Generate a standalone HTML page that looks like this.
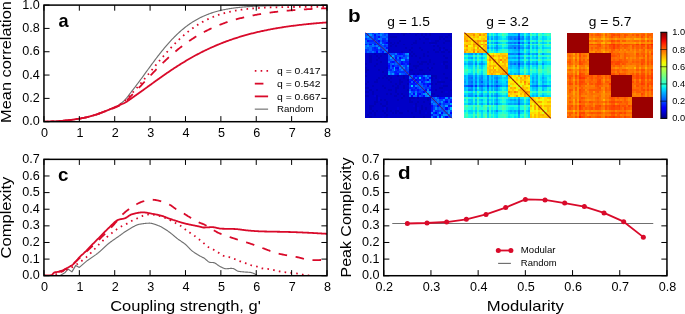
<!DOCTYPE html>
<html><head><meta charset="utf-8"><style>html,body{margin:0;padding:0;background:#fff;}svg{display:block;} svg{will-change:transform}</style></head>
<body><svg width="685" height="314" viewBox="0 0 685 314" font-family="'Liberation Sans', sans-serif">
<rect width="685" height="314" fill="#fff"/>
<defs><clipPath id="ca"><rect x="43.95" y="5.1" width="283.05" height="116.6"/></clipPath><clipPath id="cc"><rect x="43.95" y="159.35" width="283.05" height="116.37"/></clipPath></defs>
<path d="M43.95 121.70L44.83 121.69L45.72 121.68L46.60 121.66L47.49 121.64L48.37 121.61L49.26 121.58L50.14 121.55L51.03 121.51L51.91 121.47L52.80 121.43L53.68 121.38L54.56 121.33L55.45 121.28L56.33 121.23L57.22 121.17L58.10 121.12L58.99 121.06L59.87 121.00L60.76 120.94L61.64 120.88L62.53 120.82L63.41 120.75L64.29 120.67L65.18 120.59L66.06 120.50L66.95 120.41L67.83 120.31L68.72 120.20L69.60 120.09L70.49 119.98L71.37 119.86L72.26 119.74L73.14 119.62L74.02 119.49L74.91 119.36L75.79 119.22L76.68 119.09L77.56 118.95L78.45 118.81L79.33 118.67L80.22 118.52L81.10 118.37L81.98 118.21L82.87 118.04L83.75 117.87L84.64 117.69L85.52 117.50L86.41 117.30L87.29 117.10L88.18 116.89L89.06 116.68L89.95 116.45L90.83 116.22L91.71 115.98L92.60 115.72L93.48 115.46L94.37 115.18L95.25 114.90L96.14 114.61L97.02 114.31L97.91 114.00L98.79 113.68L99.68 113.35L100.56 113.02L101.44 112.69L102.33 112.34L103.21 111.99L104.10 111.64L104.98 111.29L105.87 110.96L106.75 110.62L107.64 110.28L108.52 109.94L109.41 109.59L110.29 109.25L111.17 108.89L112.06 108.52L112.94 108.15L113.83 107.75L114.71 107.34L115.60 106.90L116.48 106.43L117.37 105.92L118.25 105.37L119.14 104.77L120.02 104.12L120.90 103.42L121.79 102.67L122.67 102.00L123.56 101.24L124.44 100.40L125.33 99.47L126.21 98.47L127.10 97.40L127.98 96.28L128.87 95.12L129.75 93.94L130.63 92.75L131.52 91.58L132.40 90.43L133.29 89.31L134.17 88.18L135.06 87.03L135.94 85.88L136.83 84.71L137.71 83.53L138.59 82.35L139.48 81.16L140.36 79.96L141.25 78.76L142.13 77.55L143.02 76.33L143.90 75.12L144.79 73.90L145.67 72.68L146.56 71.46L147.44 70.24L148.32 69.03L149.21 67.81L150.09 66.60L150.98 65.39L151.86 64.19L152.75 62.99L153.63 61.80L154.52 60.61L155.40 59.43L156.29 58.26L157.17 57.10L158.05 55.95L158.94 54.81L159.82 53.68L160.71 52.56L161.59 51.45L162.48 50.35L163.36 49.27L164.25 48.20L165.13 47.14L166.02 46.10L166.90 45.07L167.78 44.05L168.67 43.05L169.55 42.06L170.44 41.09L171.32 40.14L172.21 39.20L173.09 38.28L173.98 37.37L174.86 36.48L175.75 35.60L176.63 34.74L177.51 33.90L178.40 33.07L179.28 32.26L180.17 31.47L181.05 30.69L181.94 29.93L182.82 29.19L183.71 28.46L184.59 27.75L185.48 27.06L186.36 26.38L187.24 25.71L188.13 25.07L189.01 24.43L189.90 23.82L190.78 23.22L191.67 22.63L192.55 22.06L193.44 21.50L194.32 20.96L195.20 20.44L196.09 19.92L196.97 19.42L197.86 18.94L198.74 18.47L199.63 18.01L200.51 17.56L201.40 17.13L202.28 16.71L203.17 16.31L204.05 15.91L204.93 15.53L205.82 15.16L206.70 14.80L207.59 14.45L208.47 14.11L209.36 13.78L210.24 13.46L211.13 13.16L212.01 12.86L212.90 12.57L213.78 12.30L214.66 12.03L215.55 11.77L216.43 11.52L217.32 11.27L218.20 11.04L219.09 10.81L219.97 10.60L220.86 10.39L221.74 10.18L222.63 9.99L223.51 9.80L224.39 9.61L225.28 9.44L226.16 9.27L227.05 9.11L227.93 8.95L228.82 8.80L229.70 8.65L230.59 8.51L231.47 8.38L232.36 8.25L233.24 8.12L234.12 8.01L235.01 7.89L235.89 7.78L236.78 7.67L237.66 7.57L238.55 7.47L239.43 7.38L240.32 7.29L241.20 7.20L242.09 7.12L242.97 7.04L243.85 6.96L244.74 6.89L245.62 6.82L246.51 6.75L247.39 6.69L248.28 6.62L249.16 6.56L250.05 6.51L250.93 6.45L251.81 6.40L252.70 6.35L253.58 6.30L254.47 6.26L255.35 6.21L256.24 6.17L257.12 6.13L258.01 6.09L258.89 6.06L259.78 6.02L260.66 5.99L261.54 5.96L262.43 5.93L263.31 5.90L264.20 5.87L265.08 5.85L265.97 5.82L266.85 5.80L267.74 5.77L268.62 5.75L269.51 5.73L270.39 5.71L271.27 5.69L272.16 5.67L273.04 5.66L273.93 5.64L274.81 5.62L275.70 5.61L276.58 5.60L277.47 5.58L278.35 5.57L279.24 5.56L280.12 5.55L281.00 5.53L281.89 5.52L282.77 5.52L283.66 5.51L284.54 5.50L285.43 5.49L286.31 5.48L287.20 5.47L288.08 5.46L288.97 5.46L289.85 5.45L290.73 5.45L291.62 5.44L292.50 5.43L293.39 5.43L294.27 5.42L295.16 5.42L296.04 5.41L296.93 5.41L297.81 5.41L298.69 5.40L299.58 5.40L300.46 5.39L301.35 5.39L302.23 5.39L303.12 5.39L304.00 5.38L304.89 5.38L305.77 5.38L306.66 5.38L307.54 5.37L308.42 5.37L309.31 5.37L310.19 5.37L311.08 5.37L311.96 5.36L312.85 5.36L313.73 5.36L314.62 5.36L315.50 5.36L316.39 5.36L317.27 5.36L318.15 5.35L319.04 5.35L319.92 5.35L320.81 5.35L321.69 5.35L322.58 5.35L323.46 5.35L324.35 5.35L325.23 5.35L326.12 5.35L327.00 5.35" fill="none" stroke="#707070" stroke-width="1.15" clip-path="url(#ca)" stroke-linejoin="round"/>
<path d="M43.95 121.70L44.83 121.69L45.72 121.68L46.60 121.66L47.49 121.64L48.37 121.61L49.26 121.58L50.14 121.55L51.03 121.51L51.91 121.47L52.80 121.43L53.68 121.38L54.56 121.33L55.45 121.28L56.33 121.23L57.22 121.17L58.10 121.12L58.99 121.06L59.87 121.00L60.76 120.94L61.64 120.88L62.53 120.82L63.41 120.75L64.29 120.67L65.18 120.59L66.06 120.50L66.95 120.41L67.83 120.31L68.72 120.20L69.60 120.09L70.49 119.98L71.37 119.86L72.26 119.74L73.14 119.62L74.02 119.49L74.91 119.36L75.79 119.22L76.68 119.09L77.56 118.95L78.45 118.81L79.33 118.67L80.22 118.52L81.10 118.37L81.98 118.21L82.87 118.04L83.75 117.87L84.64 117.69L85.52 117.50L86.41 117.30L87.29 117.10L88.18 116.89L89.06 116.68L89.95 116.45L90.83 116.22L91.71 115.98L92.60 115.72L93.48 115.46L94.37 115.18L95.25 114.90L96.14 114.61L97.02 114.31L97.91 114.00L98.79 113.68L99.68 113.35L100.56 113.02L101.44 112.69L102.33 112.34L103.21 111.99L104.10 111.64L104.98 111.29L105.87 110.95L106.75 110.60L107.64 110.25L108.52 109.89L109.41 109.53L110.29 109.17L111.17 108.80L112.06 108.43L112.94 108.04L113.83 107.65L114.71 107.25L115.60 106.83L116.48 106.39L117.37 105.92L118.25 105.42L119.14 104.88L120.02 104.31L120.90 103.71L121.79 103.06L122.67 102.51L123.56 101.88L124.44 101.18L125.33 100.41L126.21 99.57L127.10 98.68L127.98 97.74L128.87 96.77L129.75 95.77L130.63 94.77L131.52 93.77L132.40 92.81L133.29 91.85L134.17 90.89L135.06 89.91L135.94 88.92L136.83 87.92L137.71 86.92L138.59 85.90L139.48 84.88L140.36 83.84L141.25 82.80L142.13 81.76L143.02 80.71L143.90 79.65L144.79 78.59L145.67 77.52L146.56 76.45L147.44 75.38L148.32 74.30L149.21 73.23L150.09 72.15L150.98 71.07L151.86 69.99L152.75 68.92L153.63 67.84L154.52 66.76L155.40 65.69L156.29 64.62L157.17 63.56L158.05 62.50L158.94 61.44L159.82 60.38L160.71 59.34L161.59 58.30L162.48 57.26L163.36 56.24L164.25 55.22L165.13 54.20L166.02 53.20L166.90 52.20L167.78 51.22L168.67 50.24L169.55 49.27L170.44 48.32L171.32 47.37L172.21 46.43L173.09 45.51L173.98 44.59L174.86 43.69L175.75 42.80L176.63 41.92L177.51 41.05L178.40 40.20L179.28 39.36L180.17 38.53L181.05 37.71L181.94 36.91L182.82 36.12L183.71 35.34L184.59 34.58L185.48 33.82L186.36 33.09L187.24 32.36L188.13 31.65L189.01 30.95L189.90 30.27L190.78 29.60L191.67 28.94L192.55 28.30L193.44 27.67L194.32 27.05L195.20 26.44L196.09 25.85L196.97 25.28L197.86 24.71L198.74 24.16L199.63 23.62L200.51 23.09L201.40 22.58L202.28 22.08L203.17 21.59L204.05 21.11L204.93 20.65L205.82 20.19L206.70 19.75L207.59 19.32L208.47 18.90L209.36 18.49L210.24 18.10L211.13 17.71L212.01 17.33L212.90 16.97L213.78 16.61L214.66 16.27L215.55 15.94L216.43 15.61L217.32 15.30L218.20 14.99L219.09 14.69L219.97 14.41L220.86 14.13L221.74 13.86L222.63 13.59L223.51 13.34L224.39 13.10L225.28 12.86L226.16 12.63L227.05 12.40L227.93 12.19L228.82 11.98L229.70 11.78L230.59 11.59L231.47 11.40L232.36 11.22L233.24 11.04L234.12 10.87L235.01 10.71L235.89 10.55L236.78 10.40L237.66 10.25L238.55 10.11L239.43 9.98L240.32 9.85L241.20 9.72L242.09 9.60L242.97 9.48L243.85 9.37L244.74 9.26L245.62 9.16L246.51 9.06L247.39 8.96L248.28 8.87L249.16 8.78L250.05 8.69L250.93 8.61L251.81 8.53L252.70 8.46L253.58 8.39L254.47 8.32L255.35 8.25L256.24 8.19L257.12 8.12L258.01 8.07L258.89 8.01L259.78 7.96L260.66 7.90L261.54 7.85L262.43 7.81L263.31 7.76L264.20 7.72L265.08 7.68L265.97 7.64L266.85 7.60L267.74 7.56L268.62 7.53L269.51 7.49L270.39 7.46L271.27 7.43L272.16 7.41L273.04 7.38L273.93 7.35L274.81 7.33L275.70 7.30L276.58 7.28L277.47 7.26L278.35 7.24L279.24 7.22L280.12 7.20L281.00 7.18L281.89 7.16L282.77 7.15L283.66 7.13L284.54 7.12L285.43 7.11L286.31 7.09L287.20 7.08L288.08 7.07L288.97 7.06L289.85 7.04L290.73 7.04L291.62 7.03L292.50 7.02L293.39 7.01L294.27 7.00L295.16 6.99L296.04 6.98L296.93 6.98L297.81 6.97L298.69 6.96L299.58 6.96L300.46 6.95L301.35 6.95L302.23 6.94L303.12 6.94L304.00 6.93L304.89 6.93L305.77 6.92L306.66 6.92L307.54 6.92L308.42 6.91L309.31 6.91L310.19 6.91L311.08 6.90L311.96 6.90L312.85 6.90L313.73 6.90L314.62 6.89L315.50 6.89L316.39 6.89L317.27 6.89L318.15 6.89L319.04 6.88L319.92 6.88L320.81 6.88L321.69 6.88L322.58 6.88L323.46 6.88L324.35 6.88L325.23 6.87L326.12 6.87L327.00 6.87" fill="none" stroke="#d90a2a" stroke-width="1.8" stroke-dasharray="1.6 4.24" stroke-dashoffset="-2.88" clip-path="url(#ca)" stroke-linejoin="round"/>
<path d="M43.95 121.70L44.83 121.69L45.72 121.68L46.60 121.66L47.49 121.64L48.37 121.61L49.26 121.58L50.14 121.55L51.03 121.51L51.91 121.47L52.80 121.43L53.68 121.38L54.56 121.33L55.45 121.28L56.33 121.23L57.22 121.17L58.10 121.12L58.99 121.06L59.87 121.00L60.76 120.94L61.64 120.88L62.53 120.82L63.41 120.75L64.29 120.67L65.18 120.59L66.06 120.50L66.95 120.41L67.83 120.31L68.72 120.20L69.60 120.09L70.49 119.98L71.37 119.86L72.26 119.74L73.14 119.62L74.02 119.49L74.91 119.36L75.79 119.22L76.68 119.09L77.56 118.95L78.45 118.81L79.33 118.67L80.22 118.52L81.10 118.37L81.98 118.21L82.87 118.04L83.75 117.87L84.64 117.69L85.52 117.50L86.41 117.30L87.29 117.10L88.18 116.89L89.06 116.68L89.95 116.45L90.83 116.22L91.71 115.98L92.60 115.72L93.48 115.46L94.37 115.18L95.25 114.90L96.14 114.61L97.02 114.31L97.91 114.00L98.79 113.68L99.68 113.35L100.56 113.02L101.44 112.69L102.33 112.34L103.21 111.99L104.10 111.64L104.98 111.29L105.87 110.96L106.75 110.63L107.64 110.31L108.52 109.99L109.41 109.67L110.29 109.35L111.17 109.03L112.06 108.71L112.94 108.38L113.83 108.05L114.71 107.71L115.60 107.35L116.48 106.97L117.37 106.57L118.25 106.13L119.14 105.66L120.02 105.16L120.90 104.62L121.79 104.05L122.67 103.56L123.56 103.00L124.44 102.37L125.33 101.66L126.21 100.89L127.10 100.07L127.98 99.20L128.87 98.29L129.75 97.36L130.63 96.42L131.52 95.48L132.40 94.57L133.29 93.67L134.17 92.76L135.06 91.85L135.94 90.93L136.83 90.01L137.71 89.08L138.59 88.15L139.48 87.22L140.36 86.28L141.25 85.34L142.13 84.40L143.02 83.46L143.90 82.51L144.79 81.57L145.67 80.63L146.56 79.68L147.44 78.74L148.32 77.80L149.21 76.86L150.09 75.93L150.98 75.00L151.86 74.07L152.75 73.14L153.63 72.22L154.52 71.31L155.40 70.39L156.29 69.49L157.17 68.58L158.05 67.69L158.94 66.80L159.82 65.91L160.71 65.03L161.59 64.16L162.48 63.30L163.36 62.44L164.25 61.59L165.13 60.75L166.02 59.91L166.90 59.08L167.78 58.26L168.67 57.45L169.55 56.64L170.44 55.85L171.32 55.06L172.21 54.28L173.09 53.51L173.98 52.75L174.86 51.99L175.75 51.25L176.63 50.51L177.51 49.78L178.40 49.06L179.28 48.35L180.17 47.65L181.05 46.96L181.94 46.28L182.82 45.60L183.71 44.94L184.59 44.28L185.48 43.63L186.36 42.99L187.24 42.36L188.13 41.74L189.01 41.13L189.90 40.52L190.78 39.93L191.67 39.34L192.55 38.76L193.44 38.19L194.32 37.63L195.20 37.08L196.09 36.54L196.97 36.00L197.86 35.47L198.74 34.95L199.63 34.44L200.51 33.94L201.40 33.44L202.28 32.95L203.17 32.48L204.05 32.00L204.93 31.54L205.82 31.08L206.70 30.63L207.59 30.19L208.47 29.76L209.36 29.33L210.24 28.91L211.13 28.49L212.01 28.09L212.90 27.69L213.78 27.30L214.66 26.91L215.55 26.53L216.43 26.16L217.32 25.79L218.20 25.43L219.09 25.08L219.97 24.73L220.86 24.39L221.74 24.05L222.63 23.72L223.51 23.40L224.39 23.08L225.28 22.77L226.16 22.46L227.05 22.16L227.93 21.86L228.82 21.57L229.70 21.29L230.59 21.01L231.47 20.73L232.36 20.46L233.24 20.20L234.12 19.94L235.01 19.68L235.89 19.43L236.78 19.18L237.66 18.94L238.55 18.70L239.43 18.47L240.32 18.24L241.20 18.02L242.09 17.80L242.97 17.58L243.85 17.37L244.74 17.16L245.62 16.96L246.51 16.76L247.39 16.56L248.28 16.37L249.16 16.18L250.05 15.99L250.93 15.81L251.81 15.63L252.70 15.45L253.58 15.28L254.47 15.11L255.35 14.95L256.24 14.78L257.12 14.63L258.01 14.47L258.89 14.31L259.78 14.16L260.66 14.02L261.54 13.87L262.43 13.73L263.31 13.59L264.20 13.45L265.08 13.32L265.97 13.19L266.85 13.06L267.74 12.93L268.62 12.81L269.51 12.69L270.39 12.57L271.27 12.45L272.16 12.34L273.04 12.22L273.93 12.11L274.81 12.01L275.70 11.90L276.58 11.79L277.47 11.69L278.35 11.59L279.24 11.49L280.12 11.40L281.00 11.30L281.89 11.21L282.77 11.12L283.66 11.03L284.54 10.94L285.43 10.86L286.31 10.77L287.20 10.69L288.08 10.61L288.97 10.53L289.85 10.45L290.73 10.38L291.62 10.30L292.50 10.23L293.39 10.16L294.27 10.09L295.16 10.02L296.04 9.95L296.93 9.89L297.81 9.82L298.69 9.76L299.58 9.69L300.46 9.63L301.35 9.57L302.23 9.51L303.12 9.46L304.00 9.40L304.89 9.34L305.77 9.29L306.66 9.24L307.54 9.18L308.42 9.13L309.31 9.08L310.19 9.03L311.08 8.99L311.96 8.94L312.85 8.89L313.73 8.85L314.62 8.80L315.50 8.76L316.39 8.71L317.27 8.67L318.15 8.63L319.04 8.59L319.92 8.55L320.81 8.51L321.69 8.47L322.58 8.44L323.46 8.40L324.35 8.36L325.23 8.33L326.12 8.29L327.00 8.26" fill="none" stroke="#d90a2a" stroke-width="1.8" stroke-dasharray="8.62 8.62" stroke-dashoffset="-0.67" clip-path="url(#ca)" stroke-linejoin="round"/>
<path d="M43.95 121.70L44.83 121.69L45.72 121.68L46.60 121.66L47.49 121.64L48.37 121.61L49.26 121.58L50.14 121.55L51.03 121.51L51.91 121.47L52.80 121.43L53.68 121.38L54.56 121.33L55.45 121.28L56.33 121.23L57.22 121.17L58.10 121.12L58.99 121.06L59.87 121.00L60.76 120.94L61.64 120.88L62.53 120.82L63.41 120.75L64.29 120.67L65.18 120.59L66.06 120.50L66.95 120.41L67.83 120.31L68.72 120.20L69.60 120.09L70.49 119.98L71.37 119.86L72.26 119.74L73.14 119.62L74.02 119.49L74.91 119.36L75.79 119.22L76.68 119.09L77.56 118.95L78.45 118.81L79.33 118.67L80.22 118.52L81.10 118.37L81.98 118.21L82.87 118.04L83.75 117.87L84.64 117.69L85.52 117.50L86.41 117.30L87.29 117.10L88.18 116.89L89.06 116.68L89.95 116.45L90.83 116.22L91.71 115.98L92.60 115.72L93.48 115.46L94.37 115.18L95.25 114.90L96.14 114.61L97.02 114.31L97.91 114.00L98.79 113.68L99.68 113.35L100.56 113.02L101.44 112.69L102.33 112.34L103.21 111.99L104.10 111.64L104.98 111.29L105.87 110.94L106.75 110.58L107.64 110.21L108.52 109.85L109.41 109.47L110.29 109.10L111.17 108.73L112.06 108.36L112.94 107.99L113.83 107.63L114.71 107.26L115.60 106.90L116.48 106.53L117.37 106.15L118.25 105.76L119.14 105.36L120.02 104.94L120.90 104.52L121.79 104.08L122.67 103.76L123.56 103.39L124.44 102.96L125.33 102.49L126.21 101.97L127.10 101.41L127.98 100.82L128.87 100.21L129.75 99.58L130.63 98.94L131.52 98.31L132.40 97.69L133.29 97.08L134.17 96.46L135.06 95.84L135.94 95.22L136.83 94.60L137.71 93.97L138.59 93.34L139.48 92.71L140.36 92.08L141.25 91.44L142.13 90.81L143.02 90.17L143.90 89.53L144.79 88.89L145.67 88.25L146.56 87.61L147.44 86.97L148.32 86.33L149.21 85.69L150.09 85.05L150.98 84.40L151.86 83.76L152.75 83.12L153.63 82.49L154.52 81.85L155.40 81.21L156.29 80.58L157.17 79.94L158.05 79.31L158.94 78.68L159.82 78.05L160.71 77.42L161.59 76.80L162.48 76.18L163.36 75.56L164.25 74.94L165.13 74.33L166.02 73.72L166.90 73.11L167.78 72.50L168.67 71.90L169.55 71.30L170.44 70.70L171.32 70.11L172.21 69.52L173.09 68.93L173.98 68.35L174.86 67.77L175.75 67.19L176.63 66.62L177.51 66.05L178.40 65.49L179.28 64.93L180.17 64.37L181.05 63.82L181.94 63.27L182.82 62.73L183.71 62.19L184.59 61.65L185.48 61.12L186.36 60.59L187.24 60.07L188.13 59.55L189.01 59.04L189.90 58.53L190.78 58.02L191.67 57.52L192.55 57.02L193.44 56.53L194.32 56.04L195.20 55.56L196.09 55.08L196.97 54.61L197.86 54.14L198.74 53.67L199.63 53.21L200.51 52.76L201.40 52.31L202.28 51.86L203.17 51.42L204.05 50.98L204.93 50.55L205.82 50.12L206.70 49.69L207.59 49.27L208.47 48.86L209.36 48.45L210.24 48.04L211.13 47.64L212.01 47.24L212.90 46.85L213.78 46.46L214.66 46.07L215.55 45.69L216.43 45.32L217.32 44.94L218.20 44.58L219.09 44.21L219.97 43.85L220.86 43.50L221.74 43.15L222.63 42.80L223.51 42.46L224.39 42.12L225.28 41.79L226.16 41.46L227.05 41.13L227.93 40.81L228.82 40.49L229.70 40.18L230.59 39.87L231.47 39.56L232.36 39.26L233.24 38.96L234.12 38.66L235.01 38.37L235.89 38.08L236.78 37.80L237.66 37.52L238.55 37.24L239.43 36.97L240.32 36.70L241.20 36.43L242.09 36.17L242.97 35.91L243.85 35.65L244.74 35.40L245.62 35.15L246.51 34.90L247.39 34.66L248.28 34.42L249.16 34.18L250.05 33.95L250.93 33.72L251.81 33.49L252.70 33.27L253.58 33.05L254.47 32.83L255.35 32.62L256.24 32.40L257.12 32.20L258.01 31.99L258.89 31.79L259.78 31.58L260.66 31.39L261.54 31.19L262.43 31.00L263.31 30.81L264.20 30.62L265.08 30.44L265.97 30.26L266.85 30.08L267.74 29.90L268.62 29.73L269.51 29.55L270.39 29.39L271.27 29.22L272.16 29.05L273.04 28.89L273.93 28.73L274.81 28.57L275.70 28.42L276.58 28.26L277.47 28.11L278.35 27.97L279.24 27.82L280.12 27.67L281.00 27.53L281.89 27.39L282.77 27.25L283.66 27.12L284.54 26.98L285.43 26.85L286.31 26.72L287.20 26.59L288.08 26.46L288.97 26.34L289.85 26.22L290.73 26.10L291.62 25.98L292.50 25.86L293.39 25.74L294.27 25.63L295.16 25.52L296.04 25.41L296.93 25.30L297.81 25.19L298.69 25.08L299.58 24.98L300.46 24.88L301.35 24.78L302.23 24.68L303.12 24.58L304.00 24.48L304.89 24.39L305.77 24.29L306.66 24.20L307.54 24.11L308.42 24.02L309.31 23.93L310.19 23.84L311.08 23.76L311.96 23.67L312.85 23.59L313.73 23.51L314.62 23.43L315.50 23.35L316.39 23.27L317.27 23.20L318.15 23.12L319.04 23.04L319.92 22.97L320.81 22.90L321.69 22.83L322.58 22.76L323.46 22.69L324.35 22.62L325.23 22.55L326.12 22.49L327.00 22.42" fill="none" stroke="#d90a2a" stroke-width="1.8" clip-path="url(#ca)" stroke-linejoin="round"/>
<path d="M43.95 121.70v-5.6M43.95 5.10v5.6M79.33 121.70v-5.6M79.33 5.10v5.6M114.71 121.70v-5.6M114.71 5.10v5.6M150.09 121.70v-5.6M150.09 5.10v5.6M185.48 121.70v-5.6M185.48 5.10v5.6M220.86 121.70v-5.6M220.86 5.10v5.6M256.24 121.70v-5.6M256.24 5.10v5.6M291.62 121.70v-5.6M291.62 5.10v5.6M327.00 121.70v-5.6M327.00 5.10v5.6M43.95 121.70h5.6M327.00 121.70h-5.6M43.95 98.38h5.6M327.00 98.38h-5.6M43.95 75.06h5.6M327.00 75.06h-5.6M43.95 51.74h5.6M327.00 51.74h-5.6M43.95 28.42h5.6M327.00 28.42h-5.6M43.95 5.10h5.6M327.00 5.10h-5.6" stroke="#000" stroke-width="1.0" fill="none"/>
<rect x="43.95" y="5.10" width="283.05" height="116.60" fill="none" stroke="#000" stroke-width="1.5"/>
<text x="44.55" y="136.80" font-size="12.35" text-anchor="middle" textLength="7.01" lengthAdjust="spacingAndGlyphs" fill="#000">0</text>
<text x="79.93" y="136.80" font-size="12.35" text-anchor="middle" textLength="7.01" lengthAdjust="spacingAndGlyphs" fill="#000">1</text>
<text x="115.31" y="136.80" font-size="12.35" text-anchor="middle" textLength="7.01" lengthAdjust="spacingAndGlyphs" fill="#000">2</text>
<text x="150.69" y="136.80" font-size="12.35" text-anchor="middle" textLength="7.01" lengthAdjust="spacingAndGlyphs" fill="#000">3</text>
<text x="186.08" y="136.80" font-size="12.35" text-anchor="middle" textLength="7.01" lengthAdjust="spacingAndGlyphs" fill="#000">4</text>
<text x="221.46" y="136.80" font-size="12.35" text-anchor="middle" textLength="7.01" lengthAdjust="spacingAndGlyphs" fill="#000">5</text>
<text x="256.84" y="136.80" font-size="12.35" text-anchor="middle" textLength="7.01" lengthAdjust="spacingAndGlyphs" fill="#000">6</text>
<text x="292.22" y="136.80" font-size="12.35" text-anchor="middle" textLength="7.01" lengthAdjust="spacingAndGlyphs" fill="#000">7</text>
<text x="327.60" y="136.80" font-size="12.35" text-anchor="middle" textLength="7.01" lengthAdjust="spacingAndGlyphs" fill="#000">8</text>
<text x="39.75" y="125.25" font-size="12.35" text-anchor="end" textLength="17.53" lengthAdjust="spacingAndGlyphs" fill="#000">0.0</text>
<text x="39.75" y="101.93" font-size="12.35" text-anchor="end" textLength="17.53" lengthAdjust="spacingAndGlyphs" fill="#000">0.2</text>
<text x="39.75" y="78.61" font-size="12.35" text-anchor="end" textLength="17.53" lengthAdjust="spacingAndGlyphs" fill="#000">0.4</text>
<text x="39.75" y="55.29" font-size="12.35" text-anchor="end" textLength="17.53" lengthAdjust="spacingAndGlyphs" fill="#000">0.6</text>
<text x="39.75" y="31.97" font-size="12.35" text-anchor="end" textLength="17.53" lengthAdjust="spacingAndGlyphs" fill="#000">0.8</text>
<text x="39.75" y="8.65" font-size="12.35" text-anchor="end" textLength="17.53" lengthAdjust="spacingAndGlyphs" fill="#000">1.0</text>
<text x="10.70" y="62.00" font-size="14.91" text-anchor="middle" textLength="121.82" lengthAdjust="spacingAndGlyphs" transform="rotate(-90 10.70 62.00)" fill="#000">Mean correlation</text>
<text x="58.60" y="26.60" font-size="18.74" text-anchor="start" textLength="10.10" lengthAdjust="spacingAndGlyphs" font-weight="bold" fill="#000">a</text>
<path d="M254.8 70.90H268.1" stroke="#d90a2a" stroke-width="1.8" stroke-dasharray="1.6 4.24"/>
<text x="277.00" y="74.10" font-size="9.16" text-anchor="start" textLength="43.61" lengthAdjust="spacingAndGlyphs" fill="#000">q = 0.417</text>
<path d="M254.8 83.65H268.1" stroke="#d90a2a" stroke-width="1.8" stroke-dasharray="8.62 8.62"/>
<text x="277.00" y="86.85" font-size="9.16" text-anchor="start" textLength="43.61" lengthAdjust="spacingAndGlyphs" fill="#000">q = 0.542</text>
<path d="M254.8 96.40H268.1" stroke="#d90a2a" stroke-width="1.8"/>
<text x="277.00" y="99.60" font-size="9.16" text-anchor="start" textLength="43.61" lengthAdjust="spacingAndGlyphs" fill="#000">q = 0.667</text>
<path d="M254.8 109.15H268.1" stroke="#707070" stroke-width="1.15"/>
<text x="277.00" y="112.35" font-size="9.16" text-anchor="start" textLength="36.51" lengthAdjust="spacingAndGlyphs" fill="#000">Random</text>
<path d="M59.87 275.72L65.18 272.40L68.01 269.07L71.90 271.90L75.79 265.41L79.33 267.41L87.47 260.43L95.96 254.61L95.96 254.61L96.36 254.30L96.77 253.99L97.17 253.68L97.58 253.37L97.98 253.05L98.39 252.73L98.79 252.40L99.20 252.07L99.60 251.73L100.00 251.38L100.41 251.03L100.81 250.66L101.22 250.30L101.62 249.92L102.03 249.55L102.43 249.17L102.83 248.79L103.24 248.40L103.64 248.02L104.05 247.63L104.45 247.25L104.86 246.87L105.26 246.49L105.67 246.11L106.07 245.74L106.47 245.37L106.88 245.01L107.28 244.65L107.69 244.30L108.09 243.96L108.50 243.63L108.90 243.31L109.30 242.99L109.71 242.68L110.11 242.37L110.52 242.07L110.92 241.77L111.33 241.47L111.73 241.18L112.13 240.89L112.54 240.60L112.94 240.32L113.35 240.04L113.75 239.76L114.16 239.48L114.56 239.20L114.97 238.92L115.37 238.64L115.77 238.37L116.18 238.09L116.58 237.81L116.99 237.53L117.39 237.25L117.80 236.97L118.20 236.69L118.60 236.40L119.01 236.11L119.41 235.82L119.82 235.53L120.22 235.23L120.63 234.93L121.03 234.64L121.43 234.34L121.84 234.04L122.24 233.74L122.65 233.45L123.05 233.15L123.46 232.86L123.86 232.57L124.27 232.29L124.67 232.01L125.07 231.73L125.48 231.46L125.88 231.19L126.29 230.93L126.69 230.67L127.10 230.42L127.50 230.18L127.90 229.95L128.31 229.71L128.71 229.47L129.12 229.23L129.52 228.99L129.93 228.75L130.33 228.50L130.74 228.26L131.14 228.02L131.54 227.78L131.95 227.54L132.35 227.30L132.76 227.07L133.16 226.84L133.57 226.62L133.97 226.40L134.37 226.19L134.78 225.98L135.18 225.78L135.59 225.59L135.99 225.40L136.40 225.23L136.80 225.06L137.20 224.91L137.61 224.76L138.01 224.63L138.42 224.51L138.82 224.40L139.23 224.30L139.63 224.22L140.04 224.15L140.44 224.08L140.84 224.02L141.25 223.95L141.65 223.89L142.06 223.83L142.46 223.77L142.87 223.71L143.27 223.65L143.67 223.60L144.08 223.55L144.48 223.50L144.89 223.45L145.29 223.41L145.70 223.37L146.10 223.34L146.51 223.30L146.91 223.27L147.31 223.25L147.72 223.23L148.12 223.21L148.53 223.20L148.93 223.19L149.34 223.19L149.74 223.19L150.14 223.21L150.55 223.25L150.95 223.30L151.36 223.36L151.76 223.43L152.17 223.51L152.57 223.61L152.97 223.71L153.38 223.83L153.78 223.95L154.19 224.07L154.59 224.21L155.00 224.35L155.40 224.49L155.81 224.64L156.21 224.79L156.61 224.95L157.02 225.10L157.42 225.26L157.83 225.42L158.23 225.58L158.64 225.73L159.04 225.89L159.44 226.05L159.85 226.22L160.25 226.40L160.66 226.60L161.06 226.80L161.47 227.01L161.87 227.23L162.28 227.45L162.68 227.69L163.08 227.93L163.49 228.17L163.89 228.42L164.30 228.68L164.70 228.94L165.11 229.21L165.51 229.47L165.91 229.74L166.32 230.02L166.72 230.29L167.13 230.57L167.53 230.84L167.94 231.12L168.34 231.40L168.74 231.67L169.15 231.96L169.55 232.25L169.96 232.56L170.36 232.87L170.77 233.18L171.17 233.51L171.58 233.83L171.98 234.17L172.38 234.50L172.79 234.84L173.19 235.18L173.60 235.52L174.00 235.86L174.41 236.20L174.81 236.55L175.21 236.88L175.62 237.22L176.02 237.55L176.43 237.88L176.83 238.21L177.24 238.53L177.64 238.84L178.04 239.15L178.45 239.44L178.85 239.73L179.26 240.02L179.66 240.30L180.07 240.57L180.47 240.84L180.88 241.11L181.28 241.38L181.68 241.65L182.09 241.92L182.49 242.19L182.90 242.47L183.30 242.76L183.71 243.05L184.11 243.35L184.51 243.65L184.92 243.97L185.32 244.30L185.73 244.65L186.13 245.02L186.54 245.40L186.94 245.80L187.35 246.21L187.75 246.63L188.15 247.05L188.56 247.47L188.96 247.89L189.37 248.31L189.77 248.73L190.18 249.13L190.58 249.53L190.98 249.91L191.39 250.28L191.79 250.62L192.20 250.95L192.60 251.26L193.01 251.56L193.41 251.86L193.81 252.14L194.22 252.42L194.62 252.70L195.03 252.97L195.43 253.23L195.84 253.49L196.24 253.74L196.65 253.99L197.05 254.24L197.45 254.49L197.86 254.73L198.26 254.97L198.67 255.21L199.07 255.44L199.48 255.68L199.88 255.92L200.28 256.14L200.69 256.36L201.09 256.58L201.50 256.79L201.90 256.99L202.31 257.20L202.71 257.41L203.12 257.63L203.52 257.85L203.92 258.08L204.33 258.33L204.73 258.60L205.14 258.91L205.54 259.24L205.95 259.59L206.35 259.95L206.75 260.31L207.16 260.66L207.56 261.01L207.97 261.33L208.37 261.63L208.78 261.89L209.18 262.11L209.58 262.27L209.99 262.38L210.39 262.43L210.80 262.46L211.20 262.48L211.61 262.50L212.01 262.51L212.42 262.53L212.82 262.54L213.22 262.57L213.63 262.61L214.03 262.70L214.44 262.84L214.84 263.02L215.25 263.23L215.65 263.48L216.05 263.75L216.46 264.04L216.86 264.34L217.27 264.65L217.67 264.96L218.08 265.27L218.48 265.57L218.89 265.85L219.29 266.11L219.69 266.35L220.10 266.55L220.50 266.74L220.91 266.93L221.31 267.12L221.72 267.32L222.12 267.52L222.52 267.71L222.93 267.89L223.33 268.07L223.74 268.23L224.14 268.37L224.55 268.49L224.95 268.60L225.35 268.67L225.76 268.72L226.16 268.74L226.57 268.73L226.97 268.71L227.38 268.69L227.78 268.65L228.19 268.62L228.59 268.58L228.99 268.54L229.40 268.50L229.80 268.46L230.21 268.43L230.61 268.41L231.02 268.41L231.42 268.41L231.82 268.43L232.23 268.46L232.63 268.50L233.04 268.55L233.44 268.61L233.85 268.73L234.25 268.91L234.65 269.13L235.06 269.39L235.46 269.68L235.87 269.97L236.27 270.26L236.68 270.53L237.08 270.78L237.49 270.99L237.89 271.15L238.29 271.25L238.70 271.32L239.10 271.39L239.51 271.46L239.91 271.51L240.32 271.57L240.72 271.62L241.12 271.67L241.53 271.71L241.93 271.75L242.34 271.79L242.74 271.82L243.15 271.86L243.55 271.89L243.96 271.93L244.36 271.96L244.76 271.99L245.17 272.02L245.57 272.06L245.98 272.09L246.38 272.12L246.79 272.15L247.19 272.17L247.59 272.19L248.00 272.21L248.40 272.24L248.81 272.27L249.21 272.30L249.62 272.33L250.02 272.37L250.42 272.42L250.83 272.49L251.23 272.57L251.64 272.68L252.04 272.80L252.45 272.93L252.85 273.08L253.26 273.24L253.66 273.42L254.06 273.61L254.47 273.80L254.87 274.01L255.28 274.22L255.68 274.44L256.09 274.68L256.49 274.99L256.89 275.35L257.30 275.72" fill="none" stroke="#707070" stroke-width="1.15" clip-path="url(#cc)" stroke-linejoin="round"/>
<path d="M43.95 275.72L44.40 275.72L44.85 275.72L45.30 275.72L45.75 275.72L46.19 275.72L46.64 275.72L47.09 275.72L47.54 275.72L47.99 275.72L48.44 275.72L48.89 275.72L49.34 275.72L49.79 275.72L50.23 275.72L50.68 275.72L51.13 275.71L51.58 275.67L52.03 275.60L52.48 275.52L52.93 275.41L53.38 275.29L53.83 275.15L54.27 274.99L54.72 274.82L55.17 274.63L55.62 274.43L56.07 274.23L56.52 274.02L56.97 273.80L57.42 273.58L57.87 273.35L58.32 273.12L58.76 272.90L59.21 272.67L59.66 272.45L60.11 272.24L60.56 272.03L61.01 271.83L61.46 271.64L61.91 271.46L62.36 271.28L62.80 271.10L63.25 270.93L63.70 270.75L64.15 270.58L64.60 270.40L65.05 270.23L65.50 270.05L65.95 269.87L66.40 269.69L66.84 269.51L67.29 269.33L67.74 269.15L68.19 268.96L68.64 268.77L69.09 268.57L69.54 268.37L69.99 268.17L70.44 267.97L70.88 267.75L71.33 267.54L71.78 267.32L72.23 267.09L72.68 266.85L73.13 266.61L73.58 266.35L74.03 266.09L74.48 265.83L74.92 265.55L75.37 265.27L75.82 264.98L76.27 264.69L76.72 264.39L77.17 264.09L77.62 263.78L78.07 263.47L78.52 263.16L78.97 262.85L79.41 262.53L79.86 262.21L80.31 261.89L80.76 261.57L81.21 261.24L81.66 260.91L82.11 260.57L82.56 260.23L83.01 259.88L83.45 259.53L83.90 259.18L84.35 258.81L84.80 258.45L85.25 258.08L85.70 257.70L86.15 257.32L86.60 256.94L87.05 256.54L87.49 256.14L87.94 255.73L88.39 255.32L88.84 254.89L89.29 254.46L89.74 254.03L90.19 253.60L90.64 253.16L91.09 252.72L91.53 252.27L91.98 251.83L92.43 251.37L92.88 250.90L93.33 250.43L93.78 249.96L94.23 249.48L94.68 249.00L95.13 248.51L95.57 248.03L96.02 247.54L96.47 247.05L96.92 246.57L97.37 246.09L97.82 245.61L98.27 245.13L98.72 244.66L99.17 244.20L99.61 243.74L100.06 243.30L100.51 242.86L100.96 242.43L101.41 242.00L101.86 241.58L102.31 241.16L102.76 240.75L103.21 240.34L103.66 239.93L104.10 239.53L104.55 239.13L105.00 238.73L105.45 238.34L105.90 237.95L106.35 237.56L106.80 237.18L107.25 236.80L107.70 236.42L108.14 236.05L108.59 235.67L109.04 235.31L109.49 234.94L109.94 234.58L110.39 234.22L110.84 233.86L111.29 233.51L111.74 233.15L112.18 232.80L112.63 232.44L113.08 232.09L113.53 231.74L113.98 231.39L114.43 231.05L114.88 230.71L115.33 230.37L115.78 230.04L116.22 229.71L116.67 229.39L117.12 229.07L117.57 228.76L118.02 228.45L118.47 228.15L118.92 227.86L119.37 227.58L119.82 227.30L120.26 227.03L120.71 226.77L121.16 226.52L121.61 226.28L122.06 226.05L122.51 225.82L122.96 225.59L123.41 225.37L123.86 225.15L124.31 224.94L124.75 224.72L125.20 224.51L125.65 224.29L126.10 224.07L126.55 223.85L127.00 223.63L127.45 223.40L127.90 223.16L128.35 222.92L128.79 222.67L129.24 222.41L129.69 222.14L130.14 221.87L130.59 221.61L131.04 221.34L131.49 221.08L131.94 220.82L132.39 220.57L132.83 220.33L133.28 220.11L133.73 219.89L134.18 219.69L134.63 219.48L135.08 219.29L135.53 219.09L135.98 218.90L136.43 218.71L136.87 218.53L137.32 218.34L137.77 218.15L138.22 217.95L138.67 217.75L139.12 217.55L139.57 217.33L140.02 217.11L140.47 216.88L140.91 216.66L141.36 216.45L141.81 216.24L142.26 216.05L142.71 215.87L143.16 215.71L143.61 215.57L144.06 215.45L144.51 215.33L144.95 215.22L145.40 215.10L145.85 214.99L146.30 214.88L146.75 214.78L147.20 214.69L147.65 214.61L148.10 214.54L148.55 214.47L149.00 214.43L149.44 214.39L149.89 214.38L150.34 214.38L150.79 214.39L151.24 214.42L151.69 214.45L152.14 214.50L152.59 214.55L153.04 214.61L153.48 214.68L153.93 214.76L154.38 214.84L154.83 214.93L155.28 215.03L155.73 215.13L156.18 215.23L156.63 215.33L157.08 215.43L157.52 215.54L157.97 215.65L158.42 215.75L158.87 215.86L159.32 215.96L159.77 216.08L160.22 216.20L160.67 216.33L161.12 216.47L161.56 216.61L162.01 216.76L162.46 216.91L162.91 217.07L163.36 217.24L163.81 217.41L164.26 217.58L164.71 217.76L165.16 217.94L165.60 218.12L166.05 218.31L166.50 218.49L166.95 218.68L167.40 218.87L167.85 219.06L168.30 219.25L168.75 219.46L169.20 219.66L169.64 219.88L170.09 220.10L170.54 220.33L170.99 220.56L171.44 220.79L171.89 221.03L172.34 221.27L172.79 221.51L173.24 221.75L173.69 222.00L174.13 222.24L174.58 222.49L175.03 222.73L175.48 222.97L175.93 223.21L176.38 223.45L176.83 223.69L177.28 223.93L177.73 224.17L178.17 224.42L178.62 224.66L179.07 224.92L179.52 225.18L179.97 225.44L180.42 225.72L180.87 226.01L181.32 226.31L181.77 226.63L182.21 226.97L182.66 227.32L183.11 227.68L183.56 228.04L184.01 228.41L184.46 228.77L184.91 229.13L185.36 229.48L185.81 229.82L186.25 230.15L186.70 230.47L187.15 230.79L187.60 231.10L188.05 231.42L188.50 231.72L188.95 232.03L189.40 232.33L189.85 232.64L190.29 232.94L190.74 233.24L191.19 233.55L191.64 233.85L192.09 234.15L192.54 234.46L192.99 234.77L193.44 235.08L193.89 235.40L194.34 235.72L194.78 236.05L195.23 236.38L195.68 236.71L196.13 237.05L196.58 237.40L197.03 237.74L197.48 238.10L197.93 238.45L198.38 238.81L198.82 239.17L199.27 239.53L199.72 239.90L200.17 240.26L200.62 240.63L201.07 241.00L201.52 241.37L201.97 241.74L202.42 242.11L202.86 242.47L203.31 242.84L203.76 243.21L204.21 243.58L204.66 243.97L205.11 244.37L205.56 244.77L206.01 245.18L206.46 245.57L206.90 245.96L207.35 246.32L207.80 246.67L208.25 246.98L208.70 247.27L209.15 247.53L209.60 247.77L210.05 248.00L210.50 248.21L210.94 248.42L211.39 248.63L211.84 248.83L212.29 249.04L212.74 249.26L213.19 249.49L213.64 249.74L214.09 249.99L214.54 250.25L214.98 250.51L215.43 250.78L215.88 251.06L216.33 251.33L216.78 251.61L217.23 251.89L217.68 252.17L218.13 252.45L218.58 252.74L219.03 253.04L219.47 253.37L219.92 253.70L220.37 254.04L220.82 254.37L221.27 254.69L221.72 254.98L222.17 255.24L222.62 255.46L223.07 255.63L223.51 255.78L223.96 255.91L224.41 256.02L224.86 256.13L225.31 256.22L225.76 256.31L226.21 256.40L226.66 256.48L227.11 256.57L227.55 256.67L228.00 256.77L228.45 256.88L228.90 257.01L229.35 257.14L229.80 257.28L230.25 257.43L230.70 257.58L231.15 257.73L231.59 257.89L232.04 258.06L232.49 258.22L232.94 258.39L233.39 258.55L233.84 258.72L234.29 258.89L234.74 259.07L235.19 259.25L235.63 259.44L236.08 259.63L236.53 259.82L236.98 260.01L237.43 260.21L237.88 260.40L238.33 260.58L238.78 260.77L239.23 260.94L239.68 261.12L240.12 261.28L240.57 261.44L241.02 261.59L241.47 261.74L241.92 261.89L242.37 262.04L242.82 262.19L243.27 262.34L243.72 262.49L244.16 262.65L244.61 262.81L245.06 262.97L245.51 263.15L245.96 263.34L246.41 263.54L246.86 263.74L247.31 263.95L247.76 264.15L248.20 264.35L248.65 264.53L249.10 264.71L249.55 264.87L250.00 265.02L250.45 265.14L250.90 265.25L251.35 265.35L251.80 265.44L252.24 265.53L252.69 265.61L253.14 265.68L253.59 265.76L254.04 265.84L254.49 265.93L254.94 266.02L255.39 266.12L255.84 266.23L256.28 266.36L256.73 266.52L257.18 266.70L257.63 266.89L258.08 267.09L258.53 267.30L258.98 267.50L259.43 267.69L259.88 267.87L260.32 268.02L260.77 268.15L261.22 268.24L261.67 268.32L262.12 268.39L262.57 268.45L263.02 268.50L263.47 268.55L263.92 268.60L264.37 268.64L264.81 268.68L265.26 268.72L265.71 268.76L266.16 268.80L266.61 268.84L267.06 268.88L267.51 268.93L267.96 268.98L268.41 269.04L268.85 269.10L269.30 269.17L269.75 269.25L270.20 269.32L270.65 269.41L271.10 269.49L271.55 269.58L272.00 269.68L272.45 269.77L272.89 269.87L273.34 269.97L273.79 270.08L274.24 270.18L274.69 270.29L275.14 270.39L275.59 270.50L276.04 270.60L276.49 270.71L276.93 270.81L277.38 270.92L277.83 271.02L278.28 271.12L278.73 271.22L279.18 271.31L279.63 271.41L280.08 271.50L280.53 271.58L280.97 271.66L281.42 271.74L281.87 271.81L282.32 271.88L282.77 271.95L283.22 272.01L283.67 272.06L284.12 272.12L284.57 272.17L285.02 272.22L285.46 272.27L285.91 272.32L286.36 272.37L286.81 272.42L287.26 272.46L287.71 272.50L288.16 272.55L288.61 272.59L289.06 272.63L289.50 272.67L289.95 272.71L290.40 272.76L290.85 272.80L291.30 272.84L291.75 272.89L292.20 272.93L292.65 272.98L293.10 273.02L293.54 273.07L293.99 273.12L294.44 273.17L294.89 273.22L295.34 273.28L295.79 273.34L296.24 273.40L296.69 273.46L297.14 273.53L297.58 273.60L298.03 273.68L298.48 273.76L298.93 273.85L299.38 273.94L299.83 274.03L300.28 274.12L300.73 274.22L301.18 274.31L301.62 274.40L302.07 274.50L302.52 274.59L302.97 274.68L303.42 274.77L303.87 274.86L304.32 274.94L304.77 275.02L305.22 275.09L305.66 275.16L306.11 275.23L306.56 275.28L307.01 275.34L307.46 275.38L307.91 275.42L308.36 275.46L308.81 275.49L309.26 275.53L309.71 275.56L310.15 275.59L310.60 275.62L311.05 275.65L311.50 275.67L311.95 275.69L312.40 275.71L312.85 275.72" fill="none" stroke="#d90a2a" stroke-width="1.8" stroke-dasharray="1.6 4.24" stroke-dashoffset="0" clip-path="url(#cc)" stroke-linejoin="round"/>
<path d="M43.95 275.72L44.42 275.72L44.90 275.72L45.37 275.72L45.84 275.72L46.31 275.72L46.79 275.72L47.26 275.72L47.73 275.72L48.20 275.72L48.68 275.72L49.15 275.72L49.62 275.72L50.09 275.72L50.57 275.72L51.04 275.66L51.51 275.42L51.98 275.06L52.46 274.60L52.93 274.11L53.40 273.62L53.87 273.18L54.35 272.84L54.82 272.62L55.29 272.44L55.76 272.28L56.24 272.13L56.71 272.00L57.18 271.88L57.65 271.76L58.13 271.65L58.60 271.55L59.07 271.44L59.54 271.33L60.02 271.22L60.49 271.09L60.96 270.95L61.43 270.80L61.91 270.64L62.38 270.46L62.85 270.28L63.32 270.10L63.80 269.90L64.27 269.70L64.74 269.49L65.21 269.27L65.69 269.05L66.16 268.81L66.63 268.57L67.10 268.32L67.58 268.06L68.05 267.80L68.52 267.52L68.99 267.24L69.47 266.93L69.94 266.60L70.41 266.25L70.88 265.88L71.36 265.50L71.83 265.11L72.30 264.70L72.77 264.29L73.25 263.87L73.72 263.45L74.19 263.02L74.66 262.59L75.14 262.17L75.61 261.75L76.08 261.33L76.56 260.91L77.03 260.48L77.50 260.05L77.97 259.61L78.45 259.16L78.92 258.71L79.39 258.26L79.86 257.81L80.34 257.36L80.81 256.90L81.28 256.45L81.75 256.00L82.23 255.55L82.70 255.10L83.17 254.66L83.64 254.21L84.12 253.77L84.59 253.33L85.06 252.89L85.53 252.45L86.01 252.01L86.48 251.57L86.95 251.13L87.42 250.69L87.90 250.25L88.37 249.81L88.84 249.37L89.31 248.93L89.79 248.49L90.26 248.05L90.73 247.61L91.20 247.17L91.68 246.72L92.15 246.28L92.62 245.84L93.09 245.39L93.57 244.94L94.04 244.50L94.51 244.05L94.98 243.60L95.46 243.15L95.93 242.69L96.40 242.24L96.87 241.78L97.35 241.33L97.82 240.87L98.29 240.41L98.76 239.95L99.24 239.49L99.71 239.02L100.18 238.56L100.65 238.10L101.13 237.63L101.60 237.17L102.07 236.70L102.54 236.23L103.02 235.76L103.49 235.29L103.96 234.82L104.43 234.34L104.91 233.87L105.38 233.39L105.85 232.91L106.32 232.43L106.80 231.95L107.27 231.47L107.74 230.99L108.22 230.50L108.69 230.01L109.16 229.52L109.63 229.03L110.11 228.54L110.58 228.05L111.05 227.55L111.52 227.06L112.00 226.56L112.47 226.06L112.94 225.55L113.41 225.05L113.89 224.54L114.36 224.03L114.83 223.51L115.30 222.99L115.78 222.47L116.25 221.95L116.72 221.42L117.19 220.88L117.67 220.32L118.14 219.75L118.61 219.17L119.08 218.59L119.56 218.01L120.03 217.43L120.50 216.85L120.97 216.29L121.45 215.74L121.92 215.21L122.39 214.70L122.86 214.21L123.34 213.75L123.81 213.31L124.28 212.88L124.75 212.46L125.23 212.06L125.70 211.66L126.17 211.27L126.64 210.90L127.12 210.53L127.59 210.17L128.06 209.81L128.53 209.46L129.01 209.12L129.48 208.78L129.95 208.44L130.42 208.11L130.90 207.78L131.37 207.46L131.84 207.14L132.31 206.82L132.79 206.51L133.26 206.21L133.73 205.91L134.20 205.62L134.68 205.34L135.15 205.06L135.62 204.79L136.09 204.53L136.57 204.28L137.04 204.03L137.51 203.78L137.98 203.54L138.46 203.29L138.93 203.05L139.40 202.82L139.88 202.59L140.35 202.38L140.82 202.17L141.29 201.98L141.77 201.80L142.24 201.64L142.71 201.49L143.18 201.37L143.66 201.25L144.13 201.12L144.60 201.00L145.07 200.89L145.55 200.77L146.02 200.66L146.49 200.55L146.96 200.44L147.44 200.34L147.91 200.25L148.38 200.16L148.85 200.08L149.33 200.00L149.80 199.94L150.27 199.88L150.74 199.83L151.22 199.80L151.69 199.77L152.16 199.75L152.63 199.75L153.11 199.76L153.58 199.78L154.05 199.82L154.52 199.87L155.00 199.93L155.47 200.01L155.94 200.09L156.41 200.18L156.89 200.27L157.36 200.37L157.83 200.48L158.30 200.59L158.78 200.70L159.25 200.81L159.72 200.93L160.19 201.04L160.67 201.15L161.14 201.27L161.61 201.40L162.08 201.54L162.56 201.68L163.03 201.83L163.50 201.99L163.97 202.16L164.45 202.33L164.92 202.51L165.39 202.70L165.86 202.89L166.34 203.09L166.81 203.30L167.28 203.51L167.75 203.72L168.23 203.94L168.70 204.17L169.17 204.40L169.64 204.66L170.12 204.94L170.59 205.23L171.06 205.55L171.54 205.87L172.01 206.21L172.48 206.55L172.95 206.90L173.43 207.25L173.90 207.60L174.37 207.94L174.84 208.28L175.32 208.60L175.79 208.92L176.26 209.21L176.73 209.50L177.21 209.77L177.68 210.04L178.15 210.30L178.62 210.56L179.10 210.81L179.57 211.07L180.04 211.32L180.51 211.58L180.99 211.84L181.46 212.11L181.93 212.38L182.40 212.66L182.88 212.94L183.35 213.23L183.82 213.52L184.29 213.82L184.77 214.12L185.24 214.42L185.71 214.72L186.18 215.02L186.66 215.32L187.13 215.62L187.60 215.91L188.07 216.21L188.55 216.50L189.02 216.79L189.49 217.07L189.96 217.35L190.44 217.62L190.91 217.90L191.38 218.18L191.85 218.46L192.33 218.75L192.80 219.03L193.27 219.30L193.74 219.58L194.22 219.86L194.69 220.13L195.16 220.40L195.63 220.67L196.11 220.93L196.58 221.18L197.05 221.44L197.52 221.68L198.00 221.92L198.47 222.16L198.94 222.38L199.41 222.60L199.89 222.81L200.36 223.01L200.83 223.19L201.31 223.36L201.78 223.53L202.25 223.69L202.72 223.86L203.20 224.05L203.67 224.25L204.14 224.47L204.61 224.69L205.09 224.93L205.56 225.18L206.03 225.43L206.50 225.69L206.98 225.97L207.45 226.24L207.92 226.53L208.39 226.82L208.87 227.11L209.34 227.41L209.81 227.71L210.28 228.01L210.76 228.32L211.23 228.62L211.70 228.93L212.17 229.23L212.65 229.54L213.12 229.84L213.59 230.14L214.06 230.43L214.54 230.72L215.01 231.01L215.48 231.29L215.95 231.56L216.43 231.83L216.90 232.09L217.37 232.34L217.84 232.58L218.32 232.81L218.79 233.03L219.26 233.24L219.73 233.44L220.21 233.64L220.68 233.83L221.15 234.03L221.62 234.21L222.10 234.40L222.57 234.58L223.04 234.76L223.51 234.93L223.99 235.10L224.46 235.27L224.93 235.44L225.40 235.60L225.88 235.77L226.35 235.93L226.82 236.09L227.29 236.24L227.77 236.40L228.24 236.56L228.71 236.71L229.18 236.87L229.66 237.02L230.13 237.17L230.60 237.32L231.07 237.48L231.55 237.63L232.02 237.78L232.49 237.93L232.97 238.09L233.44 238.24L233.91 238.40L234.38 238.56L234.86 238.71L235.33 238.87L235.80 239.03L236.27 239.18L236.75 239.34L237.22 239.49L237.69 239.64L238.16 239.79L238.64 239.94L239.11 240.09L239.58 240.24L240.05 240.39L240.53 240.53L241.00 240.68L241.47 240.83L241.94 240.97L242.42 241.12L242.89 241.27L243.36 241.41L243.83 241.56L244.31 241.71L244.78 241.85L245.25 242.00L245.72 242.15L246.20 242.30L246.67 242.44L247.14 242.59L247.61 242.74L248.09 242.89L248.56 243.04L249.03 243.20L249.50 243.35L249.98 243.51L250.45 243.66L250.92 243.82L251.39 243.98L251.87 244.14L252.34 244.30L252.81 244.46L253.28 244.63L253.76 244.79L254.23 244.96L254.70 245.13L255.17 245.31L255.65 245.48L256.12 245.65L256.59 245.83L257.06 246.00L257.54 246.18L258.01 246.36L258.48 246.53L258.95 246.71L259.43 246.88L259.90 247.06L260.37 247.23L260.84 247.41L261.32 247.58L261.79 247.75L262.26 247.92L262.73 248.10L263.21 248.27L263.68 248.45L264.15 248.63L264.63 248.81L265.10 248.99L265.57 249.18L266.04 249.36L266.52 249.54L266.99 249.73L267.46 249.91L267.93 250.10L268.41 250.28L268.88 250.46L269.35 250.64L269.82 250.83L270.30 251.00L270.77 251.18L271.24 251.36L271.71 251.53L272.19 251.70L272.66 251.87L273.13 252.03L273.60 252.19L274.08 252.35L274.55 252.50L275.02 252.65L275.49 252.80L275.97 252.94L276.44 253.08L276.91 253.21L277.38 253.33L277.86 253.45L278.33 253.57L278.80 253.68L279.27 253.79L279.75 253.90L280.22 254.01L280.69 254.11L281.16 254.21L281.64 254.31L282.11 254.40L282.58 254.50L283.05 254.59L283.53 254.68L284.00 254.77L284.47 254.86L284.94 254.95L285.42 255.03L285.89 255.12L286.36 255.20L286.83 255.28L287.31 255.37L287.78 255.45L288.25 255.53L288.72 255.61L289.20 255.69L289.67 255.77L290.14 255.85L290.61 255.93L291.09 256.01L291.56 256.09L292.03 256.17L292.50 256.26L292.98 256.34L293.45 256.42L293.92 256.51L294.39 256.59L294.87 256.68L295.34 256.77L295.81 256.86L296.29 256.95L296.76 257.04L297.23 257.14L297.70 257.25L298.18 257.36L298.65 257.47L299.12 257.59L299.59 257.71L300.07 257.83L300.54 257.95L301.01 258.08L301.48 258.20L301.96 258.32L302.43 258.45L302.90 258.57L303.37 258.70L303.85 258.82L304.32 258.93L304.79 259.05L305.26 259.16L305.74 259.27L306.21 259.37L306.68 259.47L307.15 259.57L307.63 259.65L308.10 259.73L308.57 259.81L309.04 259.88L309.52 259.93L309.99 259.98L310.46 260.03L310.93 260.06L311.41 260.08L311.88 260.09L312.35 260.09L312.82 260.09L313.30 260.09L313.77 260.09L314.24 260.09L314.71 260.09L315.19 260.09L315.66 260.09L316.13 260.08L316.60 260.08L317.08 260.07L317.55 260.07L318.02 260.06L318.49 260.05L318.97 260.04L319.44 260.03L319.91 260.02L320.38 260.01L320.86 259.99L321.33 259.98L321.80 259.96L322.27 259.93L322.75 259.91L323.22 259.89L323.69 259.86L324.16 259.83L324.64 259.80L325.11 259.76L325.58 259.72L326.05 259.68L326.53 259.64L327.00 259.59" fill="none" stroke="#d90a2a" stroke-width="1.8" stroke-dasharray="8.62 8.62" stroke-dashoffset="1.05" clip-path="url(#cc)" stroke-linejoin="round"/>
<path d="M43.95 275.72L44.42 275.72L44.90 275.72L45.37 275.72L45.84 275.72L46.31 275.72L46.79 275.72L47.26 275.72L47.73 275.72L48.20 275.72L48.68 275.72L49.15 275.72L49.62 275.72L50.09 275.72L50.57 275.72L51.04 275.65L51.51 275.36L51.98 274.92L52.46 274.38L52.93 273.80L53.40 273.25L53.87 272.79L54.35 272.47L54.82 272.33L55.29 272.23L55.76 272.15L56.24 272.08L56.71 272.02L57.18 271.96L57.65 271.91L58.13 271.86L58.60 271.80L59.07 271.74L59.54 271.68L60.02 271.63L60.49 271.58L60.96 271.53L61.43 271.47L61.91 271.40L62.38 271.31L62.85 271.18L63.32 270.88L63.80 270.44L64.27 269.93L64.74 269.44L65.21 269.05L65.69 268.74L66.16 268.46L66.63 268.20L67.10 267.95L67.58 267.71L68.05 267.46L68.52 267.22L68.99 266.95L69.47 266.68L69.94 266.42L70.41 266.15L70.88 265.88L71.36 265.60L71.83 265.30L72.30 264.98L72.77 264.62L73.25 264.21L73.72 263.75L74.19 263.26L74.66 262.75L75.14 262.22L75.61 261.69L76.08 261.16L76.56 260.64L77.03 260.09L77.50 259.52L77.97 258.95L78.45 258.38L78.92 257.83L79.39 257.29L79.86 256.78L80.34 256.31L80.81 255.86L81.28 255.44L81.75 255.03L82.23 254.62L82.70 254.22L83.17 253.81L83.64 253.38L84.12 252.93L84.59 252.47L85.06 252.00L85.53 251.52L86.01 251.04L86.48 250.54L86.95 250.05L87.42 249.55L87.90 249.05L88.37 248.56L88.84 248.07L89.31 247.58L89.79 247.09L90.26 246.61L90.73 246.13L91.20 245.65L91.68 245.18L92.15 244.70L92.62 244.22L93.09 243.74L93.57 243.27L94.04 242.79L94.51 242.32L94.98 241.84L95.46 241.36L95.93 240.89L96.40 240.41L96.87 239.94L97.35 239.46L97.82 238.99L98.29 238.51L98.76 238.03L99.24 237.56L99.71 237.08L100.18 236.59L100.65 236.11L101.13 235.62L101.60 235.13L102.07 234.64L102.54 234.15L103.02 233.66L103.49 233.17L103.96 232.69L104.43 232.20L104.91 231.72L105.38 231.24L105.85 230.76L106.32 230.29L106.80 229.82L107.27 229.36L107.74 228.91L108.22 228.46L108.69 228.02L109.16 227.57L109.63 227.12L110.11 226.65L110.58 226.18L111.05 225.70L111.52 225.22L112.00 224.74L112.47 224.26L112.94 223.79L113.41 223.33L113.89 222.89L114.36 222.46L114.83 222.04L115.30 221.65L115.78 221.28L116.25 220.94L116.72 220.63L117.19 220.35L117.67 220.11L118.14 219.91L118.61 219.73L119.08 219.59L119.56 219.45L120.03 219.34L120.50 219.23L120.97 219.13L121.45 219.04L121.92 218.95L122.39 218.86L122.86 218.76L123.34 218.66L123.81 218.54L124.28 218.42L124.75 218.27L125.23 218.11L125.70 217.90L126.17 217.65L126.64 217.37L127.12 217.07L127.59 216.76L128.06 216.43L128.53 216.10L129.01 215.78L129.48 215.47L129.95 215.17L130.42 214.91L130.90 214.67L131.37 214.48L131.84 214.33L132.31 214.20L132.79 214.07L133.26 213.94L133.73 213.81L134.20 213.68L134.68 213.56L135.15 213.44L135.62 213.33L136.09 213.22L136.57 213.11L137.04 213.01L137.51 212.92L137.98 212.83L138.46 212.75L138.93 212.68L139.40 212.61L139.88 212.55L140.35 212.50L140.82 212.46L141.29 212.42L141.77 212.40L142.24 212.39L142.71 212.38L143.18 212.39L143.66 212.41L144.13 212.43L144.60 212.47L145.07 212.51L145.55 212.57L146.02 212.63L146.49 212.69L146.96 212.76L147.44 212.84L147.91 212.92L148.38 213.01L148.85 213.10L149.33 213.19L149.80 213.29L150.27 213.38L150.74 213.48L151.22 213.57L151.69 213.67L152.16 213.76L152.63 213.86L153.11 213.95L153.58 214.03L154.05 214.12L154.52 214.20L155.00 214.29L155.47 214.38L155.94 214.47L156.41 214.56L156.89 214.65L157.36 214.75L157.83 214.85L158.30 214.95L158.78 215.05L159.25 215.16L159.72 215.27L160.19 215.39L160.67 215.51L161.14 215.63L161.61 215.76L162.08 215.90L162.56 216.06L163.03 216.22L163.50 216.39L163.97 216.57L164.45 216.75L164.92 216.94L165.39 217.13L165.86 217.32L166.34 217.51L166.81 217.70L167.28 217.89L167.75 218.06L168.23 218.23L168.70 218.40L169.17 218.56L169.64 218.73L170.12 218.89L170.59 219.05L171.06 219.21L171.54 219.37L172.01 219.53L172.48 219.69L172.95 219.85L173.43 220.00L173.90 220.16L174.37 220.31L174.84 220.46L175.32 220.61L175.79 220.76L176.26 220.91L176.73 221.06L177.21 221.21L177.68 221.36L178.15 221.51L178.62 221.66L179.10 221.80L179.57 221.95L180.04 222.09L180.51 222.24L180.99 222.38L181.46 222.52L181.93 222.65L182.40 222.79L182.88 222.92L183.35 223.05L183.82 223.18L184.29 223.31L184.77 223.43L185.24 223.55L185.71 223.67L186.18 223.78L186.66 223.89L187.13 224.00L187.60 224.11L188.07 224.21L188.55 224.32L189.02 224.42L189.49 224.52L189.96 224.62L190.44 224.72L190.91 224.81L191.38 224.91L191.85 225.01L192.33 225.10L192.80 225.19L193.27 225.29L193.74 225.38L194.22 225.48L194.69 225.57L195.16 225.67L195.63 225.76L196.11 225.86L196.58 225.95L197.05 226.05L197.52 226.15L198.00 226.25L198.47 226.35L198.94 226.45L199.41 226.55L199.89 226.66L200.36 226.77L200.83 226.91L201.31 227.06L201.78 227.20L202.25 227.33L202.72 227.43L203.20 227.50L203.67 227.51L204.14 227.50L204.61 227.50L205.09 227.48L205.56 227.46L206.03 227.44L206.50 227.42L206.98 227.40L207.45 227.37L207.92 227.34L208.39 227.32L208.87 227.29L209.34 227.27L209.81 227.24L210.28 227.22L210.76 227.21L211.23 227.19L211.70 227.18L212.17 227.18L212.65 227.18L213.12 227.21L213.59 227.25L214.06 227.31L214.54 227.39L215.01 227.47L215.48 227.57L215.95 227.68L216.43 227.79L216.90 227.90L217.37 228.02L217.84 228.13L218.32 228.24L218.79 228.34L219.26 228.43L219.73 228.52L220.21 228.58L220.68 228.64L221.15 228.67L221.62 228.69L222.10 228.71L222.57 228.73L223.04 228.74L223.51 228.76L223.99 228.77L224.46 228.78L224.93 228.79L225.40 228.80L225.88 228.81L226.35 228.82L226.82 228.83L227.29 228.84L227.77 228.85L228.24 228.85L228.71 228.86L229.18 228.87L229.66 228.88L230.13 228.88L230.60 228.89L231.07 228.90L231.55 228.91L232.02 228.92L232.49 228.93L232.97 228.95L233.44 228.96L233.91 228.98L234.38 229.00L234.86 229.01L235.33 229.04L235.80 229.07L236.27 229.10L236.75 229.14L237.22 229.18L237.69 229.23L238.16 229.28L238.64 229.33L239.11 229.39L239.58 229.44L240.05 229.50L240.53 229.57L241.00 229.63L241.47 229.69L241.94 229.76L242.42 229.82L242.89 229.89L243.36 229.95L243.83 230.01L244.31 230.08L244.78 230.14L245.25 230.20L245.72 230.26L246.20 230.31L246.67 230.36L247.14 230.41L247.61 230.46L248.09 230.50L248.56 230.54L249.03 230.58L249.50 230.62L249.98 230.66L250.45 230.70L250.92 230.74L251.39 230.78L251.87 230.82L252.34 230.85L252.81 230.89L253.28 230.93L253.76 230.96L254.23 231.00L254.70 231.03L255.17 231.07L255.65 231.10L256.12 231.13L256.59 231.16L257.06 231.19L257.54 231.21L258.01 231.24L258.48 231.26L258.95 231.28L259.43 231.31L259.90 231.32L260.37 231.34L260.84 231.36L261.32 231.38L261.79 231.39L262.26 231.41L262.73 231.42L263.21 231.44L263.68 231.45L264.15 231.46L264.63 231.48L265.10 231.49L265.57 231.50L266.04 231.51L266.52 231.52L266.99 231.54L267.46 231.55L267.93 231.56L268.41 231.57L268.88 231.58L269.35 231.59L269.82 231.60L270.30 231.61L270.77 231.62L271.24 231.62L271.71 231.63L272.19 231.64L272.66 231.65L273.13 231.66L273.60 231.67L274.08 231.68L274.55 231.68L275.02 231.69L275.49 231.70L275.97 231.71L276.44 231.72L276.91 231.72L277.38 231.73L277.86 231.74L278.33 231.75L278.80 231.76L279.27 231.77L279.75 231.77L280.22 231.78L280.69 231.79L281.16 231.80L281.64 231.81L282.11 231.82L282.58 231.83L283.05 231.84L283.53 231.85L284.00 231.86L284.47 231.87L284.94 231.88L285.42 231.89L285.89 231.90L286.36 231.91L286.83 231.92L287.31 231.94L287.78 231.95L288.25 231.96L288.72 231.98L289.20 231.99L289.67 232.00L290.14 232.02L290.61 232.03L291.09 232.05L291.56 232.06L292.03 232.08L292.50 232.10L292.98 232.11L293.45 232.13L293.92 232.14L294.39 232.16L294.87 232.18L295.34 232.20L295.81 232.21L296.29 232.23L296.76 232.25L297.23 232.27L297.70 232.29L298.18 232.30L298.65 232.32L299.12 232.34L299.59 232.36L300.07 232.38L300.54 232.40L301.01 232.42L301.48 232.44L301.96 232.46L302.43 232.48L302.90 232.51L303.37 232.53L303.85 232.55L304.32 232.57L304.79 232.59L305.26 232.61L305.74 232.64L306.21 232.66L306.68 232.68L307.15 232.70L307.63 232.73L308.10 232.75L308.57 232.77L309.04 232.80L309.52 232.82L309.99 232.85L310.46 232.87L310.93 232.89L311.41 232.92L311.88 232.94L312.35 232.97L312.82 232.99L313.30 233.02L313.77 233.05L314.24 233.07L314.71 233.10L315.19 233.12L315.66 233.15L316.13 233.18L316.60 233.20L317.08 233.23L317.55 233.26L318.02 233.28L318.49 233.31L318.97 233.34L319.44 233.37L319.91 233.39L320.38 233.42L320.86 233.45L321.33 233.48L321.80 233.51L322.27 233.53L322.75 233.56L323.22 233.59L323.69 233.62L324.16 233.65L324.64 233.68L325.11 233.71L325.58 233.74L326.05 233.77L326.53 233.80L327.00 233.83" fill="none" stroke="#d90a2a" stroke-width="1.8" clip-path="url(#cc)" stroke-linejoin="round"/>
<path d="M43.95 275.72v-5.6M43.95 159.35v5.6M79.33 275.72v-5.6M79.33 159.35v5.6M114.71 275.72v-5.6M114.71 159.35v5.6M150.09 275.72v-5.6M150.09 159.35v5.6M185.48 275.72v-5.6M185.48 159.35v5.6M220.86 275.72v-5.6M220.86 159.35v5.6M256.24 275.72v-5.6M256.24 159.35v5.6M291.62 275.72v-5.6M291.62 159.35v5.6M327.00 275.72v-5.6M327.00 159.35v5.6M43.95 275.72h5.6M327.00 275.72h-5.6M43.95 259.10h5.6M327.00 259.10h-5.6M43.95 242.47h5.6M327.00 242.47h-5.6M43.95 225.85h5.6M327.00 225.85h-5.6M43.95 209.22h5.6M327.00 209.22h-5.6M43.95 192.60h5.6M327.00 192.60h-5.6M43.95 175.97h5.6M327.00 175.97h-5.6M43.95 159.35h5.6M327.00 159.35h-5.6" stroke="#000" stroke-width="1.0" fill="none"/>
<rect x="43.95" y="159.35" width="283.05" height="116.37" fill="none" stroke="#000" stroke-width="1.5"/>
<text x="44.55" y="290.82" font-size="12.35" text-anchor="middle" textLength="7.01" lengthAdjust="spacingAndGlyphs" fill="#000">0</text>
<text x="79.93" y="290.82" font-size="12.35" text-anchor="middle" textLength="7.01" lengthAdjust="spacingAndGlyphs" fill="#000">1</text>
<text x="115.31" y="290.82" font-size="12.35" text-anchor="middle" textLength="7.01" lengthAdjust="spacingAndGlyphs" fill="#000">2</text>
<text x="150.69" y="290.82" font-size="12.35" text-anchor="middle" textLength="7.01" lengthAdjust="spacingAndGlyphs" fill="#000">3</text>
<text x="186.08" y="290.82" font-size="12.35" text-anchor="middle" textLength="7.01" lengthAdjust="spacingAndGlyphs" fill="#000">4</text>
<text x="221.46" y="290.82" font-size="12.35" text-anchor="middle" textLength="7.01" lengthAdjust="spacingAndGlyphs" fill="#000">5</text>
<text x="256.84" y="290.82" font-size="12.35" text-anchor="middle" textLength="7.01" lengthAdjust="spacingAndGlyphs" fill="#000">6</text>
<text x="292.22" y="290.82" font-size="12.35" text-anchor="middle" textLength="7.01" lengthAdjust="spacingAndGlyphs" fill="#000">7</text>
<text x="327.60" y="290.82" font-size="12.35" text-anchor="middle" textLength="7.01" lengthAdjust="spacingAndGlyphs" fill="#000">8</text>
<text x="39.75" y="279.27" font-size="12.35" text-anchor="end" textLength="17.53" lengthAdjust="spacingAndGlyphs" fill="#000">0.0</text>
<text x="39.75" y="262.65" font-size="12.35" text-anchor="end" textLength="17.53" lengthAdjust="spacingAndGlyphs" fill="#000">0.1</text>
<text x="39.75" y="246.02" font-size="12.35" text-anchor="end" textLength="17.53" lengthAdjust="spacingAndGlyphs" fill="#000">0.2</text>
<text x="39.75" y="229.40" font-size="12.35" text-anchor="end" textLength="17.53" lengthAdjust="spacingAndGlyphs" fill="#000">0.3</text>
<text x="39.75" y="212.77" font-size="12.35" text-anchor="end" textLength="17.53" lengthAdjust="spacingAndGlyphs" fill="#000">0.4</text>
<text x="39.75" y="196.15" font-size="12.35" text-anchor="end" textLength="17.53" lengthAdjust="spacingAndGlyphs" fill="#000">0.5</text>
<text x="39.75" y="179.52" font-size="12.35" text-anchor="end" textLength="17.53" lengthAdjust="spacingAndGlyphs" fill="#000">0.6</text>
<text x="39.75" y="162.90" font-size="12.35" text-anchor="end" textLength="17.53" lengthAdjust="spacingAndGlyphs" fill="#000">0.7</text>
<text x="11.30" y="217.54" font-size="14.91" text-anchor="middle" textLength="81.70" lengthAdjust="spacingAndGlyphs" transform="rotate(-90 11.30 217.54)" fill="#000">Complexity</text>
<text x="58.00" y="180.60" font-size="18.74" text-anchor="start" textLength="10.43" lengthAdjust="spacingAndGlyphs" font-weight="bold" fill="#000">c</text>
<text x="185.50" y="310.90" font-size="14.91" text-anchor="middle" textLength="150.67" lengthAdjust="spacingAndGlyphs" fill="#000">Coupling strength, g'</text>
<path d="M392.25 223.5H653.26" stroke="#707070" stroke-width="1.15"/>
<path d="M407.35 223.52L427.02 223.02L446.68 222.02L466.35 219.36L486.02 214.38L505.68 207.56L525.35 199.41L545.02 199.91L564.68 203.07L584.35 206.56L604.02 212.88L623.68 221.69L643.35 237.15" fill="none" stroke="#d90a2a" stroke-width="1.8" stroke-linejoin="round"/>
<circle cx="407.35" cy="223.52" r="2.5" fill="#d90a2a"/>
<circle cx="427.02" cy="223.02" r="2.5" fill="#d90a2a"/>
<circle cx="446.68" cy="222.02" r="2.5" fill="#d90a2a"/>
<circle cx="466.35" cy="219.36" r="2.5" fill="#d90a2a"/>
<circle cx="486.02" cy="214.38" r="2.5" fill="#d90a2a"/>
<circle cx="505.68" cy="207.56" r="2.5" fill="#d90a2a"/>
<circle cx="525.35" cy="199.41" r="2.5" fill="#d90a2a"/>
<circle cx="545.02" cy="199.91" r="2.5" fill="#d90a2a"/>
<circle cx="564.68" cy="203.07" r="2.5" fill="#d90a2a"/>
<circle cx="584.35" cy="206.56" r="2.5" fill="#d90a2a"/>
<circle cx="604.02" cy="212.88" r="2.5" fill="#d90a2a"/>
<circle cx="623.68" cy="221.69" r="2.5" fill="#d90a2a"/>
<circle cx="643.35" cy="237.15" r="2.5" fill="#d90a2a"/>
<path d="M383.75 275.72v-5.6M383.75 159.35v5.6M430.95 275.72v-5.6M430.95 159.35v5.6M478.15 275.72v-5.6M478.15 159.35v5.6M525.35 275.72v-5.6M525.35 159.35v5.6M572.55 275.72v-5.6M572.55 159.35v5.6M619.75 275.72v-5.6M619.75 159.35v5.6M666.95 275.72v-5.6M666.95 159.35v5.6M383.75 275.72h5.6M666.95 275.72h-5.6M383.75 259.10h5.6M666.95 259.10h-5.6M383.75 242.47h5.6M666.95 242.47h-5.6M383.75 225.85h5.6M666.95 225.85h-5.6M383.75 209.22h5.6M666.95 209.22h-5.6M383.75 192.60h5.6M666.95 192.60h-5.6M383.75 175.97h5.6M666.95 175.97h-5.6M383.75 159.35h5.6M666.95 159.35h-5.6" stroke="#000" stroke-width="1.0" fill="none"/>
<rect x="383.75" y="159.35" width="283.20" height="116.37" fill="none" stroke="#000" stroke-width="1.5"/>
<text x="384.35" y="290.82" font-size="12.35" text-anchor="middle" textLength="17.53" lengthAdjust="spacingAndGlyphs" fill="#000">0.2</text>
<text x="431.55" y="290.82" font-size="12.35" text-anchor="middle" textLength="17.53" lengthAdjust="spacingAndGlyphs" fill="#000">0.3</text>
<text x="478.75" y="290.82" font-size="12.35" text-anchor="middle" textLength="17.53" lengthAdjust="spacingAndGlyphs" fill="#000">0.4</text>
<text x="525.95" y="290.82" font-size="12.35" text-anchor="middle" textLength="17.53" lengthAdjust="spacingAndGlyphs" fill="#000">0.5</text>
<text x="573.15" y="290.82" font-size="12.35" text-anchor="middle" textLength="17.53" lengthAdjust="spacingAndGlyphs" fill="#000">0.6</text>
<text x="620.35" y="290.82" font-size="12.35" text-anchor="middle" textLength="17.53" lengthAdjust="spacingAndGlyphs" fill="#000">0.7</text>
<text x="667.55" y="290.82" font-size="12.35" text-anchor="middle" textLength="17.53" lengthAdjust="spacingAndGlyphs" fill="#000">0.8</text>
<text x="379.55" y="279.27" font-size="12.35" text-anchor="end" textLength="17.53" lengthAdjust="spacingAndGlyphs" fill="#000">0.0</text>
<text x="379.55" y="262.65" font-size="12.35" text-anchor="end" textLength="17.53" lengthAdjust="spacingAndGlyphs" fill="#000">0.1</text>
<text x="379.55" y="246.02" font-size="12.35" text-anchor="end" textLength="17.53" lengthAdjust="spacingAndGlyphs" fill="#000">0.2</text>
<text x="379.55" y="229.40" font-size="12.35" text-anchor="end" textLength="17.53" lengthAdjust="spacingAndGlyphs" fill="#000">0.3</text>
<text x="379.55" y="212.77" font-size="12.35" text-anchor="end" textLength="17.53" lengthAdjust="spacingAndGlyphs" fill="#000">0.4</text>
<text x="379.55" y="196.15" font-size="12.35" text-anchor="end" textLength="17.53" lengthAdjust="spacingAndGlyphs" fill="#000">0.5</text>
<text x="379.55" y="179.52" font-size="12.35" text-anchor="end" textLength="17.53" lengthAdjust="spacingAndGlyphs" fill="#000">0.6</text>
<text x="379.55" y="162.90" font-size="12.35" text-anchor="end" textLength="17.53" lengthAdjust="spacingAndGlyphs" fill="#000">0.7</text>
<text x="350.70" y="217.54" font-size="14.91" text-anchor="middle" textLength="119.86" lengthAdjust="spacingAndGlyphs" transform="rotate(-90 350.70 217.54)" fill="#000">Peak Complexity</text>
<text x="398.00" y="179.40" font-size="18.74" text-anchor="start" textLength="12.60" lengthAdjust="spacingAndGlyphs" font-weight="bold" fill="#000">d</text>
<text x="525.30" y="310.70" font-size="14.91" text-anchor="middle" textLength="76.89" lengthAdjust="spacingAndGlyphs" fill="#000">Modularity</text>
<path d="M498.3 250.5H510.9" stroke="#d90a2a" stroke-width="1.8"/>
<circle cx="498.3" cy="250.5" r="2.5" fill="#d90a2a"/><circle cx="510.9" cy="250.5" r="2.5" fill="#d90a2a"/>
<path d="M498.1 263.4H510.9" stroke="#707070" stroke-width="1.15"/>
<text x="520.80" y="253.20" font-size="9.16" text-anchor="start" textLength="34.79" lengthAdjust="spacingAndGlyphs" fill="#000">Modular</text>
<text x="520.80" y="265.70" font-size="9.16" text-anchor="start" textLength="35.79" lengthAdjust="spacingAndGlyphs" fill="#000">Random</text>
<text x="348.00" y="22.40" font-size="18.74" text-anchor="start" textLength="12.60" lengthAdjust="spacingAndGlyphs" font-weight="bold" fill="#000">b</text>
<g shape-rendering="crispEdges">
<path fill="#004cff" d="M365.4 32.6H367.4V34.4H365.4zM367.4 34.4H369.4V36.2H367.4zM369.4 36.2H371.5V38.0H369.4zM385.6 36.2H387.6V38.0H385.6zM371.5 38.0H373.5V39.8H371.5zM373.5 39.8H375.5V41.6H373.5zM375.5 41.6H377.5V43.5H375.5zM377.5 43.5H379.5V45.3H377.5zM383.6 43.5H385.6V45.3H383.6zM379.5 45.3H383.6V47.1H379.5zM379.5 47.1H385.6V48.9H379.5zM377.5 48.9H379.5V50.7H377.5zM381.5 48.9H385.6V50.7H381.5zM369.4 50.7H371.5V52.5H369.4zM385.6 50.7H387.6V52.5H385.6zM387.6 52.5H393.5V54.5H387.6zM387.6 54.5H391.5V56.6H387.6zM397.4 54.5H401.3V56.6H397.4zM405.2 54.5H407.1V56.6H405.2zM387.6 56.6H389.6V58.6H387.6zM391.5 56.6H393.5V58.6H391.5zM405.2 56.6H407.1V58.6H405.2zM393.5 58.6H395.4V60.6H393.5zM395.4 60.6H397.4V62.7H395.4zM389.6 62.7H391.5V64.7H389.6zM397.4 62.7H399.3V64.7H397.4zM389.6 64.7H391.5V66.8H389.6zM399.3 64.7H401.3V66.8H399.3zM403.2 64.7H405.2V66.8H403.2zM401.3 66.8H403.2V68.8H401.3zM399.3 68.8H401.3V70.8H399.3zM403.2 68.8H405.2V70.8H403.2zM407.1 68.8H409.1V70.8H407.1zM389.6 70.8H393.5V72.9H389.6zM405.2 70.8H407.1V72.9H405.2zM403.2 72.9H405.2V74.9H403.2zM407.1 72.9H409.1V74.9H407.1zM409.1 74.9H411.1V76.9H409.1zM411.1 76.9H413.0V78.8H411.1zM424.8 76.9H426.8V78.8H424.8zM413.0 78.8H415.0V80.8H413.0zM415.0 80.8H417.0V82.8H415.0zM417.0 82.8H418.9V84.8H417.0zM418.9 84.8H420.9V86.7H418.9zM420.9 86.7H424.8V88.7H420.9zM420.9 88.7H424.8V90.7H420.9zM411.1 90.7H413.0V92.7H411.1zM424.8 90.7H426.8V92.7H424.8zM426.8 92.7H428.7V94.6H426.8zM428.7 94.6H430.7V96.6H428.7zM430.7 96.6H434.9V98.8H430.7zM430.7 98.8H434.9V100.9H430.7zM434.9 100.9H437.0V103.1H434.9zM437.0 103.1H439.1V105.3H437.0zM445.4 103.1H449.6V105.3H445.4zM439.1 105.3H441.2V107.4H439.1zM443.3 105.3H445.4V107.4H443.3zM441.2 107.4H443.3V109.6H441.2zM439.1 109.6H441.2V111.8H439.1zM443.3 109.6H445.4V111.8H443.3zM449.6 109.6H451.7V111.8H449.6zM437.0 111.8H439.1V114.0H437.0zM445.4 111.8H447.5V114.0H445.4zM437.0 114.0H439.1V116.1H437.0zM447.5 114.0H451.7V116.1H447.5zM443.3 116.1H445.4V118.3H443.3zM447.5 116.1H451.7V118.3H447.5z"/>
<path fill="#0058ff" d="M367.4 32.6H369.4V34.4H367.4zM365.4 34.4H367.4V36.2H365.4zM371.5 34.4H373.5V36.2H371.5zM375.5 34.4H379.5V36.2H375.5zM381.5 34.4H383.6V36.2H381.5zM379.5 36.2H381.5V38.0H379.5zM367.4 38.0H369.4V39.8H367.4zM379.5 39.8H381.5V41.6H379.5zM367.4 41.6H369.4V43.5H367.4zM367.4 43.5H369.4V45.3H367.4zM369.4 45.3H371.5V47.1H369.4zM373.5 45.3H375.5V47.1H373.5zM367.4 47.1H369.4V48.9H367.4zM393.5 54.5H395.4V56.6H393.5zM401.3 54.5H403.2V56.6H401.3zM403.2 56.6H405.2V58.6H403.2zM389.6 58.6H391.5V60.6H389.6zM389.6 66.8H391.5V68.8H389.6zM407.1 66.8H409.1V68.8H407.1zM391.5 68.8H393.5V70.8H391.5zM401.3 72.9H403.2V74.9H401.3zM422.8 74.9H424.8V76.9H422.8zM418.9 82.8H420.9V84.8H418.9zM417.0 84.8H418.9V86.7H417.0zM428.7 84.8H430.7V86.7H428.7zM409.1 88.7H411.1V90.7H409.1zM418.9 94.6H420.9V96.6H418.9zM434.9 98.8H437.0V100.9H434.9zM447.5 98.8H449.6V100.9H447.5zM432.8 100.9H434.9V103.1H432.8zM439.1 100.9H441.2V103.1H439.1zM447.5 100.9H449.6V103.1H447.5zM441.2 103.1H443.3V105.3H441.2zM434.9 105.3H437.0V107.4H434.9zM437.0 107.4H439.1V109.6H437.0zM443.3 107.4H445.4V109.6H443.3zM447.5 107.4H449.6V109.6H447.5zM441.2 109.6H443.3V111.8H441.2zM432.8 114.0H437.0V116.1H432.8zM441.2 114.0H443.3V116.1H441.2z"/>
<path fill="#0070ff" d="M369.4 32.6H371.5V34.4H369.4zM379.5 32.6H383.6V34.4H379.5zM365.4 36.2H367.4V38.0H365.4zM379.5 38.0H381.5V39.8H379.5zM385.6 38.0H387.6V39.8H385.6zM365.4 45.3H367.4V47.1H365.4zM371.5 45.3H373.5V47.1H371.5zM365.4 47.1H367.4V48.9H365.4zM385.6 48.9H387.6V50.7H385.6zM371.5 50.7H373.5V52.5H371.5zM383.6 50.7H385.6V52.5H383.6zM395.4 52.5H397.4V54.5H395.4zM393.5 56.6H395.4V58.6H393.5zM397.4 56.6H399.3V58.6H397.4zM391.5 58.6H393.5V60.6H391.5zM387.6 60.6H389.6V62.7H387.6zM391.5 62.7H393.5V64.7H391.5zM411.1 74.9H413.0V76.9H411.1zM409.1 76.9H411.1V78.8H409.1zM426.8 76.9H428.7V78.8H426.8zM424.8 80.8H426.8V82.8H424.8zM415.0 90.7H417.0V92.7H415.0zM411.1 92.7H413.0V94.6H411.1zM437.0 100.9H439.1V103.1H437.0zM434.9 103.1H437.0V105.3H434.9zM441.2 105.3H443.3V107.4H441.2zM439.1 107.4H441.2V109.6H439.1z"/>
<path fill="#0030ff" d="M371.5 32.6H373.5V34.4H371.5zM383.6 32.6H387.6V34.4H383.6zM365.4 38.0H367.4V39.8H365.4zM381.5 38.0H385.6V39.8H381.5zM375.5 39.8H377.5V41.6H375.5zM373.5 41.6H375.5V43.5H373.5zM377.5 41.6H379.5V43.5H377.5zM381.5 41.6H383.6V43.5H381.5zM375.5 43.5H377.5V45.3H375.5zM371.5 47.1H373.5V48.9H371.5zM375.5 47.1H377.5V48.9H375.5zM365.4 48.9H367.4V50.7H365.4zM371.5 48.9H373.5V50.7H371.5zM365.4 50.7H367.4V52.5H365.4zM403.2 52.5H405.2V54.5H403.2zM401.3 56.6H403.2V58.6H401.3zM399.3 58.6H401.3V60.6H399.3zM403.2 60.6H405.2V62.7H403.2zM399.3 62.7H401.3V64.7H399.3zM405.2 62.7H407.1V64.7H405.2zM393.5 64.7H395.4V66.8H393.5zM397.4 64.7H399.3V66.8H397.4zM405.2 64.7H407.1V66.8H405.2zM391.5 66.8H393.5V68.8H391.5zM405.2 66.8H407.1V68.8H405.2zM387.6 68.8H389.6V70.8H387.6zM395.4 68.8H397.4V70.8H395.4zM405.2 68.8H407.1V70.8H405.2zM397.4 70.8H405.2V72.9H397.4zM407.1 70.8H409.1V72.9H407.1zM405.2 72.9H407.1V74.9H405.2zM418.9 74.9H420.9V76.9H418.9zM420.9 78.8H422.8V80.8H420.9zM424.8 78.8H426.8V80.8H424.8zM422.8 80.8H424.8V82.8H422.8zM409.1 84.8H411.1V86.7H409.1zM422.8 84.8H424.8V86.7H422.8zM413.0 86.7H415.0V88.7H413.0zM424.8 86.7H426.8V88.7H424.8zM428.7 86.7H430.7V88.7H428.7zM415.0 88.7H417.0V90.7H415.0zM418.9 88.7H420.9V90.7H418.9zM413.0 90.7H415.0V92.7H413.0zM420.9 90.7H422.8V92.7H420.9zM420.9 94.6H422.8V96.6H420.9zM443.3 100.9H445.4V103.1H443.3zM443.3 103.1H445.4V105.3H443.3zM434.9 109.6H439.1V111.8H434.9z"/>
<path fill="#0064ff" d="M373.5 32.6H377.5V34.4H373.5zM385.6 34.4H387.6V36.2H385.6zM371.5 36.2H373.5V38.0H371.5zM381.5 36.2H385.6V38.0H381.5zM369.4 38.0H371.5V39.8H369.4zM365.4 39.8H367.4V41.6H365.4zM365.4 41.6H367.4V43.5H365.4zM385.6 43.5H387.6V45.3H385.6zM369.4 47.1H371.5V48.9H369.4zM369.4 48.9H371.5V50.7H369.4zM367.4 50.7H369.4V52.5H367.4zM377.5 50.7H379.5V52.5H377.5zM407.1 54.5H409.1V56.6H407.1zM397.4 60.6H399.3V62.7H397.4zM395.4 62.7H397.4V64.7H395.4zM389.6 72.9H391.5V74.9H389.6zM428.7 74.9H430.7V76.9H428.7zM415.0 76.9H417.0V78.8H415.0zM428.7 78.8H430.7V80.8H428.7zM411.1 80.8H413.0V82.8H411.1zM428.7 80.8H430.7V82.8H428.7zM420.9 84.8H422.8V86.7H420.9zM418.9 86.7H420.9V88.7H418.9zM409.1 94.6H411.1V96.6H409.1zM413.0 94.6H417.0V96.6H413.0zM445.4 109.6H447.5V111.8H445.4zM443.3 111.8H445.4V114.0H443.3z"/>
<path fill="#0018ff" d="M377.5 32.6H379.5V34.4H377.5zM381.5 39.8H383.6V41.6H381.5zM383.6 41.6H385.6V43.5H383.6zM365.4 43.5H367.4V45.3H365.4zM373.5 47.1H375.5V48.9H373.5zM375.5 48.9H377.5V50.7H375.5zM397.4 52.5H399.3V54.5H397.4zM405.2 60.6H409.1V62.7H405.2zM387.6 62.7H389.6V64.7H387.6zM403.2 62.7H405.2V64.7H403.2zM397.4 68.8H399.3V70.8H397.4zM395.4 70.8H397.4V72.9H395.4zM395.4 72.9H397.4V74.9H395.4zM413.0 74.9H415.0V76.9H413.0zM420.9 74.9H422.8V76.9H420.9zM417.0 76.9H418.9V78.8H417.0zM409.1 78.8H411.1V80.8H409.1zM417.0 78.8H420.9V80.8H417.0zM422.8 78.8H424.8V80.8H422.8zM417.0 80.8H418.9V82.8H417.0zM411.1 82.8H417.0V84.8H411.1zM413.0 84.8H415.0V86.7H413.0zM409.1 86.7H411.1V88.7H409.1zM413.0 88.7H415.0V90.7H413.0zM447.5 96.6H449.6V98.8H447.5zM449.6 105.3H451.7V107.4H449.6zM430.7 114.0H432.8V116.1H430.7zM439.1 116.1H441.2V118.3H439.1z"/>
<path fill="#0000c8" d="M387.6 32.6H397.4V34.4H387.6zM399.3 32.6H401.3V34.4H399.3zM407.1 32.6H409.1V34.4H407.1zM411.1 32.6H417.0V34.4H411.1zM418.9 32.6H420.9V34.4H418.9zM422.8 32.6H424.8V34.4H422.8zM426.8 32.6H428.7V34.4H426.8zM430.7 32.6H451.7V34.4H430.7zM387.6 34.4H403.2V36.2H387.6zM405.2 34.4H415.0V36.2H405.2zM417.0 34.4H420.9V36.2H417.0zM422.8 34.4H424.8V36.2H422.8zM426.8 34.4H428.7V36.2H426.8zM430.7 34.4H447.5V36.2H430.7zM449.6 34.4H451.7V36.2H449.6zM387.6 36.2H389.6V38.0H387.6zM397.4 36.2H422.8V38.0H397.4zM424.8 36.2H439.1V38.0H424.8zM443.3 36.2H445.4V38.0H443.3zM447.5 36.2H449.6V38.0H447.5zM387.6 38.0H418.9V39.8H387.6zM420.9 38.0H424.8V39.8H420.9zM428.7 38.0H439.1V39.8H428.7zM441.2 38.0H443.3V39.8H441.2zM445.4 38.0H451.7V39.8H445.4zM389.6 39.8H399.3V41.6H389.6zM401.3 39.8H415.0V41.6H401.3zM417.0 39.8H428.7V41.6H417.0zM430.7 39.8H434.9V41.6H430.7zM439.1 39.8H445.4V41.6H439.1zM449.6 39.8H451.7V41.6H449.6zM387.6 41.6H389.6V43.5H387.6zM391.5 41.6H393.5V43.5H391.5zM395.4 41.6H397.4V43.5H395.4zM399.3 41.6H413.0V43.5H399.3zM417.0 41.6H422.8V43.5H417.0zM424.8 41.6H428.7V43.5H424.8zM437.0 41.6H443.3V43.5H437.0zM445.4 41.6H451.7V43.5H445.4zM387.6 43.5H391.5V45.3H387.6zM393.5 43.5H403.2V45.3H393.5zM405.2 43.5H411.1V45.3H405.2zM413.0 43.5H430.7V45.3H413.0zM434.9 43.5H451.7V45.3H434.9zM387.6 45.3H389.6V47.1H387.6zM391.5 45.3H395.4V47.1H391.5zM397.4 45.3H432.8V47.1H397.4zM434.9 45.3H437.0V47.1H434.9zM439.1 45.3H451.7V47.1H439.1zM387.6 47.1H405.2V48.9H387.6zM407.1 47.1H411.1V48.9H407.1zM413.0 47.1H418.9V48.9H413.0zM420.9 47.1H439.1V48.9H420.9zM441.2 47.1H443.3V48.9H441.2zM445.4 47.1H449.6V48.9H445.4zM389.6 48.9H409.1V50.7H389.6zM411.1 48.9H420.9V50.7H411.1zM422.8 48.9H432.8V50.7H422.8zM434.9 48.9H439.1V50.7H434.9zM443.3 48.9H445.4V50.7H443.3zM447.5 48.9H451.7V50.7H447.5zM387.6 50.7H401.3V52.5H387.6zM403.2 50.7H411.1V52.5H403.2zM413.0 50.7H426.8V52.5H413.0zM428.7 50.7H434.9V52.5H428.7zM439.1 50.7H441.2V52.5H439.1zM445.4 50.7H447.5V52.5H445.4zM449.6 50.7H451.7V52.5H449.6zM365.4 52.5H373.5V54.5H365.4zM375.5 52.5H383.6V54.5H375.5zM385.6 52.5H387.6V54.5H385.6zM411.1 52.5H413.0V54.5H411.1zM415.0 52.5H422.8V54.5H415.0zM424.8 52.5H449.6V54.5H424.8zM365.4 54.5H369.4V56.6H365.4zM371.5 54.5H375.5V56.6H371.5zM377.5 54.5H379.5V56.6H377.5zM381.5 54.5H387.6V56.6H381.5zM409.1 54.5H411.1V56.6H409.1zM413.0 54.5H415.0V56.6H413.0zM417.0 54.5H422.8V56.6H417.0zM424.8 54.5H426.8V56.6H424.8zM428.7 54.5H443.3V56.6H428.7zM445.4 54.5H451.7V56.6H445.4zM365.4 56.6H369.4V58.6H365.4zM371.5 56.6H377.5V58.6H371.5zM379.5 56.6H387.6V58.6H379.5zM409.1 56.6H418.9V58.6H409.1zM420.9 56.6H445.4V58.6H420.9zM447.5 56.6H451.7V58.6H447.5zM365.4 58.6H369.4V60.6H365.4zM371.5 58.6H375.5V60.6H371.5zM377.5 58.6H387.6V60.6H377.5zM409.1 58.6H428.7V60.6H409.1zM430.7 58.6H451.7V60.6H430.7zM365.4 60.6H369.4V62.7H365.4zM371.5 60.6H379.5V62.7H371.5zM381.5 60.6H387.6V62.7H381.5zM409.1 60.6H417.0V62.7H409.1zM418.9 60.6H420.9V62.7H418.9zM426.8 60.6H428.7V62.7H426.8zM430.7 60.6H443.3V62.7H430.7zM447.5 60.6H451.7V62.7H447.5zM367.4 62.7H375.5V64.7H367.4zM377.5 62.7H387.6V64.7H377.5zM411.1 62.7H418.9V64.7H411.1zM422.8 62.7H426.8V64.7H422.8zM428.7 62.7H432.8V64.7H428.7zM434.9 62.7H441.2V64.7H434.9zM445.4 62.7H451.7V64.7H445.4zM365.4 64.7H373.5V66.8H365.4zM375.5 64.7H387.6V66.8H375.5zM409.1 64.7H413.0V66.8H409.1zM418.9 64.7H445.4V66.8H418.9zM447.5 64.7H451.7V66.8H447.5zM367.4 66.8H385.6V68.8H367.4zM409.1 66.8H415.0V68.8H409.1zM417.0 66.8H426.8V68.8H417.0zM432.8 66.8H445.4V68.8H432.8zM447.5 66.8H451.7V68.8H447.5zM369.4 68.8H377.5V70.8H369.4zM379.5 68.8H387.6V70.8H379.5zM413.0 68.8H418.9V70.8H413.0zM422.8 68.8H428.7V70.8H422.8zM430.7 68.8H451.7V70.8H430.7zM367.4 70.8H381.5V72.9H367.4zM383.6 70.8H387.6V72.9H383.6zM409.1 70.8H451.7V72.9H409.1zM365.4 72.9H387.6V74.9H365.4zM409.1 72.9H413.0V74.9H409.1zM415.0 72.9H417.0V74.9H415.0zM418.9 72.9H422.8V74.9H418.9zM424.8 72.9H443.3V74.9H424.8zM445.4 72.9H451.7V74.9H445.4zM367.4 74.9H383.6V76.9H367.4zM385.6 74.9H387.6V76.9H385.6zM389.6 74.9H397.4V76.9H389.6zM399.3 74.9H403.2V76.9H399.3zM405.2 74.9H409.1V76.9H405.2zM437.0 74.9H451.7V76.9H437.0zM365.4 76.9H377.5V78.8H365.4zM379.5 76.9H381.5V78.8H379.5zM383.6 76.9H385.6V78.8H383.6zM387.6 76.9H389.6V78.8H387.6zM391.5 76.9H403.2V78.8H391.5zM405.2 76.9H409.1V78.8H405.2zM432.8 76.9H434.9V78.8H432.8zM437.0 76.9H445.4V78.8H437.0zM447.5 76.9H451.7V78.8H447.5zM365.4 78.8H375.5V80.8H365.4zM377.5 78.8H387.6V80.8H377.5zM389.6 78.8H399.3V80.8H389.6zM401.3 78.8H407.1V80.8H401.3zM432.8 78.8H439.1V80.8H432.8zM441.2 78.8H449.6V80.8H441.2zM365.4 80.8H367.4V82.8H365.4zM369.4 80.8H373.5V82.8H369.4zM377.5 80.8H389.6V82.8H377.5zM391.5 80.8H399.3V82.8H391.5zM403.2 80.8H409.1V82.8H403.2zM430.7 80.8H437.0V82.8H430.7zM445.4 80.8H451.7V82.8H445.4zM367.4 82.8H395.4V84.8H367.4zM397.4 82.8H399.3V84.8H397.4zM401.3 82.8H407.1V84.8H401.3zM432.8 82.8H434.9V84.8H432.8zM437.0 82.8H441.2V84.8H437.0zM443.3 82.8H451.7V84.8H443.3zM365.4 84.8H371.5V86.7H365.4zM373.5 84.8H381.5V86.7H373.5zM383.6 84.8H391.5V86.7H383.6zM393.5 84.8H397.4V86.7H393.5zM399.3 84.8H403.2V86.7H399.3zM405.2 84.8H409.1V86.7H405.2zM430.7 84.8H443.3V86.7H430.7zM447.5 84.8H451.7V86.7H447.5zM369.4 86.7H383.6V88.7H369.4zM385.6 86.7H395.4V88.7H385.6zM399.3 86.7H403.2V88.7H399.3zM405.2 86.7H409.1V88.7H405.2zM430.7 86.7H439.1V88.7H430.7zM443.3 86.7H451.7V88.7H443.3zM365.4 88.7H369.4V90.7H365.4zM371.5 88.7H375.5V90.7H371.5zM377.5 88.7H387.6V90.7H377.5zM391.5 88.7H395.4V90.7H391.5zM397.4 88.7H407.1V90.7H397.4zM430.7 88.7H434.9V90.7H430.7zM437.0 88.7H449.6V90.7H437.0zM369.4 90.7H371.5V92.7H369.4zM373.5 90.7H395.4V92.7H373.5zM397.4 90.7H409.1V92.7H397.4zM430.7 90.7H441.2V92.7H430.7zM443.3 90.7H445.4V92.7H443.3zM447.5 90.7H451.7V92.7H447.5zM365.4 92.7H371.5V94.6H365.4zM373.5 92.7H385.6V94.6H373.5zM387.6 92.7H389.6V94.6H387.6zM391.5 92.7H397.4V94.6H391.5zM399.3 92.7H401.3V94.6H399.3zM403.2 92.7H409.1V94.6H403.2zM434.9 92.7H451.7V94.6H434.9zM369.4 94.6H373.5V96.6H369.4zM377.5 94.6H393.5V96.6H377.5zM397.4 94.6H401.3V96.6H397.4zM405.2 94.6H409.1V96.6H405.2zM430.7 94.6H437.0V96.6H430.7zM439.1 94.6H451.7V96.6H439.1zM365.4 96.6H375.5V98.8H365.4zM379.5 96.6H401.3V98.8H379.5zM403.2 96.6H409.1V98.8H403.2zM415.0 96.6H417.0V98.8H415.0zM418.9 96.6H426.8V98.8H418.9zM428.7 96.6H430.7V98.8H428.7zM365.4 98.8H375.5V100.9H365.4zM381.5 98.8H383.6V100.9H381.5zM385.6 98.8H397.4V100.9H385.6zM399.3 98.8H409.1V100.9H399.3zM411.1 98.8H426.8V100.9H411.1zM428.7 98.8H430.7V100.9H428.7zM365.4 100.9H373.5V103.1H365.4zM377.5 100.9H385.6V103.1H377.5zM387.6 100.9H409.1V103.1H387.6zM413.0 100.9H417.0V103.1H413.0zM418.9 100.9H422.8V103.1H418.9zM424.8 100.9H430.7V103.1H424.8zM365.4 103.1H373.5V105.3H365.4zM375.5 103.1H379.5V105.3H375.5zM381.5 103.1H385.6V105.3H381.5zM387.6 103.1H415.0V105.3H387.6zM417.0 103.1H428.7V105.3H417.0zM365.4 105.3H369.4V107.4H365.4zM373.5 105.3H381.5V107.4H373.5zM385.6 105.3H413.0V107.4H385.6zM417.0 105.3H420.9V107.4H417.0zM422.8 105.3H430.7V107.4H422.8zM365.4 107.4H369.4V109.6H365.4zM371.5 107.4H383.6V109.6H371.5zM387.6 107.4H397.4V109.6H387.6zM399.3 107.4H415.0V109.6H399.3zM418.9 107.4H420.9V109.6H418.9zM422.8 107.4H424.8V109.6H422.8zM426.8 107.4H430.7V109.6H426.8zM365.4 109.6H371.5V111.8H365.4zM373.5 109.6H375.5V111.8H373.5zM377.5 109.6H381.5V111.8H377.5zM383.6 109.6H385.6V111.8H383.6zM387.6 109.6H389.6V111.8H387.6zM391.5 109.6H395.4V111.8H391.5zM399.3 109.6H407.1V111.8H399.3zM409.1 109.6H415.0V111.8H409.1zM417.0 109.6H418.9V111.8H417.0zM420.9 109.6H430.7V111.8H420.9zM365.4 111.8H369.4V114.0H365.4zM371.5 111.8H373.5V114.0H371.5zM375.5 111.8H383.6V114.0H375.5zM385.6 111.8H391.5V114.0H385.6zM393.5 111.8H395.4V114.0H393.5zM397.4 111.8H399.3V114.0H397.4zM403.2 111.8H411.1V114.0H403.2zM413.0 111.8H418.9V114.0H413.0zM420.9 111.8H424.8V114.0H420.9zM426.8 111.8H430.7V114.0H426.8zM365.4 114.0H367.4V116.1H365.4zM369.4 114.0H373.5V116.1H369.4zM375.5 114.0H385.6V116.1H375.5zM387.6 114.0H430.7V116.1H387.6zM365.4 116.1H369.4V118.3H365.4zM371.5 116.1H381.5V118.3H371.5zM383.6 116.1H387.6V118.3H383.6zM389.6 116.1H413.0V118.3H389.6zM415.0 116.1H422.8V118.3H415.0zM424.8 116.1H430.7V118.3H424.8z"/>
<path fill="#0000b6" d="M397.4 32.6H399.3V34.4H397.4zM401.3 32.6H407.1V34.4H401.3zM409.1 32.6H411.1V34.4H409.1zM417.0 32.6H418.9V34.4H417.0zM420.9 32.6H422.8V34.4H420.9zM424.8 32.6H426.8V34.4H424.8zM428.7 32.6H430.7V34.4H428.7zM403.2 34.4H405.2V36.2H403.2zM415.0 34.4H417.0V36.2H415.0zM420.9 34.4H422.8V36.2H420.9zM424.8 34.4H426.8V36.2H424.8zM428.7 34.4H430.7V36.2H428.7zM447.5 34.4H449.6V36.2H447.5zM389.6 36.2H397.4V38.0H389.6zM422.8 36.2H424.8V38.0H422.8zM439.1 36.2H443.3V38.0H439.1zM445.4 36.2H447.5V38.0H445.4zM449.6 36.2H451.7V38.0H449.6zM418.9 38.0H420.9V39.8H418.9zM424.8 38.0H428.7V39.8H424.8zM439.1 38.0H441.2V39.8H439.1zM443.3 38.0H445.4V39.8H443.3zM387.6 39.8H389.6V41.6H387.6zM399.3 39.8H401.3V41.6H399.3zM415.0 39.8H417.0V41.6H415.0zM434.9 39.8H439.1V41.6H434.9zM445.4 39.8H449.6V41.6H445.4zM389.6 41.6H391.5V43.5H389.6zM393.5 41.6H395.4V43.5H393.5zM397.4 41.6H399.3V43.5H397.4zM413.0 41.6H417.0V43.5H413.0zM422.8 41.6H424.8V43.5H422.8zM428.7 41.6H437.0V43.5H428.7zM443.3 41.6H445.4V43.5H443.3zM391.5 43.5H393.5V45.3H391.5zM403.2 43.5H405.2V45.3H403.2zM411.1 43.5H413.0V45.3H411.1zM389.6 45.3H391.5V47.1H389.6zM395.4 45.3H397.4V47.1H395.4zM432.8 45.3H434.9V47.1H432.8zM437.0 45.3H439.1V47.1H437.0zM405.2 47.1H407.1V48.9H405.2zM411.1 47.1H413.0V48.9H411.1zM418.9 47.1H420.9V48.9H418.9zM439.1 47.1H441.2V48.9H439.1zM443.3 47.1H445.4V48.9H443.3zM387.6 48.9H389.6V50.7H387.6zM409.1 48.9H411.1V50.7H409.1zM420.9 48.9H422.8V50.7H420.9zM432.8 48.9H434.9V50.7H432.8zM439.1 48.9H441.2V50.7H439.1zM445.4 48.9H447.5V50.7H445.4zM401.3 50.7H403.2V52.5H401.3zM411.1 50.7H413.0V52.5H411.1zM426.8 50.7H428.7V52.5H426.8zM434.9 50.7H439.1V52.5H434.9zM441.2 50.7H445.4V52.5H441.2zM447.5 50.7H449.6V52.5H447.5zM373.5 52.5H375.5V54.5H373.5zM383.6 52.5H385.6V54.5H383.6zM409.1 52.5H411.1V54.5H409.1zM413.0 52.5H415.0V54.5H413.0zM422.8 52.5H424.8V54.5H422.8zM369.4 54.5H371.5V56.6H369.4zM375.5 54.5H377.5V56.6H375.5zM379.5 54.5H381.5V56.6H379.5zM411.1 54.5H413.0V56.6H411.1zM415.0 54.5H417.0V56.6H415.0zM422.8 54.5H424.8V56.6H422.8zM426.8 54.5H428.7V56.6H426.8zM443.3 54.5H445.4V56.6H443.3zM369.4 56.6H371.5V58.6H369.4zM377.5 56.6H379.5V58.6H377.5zM418.9 56.6H420.9V58.6H418.9zM445.4 56.6H447.5V58.6H445.4zM369.4 58.6H371.5V60.6H369.4zM375.5 58.6H377.5V60.6H375.5zM428.7 58.6H430.7V60.6H428.7zM369.4 60.6H371.5V62.7H369.4zM379.5 60.6H381.5V62.7H379.5zM417.0 60.6H418.9V62.7H417.0zM420.9 60.6H426.8V62.7H420.9zM428.7 60.6H430.7V62.7H428.7zM443.3 60.6H447.5V62.7H443.3zM365.4 62.7H367.4V64.7H365.4zM375.5 62.7H377.5V64.7H375.5zM409.1 62.7H411.1V64.7H409.1zM418.9 62.7H422.8V64.7H418.9zM426.8 62.7H428.7V64.7H426.8zM432.8 62.7H434.9V64.7H432.8zM443.3 62.7H445.4V64.7H443.3zM373.5 64.7H375.5V66.8H373.5zM413.0 64.7H418.9V66.8H413.0zM445.4 64.7H447.5V66.8H445.4zM365.4 66.8H367.4V68.8H365.4zM385.6 66.8H387.6V68.8H385.6zM415.0 66.8H417.0V68.8H415.0zM426.8 66.8H428.7V68.8H426.8zM430.7 66.8H432.8V68.8H430.7zM445.4 66.8H447.5V68.8H445.4zM365.4 68.8H369.4V70.8H365.4zM377.5 68.8H379.5V70.8H377.5zM409.1 68.8H413.0V70.8H409.1zM418.9 68.8H422.8V70.8H418.9zM428.7 68.8H430.7V70.8H428.7zM365.4 70.8H367.4V72.9H365.4zM381.5 70.8H383.6V72.9H381.5zM413.0 72.9H415.0V74.9H413.0zM417.0 72.9H418.9V74.9H417.0zM422.8 72.9H424.8V74.9H422.8zM443.3 72.9H445.4V74.9H443.3zM365.4 74.9H367.4V76.9H365.4zM383.6 74.9H385.6V76.9H383.6zM387.6 74.9H389.6V76.9H387.6zM397.4 74.9H399.3V76.9H397.4zM403.2 74.9H405.2V76.9H403.2zM430.7 74.9H437.0V76.9H430.7zM377.5 76.9H379.5V78.8H377.5zM381.5 76.9H383.6V78.8H381.5zM385.6 76.9H387.6V78.8H385.6zM389.6 76.9H391.5V78.8H389.6zM403.2 76.9H405.2V78.8H403.2zM430.7 76.9H432.8V78.8H430.7zM434.9 76.9H437.0V78.8H434.9zM445.4 76.9H447.5V78.8H445.4zM375.5 78.8H377.5V80.8H375.5zM387.6 78.8H389.6V80.8H387.6zM399.3 78.8H401.3V80.8H399.3zM407.1 78.8H409.1V80.8H407.1zM430.7 78.8H432.8V80.8H430.7zM449.6 78.8H451.7V80.8H449.6zM367.4 80.8H369.4V82.8H367.4zM373.5 80.8H377.5V82.8H373.5zM389.6 80.8H391.5V82.8H389.6zM399.3 80.8H403.2V82.8H399.3zM437.0 80.8H445.4V82.8H437.0zM365.4 82.8H367.4V84.8H365.4zM395.4 82.8H397.4V84.8H395.4zM399.3 82.8H401.3V84.8H399.3zM407.1 82.8H409.1V84.8H407.1zM430.7 82.8H432.8V84.8H430.7zM434.9 82.8H437.0V84.8H434.9zM371.5 84.8H373.5V86.7H371.5zM381.5 84.8H383.6V86.7H381.5zM391.5 84.8H393.5V86.7H391.5zM397.4 84.8H399.3V86.7H397.4zM403.2 84.8H405.2V86.7H403.2zM443.3 84.8H447.5V86.7H443.3zM365.4 86.7H369.4V88.7H365.4zM383.6 86.7H385.6V88.7H383.6zM395.4 86.7H399.3V88.7H395.4zM403.2 86.7H405.2V88.7H403.2zM439.1 86.7H443.3V88.7H439.1zM369.4 88.7H371.5V90.7H369.4zM375.5 88.7H377.5V90.7H375.5zM387.6 88.7H391.5V90.7H387.6zM395.4 88.7H397.4V90.7H395.4zM407.1 88.7H409.1V90.7H407.1zM434.9 88.7H437.0V90.7H434.9zM449.6 88.7H451.7V90.7H449.6zM365.4 90.7H369.4V92.7H365.4zM371.5 90.7H373.5V92.7H371.5zM395.4 90.7H397.4V92.7H395.4zM441.2 90.7H443.3V92.7H441.2zM371.5 92.7H373.5V94.6H371.5zM385.6 92.7H387.6V94.6H385.6zM389.6 92.7H391.5V94.6H389.6zM397.4 92.7H399.3V94.6H397.4zM401.3 92.7H403.2V94.6H401.3zM430.7 92.7H434.9V94.6H430.7zM365.4 94.6H369.4V96.6H365.4zM375.5 94.6H377.5V96.6H375.5zM393.5 94.6H397.4V96.6H393.5zM403.2 94.6H405.2V96.6H403.2zM437.0 94.6H439.1V96.6H437.0zM375.5 96.6H377.5V98.8H375.5zM401.3 96.6H403.2V98.8H401.3zM409.1 96.6H415.0V98.8H409.1zM417.0 96.6H418.9V98.8H417.0zM426.8 96.6H428.7V98.8H426.8zM375.5 98.8H377.5V100.9H375.5zM379.5 98.8H381.5V100.9H379.5zM383.6 98.8H385.6V100.9H383.6zM397.4 98.8H399.3V100.9H397.4zM409.1 98.8H411.1V100.9H409.1zM426.8 98.8H428.7V100.9H426.8zM373.5 100.9H377.5V103.1H373.5zM385.6 100.9H387.6V103.1H385.6zM409.1 100.9H413.0V103.1H409.1zM417.0 100.9H418.9V103.1H417.0zM422.8 100.9H424.8V103.1H422.8zM373.5 103.1H375.5V105.3H373.5zM379.5 103.1H381.5V105.3H379.5zM385.6 103.1H387.6V105.3H385.6zM415.0 103.1H417.0V105.3H415.0zM428.7 103.1H430.7V105.3H428.7zM369.4 105.3H373.5V107.4H369.4zM381.5 105.3H385.6V107.4H381.5zM415.0 105.3H417.0V107.4H415.0zM420.9 105.3H422.8V107.4H420.9zM369.4 107.4H371.5V109.6H369.4zM385.6 107.4H387.6V109.6H385.6zM415.0 107.4H417.0V109.6H415.0zM420.9 107.4H422.8V109.6H420.9zM424.8 107.4H426.8V109.6H424.8zM371.5 109.6H373.5V111.8H371.5zM375.5 109.6H377.5V111.8H375.5zM381.5 109.6H383.6V111.8H381.5zM385.6 109.6H387.6V111.8H385.6zM389.6 109.6H391.5V111.8H389.6zM395.4 109.6H399.3V111.8H395.4zM407.1 109.6H409.1V111.8H407.1zM415.0 109.6H417.0V111.8H415.0zM418.9 109.6H420.9V111.8H418.9zM369.4 111.8H371.5V114.0H369.4zM373.5 111.8H375.5V114.0H373.5zM383.6 111.8H385.6V114.0H383.6zM391.5 111.8H393.5V114.0H391.5zM395.4 111.8H397.4V114.0H395.4zM399.3 111.8H403.2V114.0H399.3zM411.1 111.8H413.0V114.0H411.1zM418.9 111.8H420.9V114.0H418.9zM367.4 114.0H369.4V116.1H367.4zM373.5 114.0H375.5V116.1H373.5zM385.6 114.0H387.6V116.1H385.6zM369.4 116.1H371.5V118.3H369.4zM413.0 116.1H415.0V118.3H413.0zM422.8 116.1H424.8V118.3H422.8z"/>
<path fill="#0098ff" d="M369.4 34.4H371.5V36.2H369.4zM367.4 36.2H369.4V38.0H367.4zM381.5 43.5H383.6V45.3H381.5zM377.5 47.1H379.5V48.9H377.5zM407.1 52.5H409.1V54.5H407.1zM407.1 56.6H409.1V58.6H407.1zM387.6 72.9H389.6V74.9H387.6zM391.5 72.9H393.5V74.9H391.5zM424.8 74.9H426.8V76.9H424.8zM409.1 90.7H411.1V92.7H409.1zM426.8 90.7H428.7V92.7H426.8zM424.8 92.7H426.8V94.6H424.8zM428.7 92.7H430.7V94.6H428.7zM426.8 94.6H428.7V96.6H426.8zM447.5 109.6H449.6V111.8H447.5zM447.5 111.8H449.6V114.0H447.5zM443.3 114.0H447.5V116.1H443.3z"/>
<path fill="#000cff" d="M373.5 34.4H375.5V36.2H373.5zM377.5 36.2H379.5V38.0H377.5zM367.4 39.8H369.4V41.6H367.4zM377.5 39.8H379.5V41.6H377.5zM369.4 43.5H371.5V45.3H369.4zM373.5 43.5H375.5V45.3H373.5zM385.6 47.1H387.6V48.9H385.6zM381.5 50.7H383.6V52.5H381.5zM401.3 52.5H403.2V54.5H401.3zM395.4 56.6H397.4V58.6H395.4zM391.5 60.6H393.5V62.7H391.5zM401.3 60.6H403.2V62.7H401.3zM407.1 62.7H409.1V64.7H407.1zM387.6 66.8H389.6V68.8H387.6zM395.4 66.8H397.4V68.8H395.4zM397.4 72.9H399.3V74.9H397.4zM413.0 76.9H415.0V78.8H413.0zM422.8 76.9H424.8V78.8H422.8zM411.1 78.8H413.0V80.8H411.1zM420.9 80.8H422.8V82.8H420.9zM422.8 82.8H424.8V84.8H422.8zM426.8 82.8H428.7V84.8H426.8zM415.0 86.7H417.0V88.7H415.0zM411.1 88.7H413.0V90.7H411.1zM417.0 88.7H418.9V90.7H417.0zM417.0 92.7H418.9V94.6H417.0zM441.2 96.6H445.4V98.8H441.2zM449.6 100.9H451.7V103.1H449.6zM439.1 103.1H441.2V105.3H439.1zM437.0 105.3H439.1V107.4H437.0zM447.5 105.3H449.6V107.4H447.5zM430.7 107.4H432.8V109.6H430.7zM430.7 109.6H432.8V111.8H430.7zM439.1 114.0H441.2V116.1H439.1zM434.9 116.1H437.0V118.3H434.9z"/>
<path fill="#008cff" d="M379.5 34.4H381.5V36.2H379.5zM367.4 45.3H369.4V47.1H367.4zM407.1 64.7H409.1V66.8H407.1zM399.3 72.9H401.3V74.9H399.3zM426.8 80.8H428.7V82.8H426.8zM415.0 92.7H417.0V94.6H415.0zM445.4 96.6H447.5V98.8H445.4zM441.2 100.9H443.3V103.1H441.2zM434.9 107.4H437.0V109.6H434.9zM430.7 111.8H432.8V114.0H430.7z"/>
<path fill="#0040ff" d="M383.6 34.4H385.6V36.2H383.6zM375.5 36.2H377.5V38.0H375.5zM375.5 38.0H377.5V39.8H375.5zM385.6 39.8H387.6V41.6H385.6zM369.4 41.6H373.5V43.5H369.4zM379.5 43.5H381.5V45.3H379.5zM377.5 45.3H379.5V47.1H377.5zM385.6 45.3H387.6V47.1H385.6zM367.4 48.9H369.4V50.7H367.4zM373.5 50.7H375.5V52.5H373.5zM379.5 50.7H381.5V52.5H379.5zM393.5 52.5H395.4V54.5H393.5zM387.6 58.6H389.6V60.6H387.6zM397.4 58.6H399.3V60.6H397.4zM407.1 58.6H409.1V60.6H407.1zM399.3 60.6H401.3V62.7H399.3zM393.5 62.7H395.4V64.7H393.5zM395.4 64.7H397.4V66.8H395.4zM393.5 72.9H395.4V74.9H393.5zM426.8 74.9H428.7V76.9H426.8zM420.9 82.8H422.8V84.8H420.9zM424.8 84.8H426.8V86.7H424.8zM417.0 86.7H418.9V88.7H417.0zM426.8 86.7H428.7V88.7H426.8zM418.9 90.7H420.9V92.7H418.9zM409.1 92.7H411.1V94.6H409.1zM420.9 92.7H422.8V94.6H420.9zM437.0 96.6H439.1V98.8H437.0zM439.1 98.8H443.3V100.9H439.1zM430.7 103.1H432.8V105.3H430.7zM432.8 105.3H434.9V107.4H432.8zM432.8 107.4H434.9V109.6H432.8z"/>
<path fill="#0024ff" d="M373.5 36.2H375.5V38.0H373.5zM373.5 38.0H375.5V39.8H373.5zM369.4 39.8H373.5V41.6H369.4zM383.6 39.8H385.6V41.6H383.6zM383.6 45.3H385.6V47.1H383.6zM373.5 48.9H375.5V50.7H373.5zM379.5 48.9H381.5V50.7H379.5zM395.4 54.5H397.4V56.6H395.4zM403.2 54.5H405.2V56.6H403.2zM395.4 58.6H397.4V60.6H395.4zM405.2 58.6H407.1V60.6H405.2zM389.6 60.6H391.5V62.7H389.6zM393.5 60.6H395.4V62.7H393.5zM389.6 68.8H391.5V70.8H389.6zM393.5 70.8H395.4V72.9H393.5zM417.0 74.9H418.9V76.9H417.0zM420.9 76.9H422.8V78.8H420.9zM409.1 82.8H411.1V84.8H409.1zM424.8 82.8H426.8V84.8H424.8zM411.1 86.7H413.0V88.7H411.1zM417.0 90.7H418.9V92.7H417.0zM445.4 98.8H447.5V100.9H445.4zM449.6 98.8H451.7V100.9H449.6zM432.8 111.8H434.9V114.0H432.8zM432.8 116.1H434.9V118.3H432.8z"/>
<path fill="#0080ff" d="M377.5 38.0H379.5V39.8H377.5zM379.5 41.6H381.5V43.5H379.5zM371.5 43.5H373.5V45.3H371.5zM375.5 45.3H377.5V47.1H375.5zM405.2 52.5H407.1V54.5H405.2zM401.3 64.7H403.2V66.8H401.3zM399.3 66.8H401.3V68.8H399.3zM403.2 66.8H405.2V68.8H403.2zM401.3 68.8H403.2V70.8H401.3zM387.6 70.8H389.6V72.9H387.6zM418.9 80.8H420.9V82.8H418.9zM415.0 84.8H417.0V86.7H415.0zM426.8 88.7H428.7V90.7H426.8zM428.7 90.7H430.7V92.7H428.7zM422.8 92.7H424.8V94.6H422.8zM424.8 94.6H426.8V96.6H424.8zM434.9 96.6H437.0V98.8H434.9zM449.6 96.6H451.7V98.8H449.6zM437.0 98.8H439.1V100.9H437.0zM443.3 98.8H445.4V100.9H443.3zM430.7 100.9H432.8V103.1H430.7zM432.8 103.1H434.9V105.3H432.8zM432.8 109.6H434.9V111.8H432.8zM430.7 116.1H432.8V118.3H430.7z"/>
<path fill="#0000d6" d="M428.7 39.8H430.7V41.6H428.7zM430.7 43.5H434.9V45.3H430.7zM449.6 47.1H451.7V48.9H449.6zM441.2 48.9H443.3V50.7H441.2zM449.6 52.5H451.7V54.5H449.6zM441.2 62.7H443.3V64.7H441.2zM428.7 66.8H430.7V68.8H428.7zM439.1 78.8H441.2V80.8H439.1zM441.2 82.8H443.3V84.8H441.2zM445.4 90.7H447.5V92.7H445.4zM373.5 94.6H375.5V96.6H373.5zM401.3 94.6H403.2V96.6H401.3zM377.5 96.6H379.5V98.8H377.5zM377.5 98.8H379.5V100.9H377.5zM413.0 105.3H415.0V107.4H413.0zM383.6 107.4H385.6V109.6H383.6zM397.4 107.4H399.3V109.6H397.4zM417.0 107.4H418.9V109.6H417.0zM424.8 111.8H426.8V114.0H424.8zM381.5 116.1H383.6V118.3H381.5zM387.6 116.1H389.6V118.3H387.6z"/>
<path fill="#0000ff" d="M385.6 41.6H387.6V43.5H385.6zM375.5 50.7H377.5V52.5H375.5zM399.3 52.5H401.3V54.5H399.3zM399.3 56.6H401.3V58.6H399.3zM401.3 62.7H403.2V64.7H401.3zM387.6 64.7H389.6V66.8H387.6zM391.5 64.7H393.5V66.8H391.5zM397.4 66.8H399.3V68.8H397.4zM415.0 74.9H417.0V76.9H415.0zM428.7 76.9H430.7V78.8H428.7zM415.0 78.8H417.0V80.8H415.0zM426.8 78.8H428.7V80.8H426.8zM409.1 80.8H411.1V82.8H409.1zM413.0 80.8H415.0V82.8H413.0zM428.7 82.8H430.7V84.8H428.7zM426.8 84.8H428.7V86.7H426.8zM424.8 88.7H426.8V90.7H424.8zM428.7 88.7H430.7V90.7H428.7zM422.8 90.7H424.8V92.7H422.8zM413.0 92.7H415.0V94.6H413.0zM418.9 92.7H420.9V94.6H418.9zM411.1 94.6H413.0V96.6H411.1zM417.0 94.6H418.9V96.6H417.0zM422.8 94.6H424.8V96.6H422.8zM439.1 96.6H441.2V98.8H439.1zM445.4 100.9H447.5V103.1H445.4zM430.7 105.3H432.8V107.4H430.7zM445.4 107.4H447.5V109.6H445.4zM434.9 111.8H437.0V114.0H434.9zM441.2 111.8H443.3V114.0H441.2zM449.6 111.8H451.7V114.0H449.6zM445.4 116.1H447.5V118.3H445.4z"/>
<path fill="#00a4ff" d="M391.5 54.5H393.5V56.6H391.5zM389.6 56.6H391.5V58.6H389.6zM403.2 58.6H405.2V60.6H403.2zM393.5 68.8H395.4V70.8H393.5zM449.6 103.1H451.7V105.3H449.6zM445.4 105.3H447.5V107.4H445.4zM439.1 111.8H441.2V114.0H439.1zM437.0 116.1H439.1V118.3H437.0z"/>
<path fill="#00b0ff" d="M401.3 58.6H403.2V60.6H401.3zM393.5 66.8H395.4V68.8H393.5z"/>
<path fill="#00ccff" d="M418.9 76.9H420.9V78.8H418.9zM411.1 84.8H413.0V86.7H411.1z"/>
<path fill="#00c0ff" d="M449.6 107.4H451.7V109.6H449.6zM441.2 116.1H443.3V118.3H441.2z"/>
</g>
<path d="M365.4 32.6L387.6 52.5L409.1 74.9L430.7 96.6L451.7 118.3" fill="none" stroke="#800000" stroke-width="1.0" opacity="0.6"/>
<text x="408.60" y="25.90" font-size="12.25" text-anchor="middle" textLength="42.54" lengthAdjust="spacingAndGlyphs" fill="#000">g = 1.5</text>
<g shape-rendering="crispEdges">
<path fill="#ffc400" d="M464.4 32.6H468.4V34.4H464.4zM464.4 34.4H468.4V36.2H464.4zM480.5 34.4H482.6V36.2H480.5zM468.4 36.2H470.5V38.0H468.4zM484.6 36.2H486.6V38.0H484.6zM470.5 38.0H472.5V39.8H470.5zM482.6 38.0H484.6V39.8H482.6zM472.5 39.8H474.5V41.6H472.5zM474.5 41.6H476.5V43.5H474.5zM476.5 43.5H478.5V45.3H476.5zM478.5 45.3H480.5V47.1H478.5zM466.4 47.1H468.4V48.9H466.4zM480.5 47.1H482.6V48.9H480.5zM470.5 48.9H472.5V50.7H470.5zM482.6 48.9H484.6V50.7H482.6zM468.4 50.7H470.5V52.5H468.4zM484.6 50.7H486.6V52.5H484.6zM486.6 52.5H488.6V54.5H486.6zM500.3 52.5H502.2V54.5H500.3zM488.6 54.5H490.5V56.6H488.6zM494.4 54.5H496.4V56.6H494.4zM500.3 54.5H502.2V56.6H500.3zM506.1 54.5H508.1V56.6H506.1zM490.5 56.6H492.5V58.6H490.5zM498.3 56.6H500.3V58.6H498.3zM492.5 58.6H494.4V60.6H492.5zM502.2 58.6H504.2V60.6H502.2zM506.1 58.6H508.1V60.6H506.1zM488.6 60.6H490.5V62.7H488.6zM494.4 60.6H496.4V62.7H494.4zM506.1 60.6H508.1V62.7H506.1zM496.4 62.7H498.3V64.7H496.4zM490.5 64.7H492.5V66.8H490.5zM498.3 64.7H502.2V66.8H498.3zM486.6 66.8H490.5V68.8H486.6zM498.3 66.8H502.2V68.8H498.3zM504.2 66.8H506.1V68.8H504.2zM492.5 68.8H494.4V70.8H492.5zM502.2 68.8H504.2V70.8H502.2zM500.3 70.8H502.2V72.9H500.3zM504.2 70.8H506.1V72.9H504.2zM488.6 72.9H490.5V74.9H488.6zM492.5 72.9H496.4V74.9H492.5zM506.1 72.9H508.1V74.9H506.1zM508.1 74.9H510.1V76.9H508.1zM510.1 76.9H512.0V78.8H510.1zM525.8 76.9H527.7V78.8H525.8zM512.0 78.8H514.0V80.8H512.0zM519.9 78.8H525.8V80.8H519.9zM514.0 80.8H516.0V82.8H514.0zM516.0 82.8H517.9V84.8H516.0zM517.9 84.8H519.9V86.7H517.9zM521.8 84.8H523.8V86.7H521.8zM512.0 86.7H514.0V88.7H512.0zM519.9 86.7H521.8V88.7H519.9zM512.0 88.7H514.0V90.7H512.0zM517.9 88.7H519.9V90.7H517.9zM521.8 88.7H523.8V90.7H521.8zM512.0 90.7H514.0V92.7H512.0zM523.8 90.7H525.8V92.7H523.8zM510.1 92.7H512.0V94.6H510.1zM525.8 92.7H529.7V94.6H525.8zM525.8 94.6H529.7V96.6H525.8zM529.7 96.6H533.9V98.8H529.7zM546.5 96.6H548.6V98.8H546.5zM529.7 98.8H533.9V100.9H529.7zM533.9 100.9H536.0V103.1H533.9zM536.0 103.1H538.1V105.3H536.0zM538.1 105.3H540.2V107.4H538.1zM540.2 107.4H542.3V109.6H540.2zM542.3 109.6H544.4V111.8H542.3zM548.6 109.6H550.7V111.8H548.6zM544.4 111.8H546.5V114.0H544.4zM548.6 111.8H550.7V114.0H548.6zM529.7 114.0H531.8V116.1H529.7zM546.5 114.0H548.6V116.1H546.5zM542.3 116.1H546.5V118.3H542.3zM548.6 116.1H550.7V118.3H548.6z"/>
<path fill="#ffae00" d="M468.4 32.6H470.5V34.4H468.4zM472.5 32.6H474.5V34.4H472.5zM464.4 36.2H466.4V38.0H464.4zM464.4 39.8H466.4V41.6H464.4zM482.6 45.3H484.6V47.1H482.6zM478.5 48.9H480.5V50.7H478.5zM490.5 54.5H492.5V56.6H490.5zM498.3 54.5H500.3V56.6H498.3zM502.2 54.5H506.1V56.6H502.2zM488.6 56.6H490.5V58.6H488.6zM494.4 58.6H496.4V60.6H494.4zM498.3 58.6H500.3V60.6H498.3zM492.5 60.6H494.4V62.7H492.5zM498.3 60.6H500.3V62.7H498.3zM488.6 64.7H490.5V66.8H488.6zM492.5 64.7H496.4V66.8H492.5zM506.1 66.8H508.1V68.8H506.1zM488.6 68.8H490.5V70.8H488.6zM504.2 68.8H506.1V70.8H504.2zM488.6 70.8H490.5V72.9H488.6zM502.2 70.8H504.2V72.9H502.2zM500.3 72.9H502.2V74.9H500.3zM517.9 74.9H519.9V76.9H517.9zM519.9 76.9H521.8V78.8H519.9zM523.8 76.9H525.8V78.8H523.8zM519.9 80.8H521.8V82.8H519.9zM508.1 84.8H510.1V86.7H508.1zM510.1 86.7H512.0V88.7H510.1zM514.0 86.7H516.0V88.7H514.0zM510.1 90.7H512.0V92.7H510.1zM538.1 96.6H540.2V98.8H538.1zM538.1 100.9H542.3V103.1H538.1zM529.7 105.3H531.8V107.4H529.7zM533.9 105.3H536.0V107.4H533.9zM533.9 107.4H536.0V109.6H533.9zM546.5 109.6H548.6V111.8H546.5zM542.3 114.0H544.4V116.1H542.3z"/>
<path fill="#ffa300" d="M470.5 32.6H472.5V34.4H470.5zM482.6 34.4H484.6V36.2H482.6zM464.4 38.0H466.4V39.8H464.4zM478.5 39.8H480.5V41.6H478.5zM476.5 41.6H478.5V43.5H476.5zM474.5 43.5H476.5V45.3H474.5zM472.5 45.3H474.5V47.1H472.5zM466.4 48.9H468.4V50.7H466.4zM506.1 56.6H508.1V58.6H506.1zM504.2 58.6H506.1V60.6H504.2zM502.2 60.6H504.2V62.7H502.2zM494.4 68.8H496.4V70.8H494.4zM492.5 70.8H494.4V72.9H492.5zM490.5 72.9H492.5V74.9H490.5zM527.7 74.9H529.7V76.9H527.7zM523.8 82.8H525.8V84.8H523.8zM516.0 90.7H517.9V92.7H516.0zM527.7 90.7H529.7V92.7H527.7zM508.1 94.6H510.1V96.6H508.1zM523.8 94.6H525.8V96.6H523.8zM540.2 105.3H542.3V107.4H540.2zM538.1 107.4H540.2V109.6H538.1z"/>
<path fill="#ffde00" d="M474.5 32.6H476.5V34.4H474.5zM480.5 32.6H482.6V34.4H480.5zM470.5 36.2H472.5V38.0H470.5zM480.5 36.2H484.6V38.0H480.5zM468.4 38.0H470.5V39.8H468.4zM472.5 38.0H474.5V39.8H472.5zM476.5 38.0H478.5V39.8H476.5zM484.6 38.0H486.6V39.8H484.6zM470.5 39.8H472.5V41.6H470.5zM464.4 41.6H466.4V43.5H464.4zM470.5 43.5H472.5V45.3H470.5zM464.4 47.1H466.4V48.9H464.4zM468.4 47.1H470.5V48.9H468.4zM468.4 48.9H470.5V50.7H468.4zM470.5 50.7H472.5V52.5H470.5zM496.4 52.5H500.3V54.5H496.4zM506.1 52.5H508.1V54.5H506.1zM496.4 58.6H498.3V60.6H496.4zM496.4 60.6H498.3V62.7H496.4zM486.6 62.7H488.6V64.7H486.6zM492.5 62.7H496.4V64.7H492.5zM498.3 62.7H504.2V64.7H498.3zM486.6 64.7H488.6V66.8H486.6zM496.4 64.7H498.3V66.8H496.4zM506.1 64.7H508.1V66.8H506.1zM496.4 66.8H498.3V68.8H496.4zM496.4 68.8H498.3V70.8H496.4zM486.6 72.9H488.6V74.9H486.6zM498.3 72.9H500.3V74.9H498.3zM514.0 74.9H516.0V76.9H514.0zM521.8 76.9H523.8V78.8H521.8zM525.8 78.8H527.7V80.8H525.8zM508.1 80.8H510.1V82.8H508.1zM525.8 82.8H527.7V84.8H525.8zM523.8 84.8H525.8V86.7H523.8zM527.7 86.7H529.7V88.7H527.7zM510.1 88.7H512.0V90.7H510.1zM525.8 88.7H527.7V90.7H525.8zM517.9 90.7H519.9V92.7H517.9zM512.0 92.7H514.0V94.6H512.0zM516.0 92.7H517.9V94.6H516.0zM521.8 92.7H523.8V94.6H521.8zM519.9 94.6H521.8V96.6H519.9zM533.9 96.6H538.1V98.8H533.9zM540.2 96.6H542.3V98.8H540.2zM544.4 96.6H546.5V98.8H544.4zM544.4 98.8H546.5V100.9H544.4zM548.6 98.8H550.7V100.9H548.6zM529.7 100.9H531.8V103.1H529.7zM544.4 100.9H546.5V103.1H544.4zM529.7 103.1H531.8V105.3H529.7zM546.5 103.1H550.7V105.3H546.5zM542.3 105.3H544.4V107.4H542.3zM529.7 107.4H531.8V109.6H529.7zM544.4 107.4H546.5V109.6H544.4zM538.1 109.6H540.2V111.8H538.1zM529.7 111.8H536.0V114.0H529.7zM540.2 111.8H542.3V114.0H540.2zM536.0 114.0H538.1V116.1H536.0zM531.8 116.1H533.9V118.3H531.8zM536.0 116.1H538.1V118.3H536.0z"/>
<path fill="#ffb900" d="M476.5 32.6H480.5V34.4H476.5zM482.6 32.6H484.6V34.4H482.6zM468.4 34.4H472.5V36.2H468.4zM466.4 36.2H468.4V38.0H466.4zM472.5 36.2H474.5V38.0H472.5zM476.5 36.2H478.5V38.0H476.5zM466.4 38.0H468.4V39.8H466.4zM468.4 39.8H470.5V41.6H468.4zM474.5 39.8H476.5V41.6H474.5zM480.5 39.8H482.6V41.6H480.5zM472.5 41.6H474.5V43.5H472.5zM464.4 43.5H466.4V45.3H464.4zM468.4 43.5H470.5V45.3H468.4zM478.5 43.5H480.5V45.3H478.5zM482.6 43.5H484.6V45.3H482.6zM464.4 45.3H466.4V47.1H464.4zM476.5 45.3H478.5V47.1H476.5zM484.6 45.3H486.6V47.1H484.6zM472.5 47.1H474.5V48.9H472.5zM484.6 47.1H486.6V48.9H484.6zM464.4 48.9H466.4V50.7H464.4zM476.5 48.9H478.5V50.7H476.5zM484.6 48.9H486.6V50.7H484.6zM478.5 50.7H484.6V52.5H478.5zM502.2 56.6H504.2V58.6H502.2zM504.2 60.6H506.1V62.7H504.2zM504.2 62.7H506.1V64.7H504.2zM502.2 64.7H506.1V66.8H502.2zM502.2 66.8H504.2V68.8H502.2zM490.5 68.8H492.5V70.8H490.5zM498.3 68.8H502.2V70.8H498.3zM494.4 70.8H500.3V72.9H494.4zM510.1 74.9H512.0V76.9H510.1zM508.1 76.9H510.1V78.8H508.1zM521.8 86.7H523.8V88.7H521.8zM525.8 86.7H527.7V88.7H525.8zM519.9 88.7H521.8V90.7H519.9zM523.8 88.7H525.8V90.7H523.8zM521.8 90.7H523.8V92.7H521.8zM519.9 92.7H521.8V94.6H519.9zM548.6 96.6H550.7V98.8H548.6zM546.5 100.9H550.7V103.1H546.5zM544.4 105.3H550.7V107.4H544.4zM546.5 107.4H548.6V109.6H546.5zM538.1 111.8H540.2V114.0H538.1zM533.9 114.0H536.0V116.1H533.9zM538.1 114.0H542.3V116.1H538.1zM548.6 114.0H550.7V116.1H548.6zM529.7 116.1H531.8V118.3H529.7zM533.9 116.1H536.0V118.3H533.9zM538.1 116.1H540.2V118.3H538.1zM546.5 116.1H548.6V118.3H546.5z"/>
<path fill="#ff9400" d="M484.6 32.6H486.6V34.4H484.6zM476.5 39.8H478.5V41.6H476.5zM482.6 39.8H484.6V41.6H482.6zM472.5 43.5H474.5V45.3H472.5zM480.5 43.5H482.6V45.3H480.5zM476.5 47.1H478.5V48.9H476.5zM472.5 48.9H474.5V50.7H472.5zM464.4 50.7H466.4V52.5H464.4zM506.1 68.8H508.1V70.8H506.1zM506.1 70.8H508.1V72.9H506.1zM502.2 72.9H506.1V74.9H502.2zM527.7 82.8H529.7V84.8H527.7zM525.8 90.7H527.7V92.7H525.8zM523.8 92.7H525.8V94.6H523.8zM516.0 94.6H517.9V96.6H516.0z"/>
<path fill="#00b0ff" d="M486.6 32.6H488.6V34.4H486.6zM496.4 32.6H498.3V34.4H496.4zM508.1 32.6H510.1V34.4H508.1zM512.0 32.6H514.0V34.4H512.0zM516.0 32.6H517.9V34.4H516.0zM490.5 36.2H492.5V38.0H490.5zM494.4 36.2H496.4V38.0H494.4zM525.8 36.2H527.7V38.0H525.8zM494.4 38.0H496.4V39.8H494.4zM536.0 38.0H538.1V39.8H536.0zM490.5 41.6H492.5V43.5H490.5zM531.8 41.6H533.9V43.5H531.8zM519.9 45.3H523.8V47.1H519.9zM490.5 47.1H492.5V48.9H490.5zM531.8 47.1H533.9V48.9H531.8zM496.4 48.9H498.3V50.7H496.4zM514.0 48.9H517.9V50.7H514.0zM464.4 52.5H466.4V54.5H464.4zM525.8 52.5H527.7V54.5H525.8zM533.9 52.5H536.0V54.5H533.9zM468.4 56.6H470.5V58.6H468.4zM474.5 56.6H476.5V58.6H474.5zM480.5 56.6H482.6V58.6H480.5zM510.1 56.6H512.0V58.6H510.1zM516.0 56.6H517.9V58.6H516.0zM519.9 56.6H521.8V58.6H519.9zM468.4 60.6H472.5V62.7H468.4zM508.1 60.6H510.1V62.7H508.1zM512.0 60.6H514.0V62.7H512.0zM519.9 60.6H521.8V62.7H519.9zM464.4 62.7H466.4V64.7H464.4zM482.6 62.7H484.6V64.7H482.6zM533.9 62.7H536.0V64.7H533.9zM510.1 64.7H512.0V66.8H510.1zM527.7 64.7H529.7V66.8H527.7zM517.9 68.8H519.9V70.8H517.9zM517.9 70.8H519.9V72.9H517.9zM508.1 72.9H510.1V74.9H508.1zM464.4 74.9H466.4V76.9H464.4zM494.4 74.9H496.4V76.9H494.4zM506.1 74.9H508.1V76.9H506.1zM490.5 76.9H492.5V78.8H490.5zM498.3 76.9H500.3V78.8H498.3zM464.4 78.8H466.4V80.8H464.4zM494.4 78.8H496.4V80.8H494.4zM531.8 78.8H533.9V80.8H531.8zM536.0 78.8H538.1V80.8H536.0zM482.6 80.8H484.6V82.8H482.6zM464.4 82.8H466.4V84.8H464.4zM482.6 82.8H484.6V84.8H482.6zM490.5 82.8H492.5V84.8H490.5zM502.2 84.8H506.1V86.7H502.2zM540.2 84.8H542.3V86.7H540.2zM548.6 84.8H550.7V86.7H548.6zM478.5 86.7H480.5V88.7H478.5zM490.5 86.7H492.5V88.7H490.5zM494.4 86.7H496.4V88.7H494.4zM536.0 86.7H538.1V88.7H536.0zM478.5 88.7H480.5V90.7H478.5zM536.0 88.7H538.1V90.7H536.0zM542.3 88.7H544.4V90.7H542.3zM468.4 92.7H470.5V94.6H468.4zM486.6 92.7H488.6V94.6H486.6zM498.3 94.6H500.3V96.6H498.3zM531.8 94.6H533.9V96.6H531.8zM542.3 94.6H544.4V96.6H542.3zM474.5 98.8H476.5V100.9H474.5zM480.5 98.8H482.6V100.9H480.5zM512.0 98.8H514.0V100.9H512.0zM527.7 98.8H529.7V100.9H527.7zM486.6 100.9H488.6V103.1H486.6zM496.4 100.9H498.3V103.1H496.4zM470.5 103.1H472.5V105.3H470.5zM512.0 103.1H514.0V105.3H512.0zM519.9 103.1H523.8V105.3H519.9zM517.9 107.4H519.9V109.6H517.9zM521.8 109.6H523.8V111.8H521.8zM527.7 109.6H529.7V111.8H527.7zM517.9 116.1H519.9V118.3H517.9z"/>
<path fill="#29ffce" d="M488.6 32.6H490.5V34.4H488.6zM492.5 32.6H494.4V34.4H492.5zM548.6 32.6H550.7V34.4H548.6zM533.9 34.4H536.0V36.2H533.9zM538.1 36.2H540.2V38.0H538.1zM531.8 39.8H533.9V41.6H531.8zM506.1 43.5H508.1V45.3H506.1zM531.8 43.5H533.9V45.3H531.8zM506.1 48.9H508.1V50.7H506.1zM529.7 48.9H531.8V50.7H529.7zM544.4 48.9H546.5V50.7H544.4zM548.6 48.9H550.7V50.7H548.6zM498.3 50.7H500.3V52.5H498.3zM533.9 50.7H536.0V52.5H533.9zM544.4 50.7H546.5V52.5H544.4zM464.4 54.5H466.4V56.6H464.4zM544.4 54.5H546.5V56.6H544.4zM464.4 58.6H466.4V60.6H464.4zM484.6 64.7H486.6V66.8H484.6zM529.7 64.7H531.8V66.8H529.7zM546.5 64.7H550.7V66.8H546.5zM529.7 66.8H531.8V68.8H529.7zM525.8 68.8H527.7V70.8H525.8zM531.8 68.8H533.9V70.8H531.8zM533.9 70.8H536.0V72.9H533.9zM476.5 72.9H478.5V74.9H476.5zM482.6 72.9H484.6V74.9H482.6zM529.7 72.9H531.8V74.9H529.7zM538.1 82.8H540.2V84.8H538.1zM546.5 86.7H548.6V88.7H546.5zM538.1 88.7H540.2V90.7H538.1zM531.8 90.7H533.9V92.7H531.8zM502.2 92.7H504.2V94.6H502.2zM546.5 92.7H548.6V94.6H546.5zM482.6 96.6H484.6V98.8H482.6zM498.3 96.6H502.2V98.8H498.3zM506.1 96.6H508.1V98.8H506.1zM472.5 98.8H474.5V100.9H472.5zM476.5 98.8H478.5V100.9H476.5zM502.2 98.8H504.2V100.9H502.2zM523.8 98.8H525.8V100.9H523.8zM466.4 100.9H468.4V103.1H466.4zM484.6 100.9H486.6V103.1H484.6zM504.2 100.9H506.1V103.1H504.2zM468.4 105.3H470.5V107.4H468.4zM516.0 105.3H517.9V107.4H516.0zM521.8 105.3H523.8V107.4H521.8zM482.6 111.8H486.6V114.0H482.6zM488.6 111.8H490.5V114.0H488.6zM498.3 114.0H500.3V116.1H498.3zM519.9 114.0H521.8V116.1H519.9zM525.8 114.0H527.7V116.1H525.8zM464.4 116.1H466.4V118.3H464.4zM482.6 116.1H484.6V118.3H482.6zM498.3 116.1H500.3V118.3H498.3z"/>
<path fill="#00e4f8" d="M490.5 32.6H492.5V34.4H490.5zM531.8 32.6H533.9V34.4H531.8zM542.3 32.6H544.4V34.4H542.3zM525.8 34.4H527.7V36.2H525.8zM536.0 34.4H538.1V36.2H536.0zM488.6 36.2H490.5V38.0H488.6zM500.3 36.2H502.2V38.0H500.3zM544.4 36.2H546.5V38.0H544.4zM488.6 38.0H490.5V39.8H488.6zM492.5 38.0H494.4V39.8H492.5zM504.2 38.0H506.1V39.8H504.2zM525.8 39.8H527.7V41.6H525.8zM536.0 39.8H538.1V41.6H536.0zM492.5 41.6H494.4V43.5H492.5zM540.2 41.6H542.3V43.5H540.2zM486.6 43.5H488.6V45.3H486.6zM496.4 43.5H498.3V45.3H496.4zM516.0 43.5H517.9V45.3H516.0zM498.3 45.3H502.2V47.1H498.3zM488.6 47.1H490.5V48.9H488.6zM492.5 47.1H494.4V48.9H492.5zM546.5 47.1H550.7V48.9H546.5zM490.5 48.9H492.5V50.7H490.5zM494.4 48.9H496.4V50.7H494.4zM519.9 50.7H523.8V52.5H519.9zM525.8 50.7H527.7V52.5H525.8zM476.5 52.5H478.5V54.5H476.5zM468.4 54.5H472.5V56.6H468.4zM480.5 54.5H482.6V56.6H480.5zM516.0 54.5H517.9V56.6H516.0zM519.9 54.5H523.8V56.6H519.9zM527.7 54.5H529.7V56.6H527.7zM531.8 54.5H533.9V56.6H531.8zM464.4 56.6H466.4V58.6H464.4zM482.6 56.6H484.6V58.6H482.6zM470.5 58.6H472.5V60.6H470.5zM474.5 58.6H476.5V60.6H474.5zM480.5 58.6H482.6V60.6H480.5zM512.0 58.6H514.0V60.6H512.0zM516.0 58.6H517.9V60.6H516.0zM519.9 58.6H521.8V60.6H519.9zM482.6 60.6H484.6V62.7H482.6zM476.5 62.7H478.5V64.7H476.5zM523.8 62.7H525.8V64.7H523.8zM538.1 62.7H540.2V64.7H538.1zM546.5 62.7H548.6V64.7H546.5zM478.5 64.7H480.5V66.8H478.5zM525.8 64.7H527.7V66.8H525.8zM533.9 64.7H536.0V66.8H533.9zM468.4 66.8H470.5V68.8H468.4zM478.5 66.8H480.5V68.8H478.5zM510.1 68.8H512.0V70.8H510.1zM514.0 68.8H516.0V70.8H514.0zM470.5 70.8H472.5V72.9H470.5zM512.0 70.8H516.0V72.9H512.0zM525.8 72.9H527.7V74.9H525.8zM533.9 72.9H536.0V74.9H533.9zM542.3 72.9H544.4V74.9H542.3zM529.7 74.9H531.8V76.9H529.7zM544.4 74.9H546.5V76.9H544.4zM548.6 74.9H550.7V76.9H548.6zM502.2 76.9H504.2V78.8H502.2zM529.7 76.9H531.8V78.8H529.7zM540.2 76.9H542.3V78.8H540.2zM492.5 78.8H494.4V80.8H492.5zM504.2 78.8H506.1V80.8H504.2zM540.2 78.8H542.3V80.8H540.2zM502.2 80.8H506.1V82.8H502.2zM476.5 82.8H478.5V84.8H476.5zM488.6 82.8H490.5V84.8H488.6zM492.5 82.8H494.4V84.8H492.5zM544.4 82.8H546.5V84.8H544.4zM484.6 86.7H486.6V88.7H484.6zM488.6 86.7H490.5V88.7H488.6zM492.5 86.7H494.4V88.7H492.5zM484.6 88.7H486.6V90.7H484.6zM488.6 88.7H490.5V90.7H488.6zM544.4 88.7H546.5V90.7H544.4zM496.4 90.7H498.3V92.7H496.4zM466.4 92.7H468.4V94.6H466.4zM472.5 92.7H474.5V94.6H472.5zM484.6 92.7H486.6V94.6H484.6zM498.3 92.7H500.3V94.6H498.3zM506.1 92.7H508.1V94.6H506.1zM533.9 92.7H536.0V94.6H533.9zM488.6 94.6H490.5V96.6H488.6zM529.7 94.6H531.8V96.6H529.7zM548.6 94.6H550.7V96.6H548.6zM508.1 96.6H512.0V98.8H508.1zM527.7 96.6H529.7V98.8H527.7zM464.4 98.8H466.4V100.9H464.4zM488.6 98.8H490.5V100.9H488.6zM498.3 100.9H500.3V103.1H498.3zM506.1 100.9H508.1V103.1H506.1zM525.8 100.9H527.7V103.1H525.8zM466.4 103.1H468.4V105.3H466.4zM472.5 103.1H474.5V105.3H472.5zM496.4 105.3H498.3V107.4H496.4zM474.5 107.4H476.5V109.6H474.5zM510.1 107.4H514.0V109.6H510.1zM464.4 109.6H466.4V111.8H464.4zM506.1 109.6H508.1V111.8H506.1zM468.4 111.8H470.5V114.0H468.4zM508.1 111.8H510.1V114.0H508.1zM516.0 111.8H517.9V114.0H516.0zM521.8 111.8H523.8V114.0H521.8zM480.5 114.0H482.6V116.1H480.5zM496.4 114.0H498.3V116.1H496.4zM480.5 116.1H482.6V118.3H480.5zM508.1 116.1H510.1V118.3H508.1zM527.7 116.1H529.7V118.3H527.7z"/>
<path fill="#00d8ff" d="M494.4 32.6H496.4V34.4H494.4zM525.8 32.6H527.7V34.4H525.8zM536.0 32.6H538.1V34.4H536.0zM519.9 34.4H521.8V36.2H519.9zM533.9 36.2H536.0V38.0H533.9zM500.3 38.0H502.2V39.8H500.3zM523.8 38.0H525.8V39.8H523.8zM544.4 38.0H546.5V39.8H544.4zM496.4 39.8H498.3V41.6H496.4zM519.9 39.8H521.8V41.6H519.9zM500.3 41.6H502.2V43.5H500.3zM523.8 41.6H525.8V43.5H523.8zM544.4 41.6H546.5V43.5H544.4zM548.6 41.6H550.7V43.5H548.6zM508.1 43.5H510.1V45.3H508.1zM512.0 43.5H514.0V45.3H512.0zM521.8 43.5H523.8V45.3H521.8zM527.7 43.5H529.7V45.3H527.7zM490.5 45.3H492.5V47.1H490.5zM494.4 45.3H496.4V47.1H494.4zM542.3 45.3H544.4V47.1H542.3zM504.2 47.1H506.1V48.9H504.2zM523.8 47.1H525.8V48.9H523.8zM533.9 47.1H536.0V48.9H533.9zM544.4 47.1H546.5V48.9H544.4zM486.6 48.9H488.6V50.7H486.6zM519.9 48.9H521.8V50.7H519.9zM536.0 48.9H538.1V50.7H536.0zM486.6 50.7H488.6V52.5H486.6zM496.4 50.7H498.3V52.5H496.4zM508.1 50.7H512.0V52.5H508.1zM482.6 52.5H486.6V54.5H482.6zM523.8 52.5H525.8V54.5H523.8zM540.2 52.5H542.3V54.5H540.2zM546.5 52.5H550.7V54.5H546.5zM508.1 54.5H514.0V56.6H508.1zM536.0 54.5H538.1V56.6H536.0zM478.5 56.6H480.5V58.6H478.5zM533.9 56.6H536.0V58.6H533.9zM544.4 56.6H546.5V58.6H544.4zM508.1 58.6H512.0V60.6H508.1zM514.0 58.6H516.0V60.6H514.0zM464.4 60.6H466.4V62.7H464.4zM478.5 60.6H480.5V62.7H478.5zM544.4 60.6H546.5V62.7H544.4zM472.5 62.7H474.5V64.7H472.5zM484.6 62.7H486.6V64.7H484.6zM540.2 62.7H542.3V64.7H540.2zM548.6 62.7H550.7V64.7H548.6zM531.8 64.7H533.9V66.8H531.8zM542.3 64.7H544.4V66.8H542.3zM470.5 66.8H472.5V68.8H470.5zM474.5 66.8H476.5V68.8H474.5zM512.0 66.8H514.0V68.8H512.0zM521.8 66.8H523.8V68.8H521.8zM542.3 66.8H544.4V68.8H542.3zM516.0 68.8H517.9V70.8H516.0zM527.7 68.8H529.7V70.8H527.7zM480.5 70.8H482.6V72.9H480.5zM516.0 70.8H517.9V72.9H516.0zM527.7 70.8H529.7V72.9H527.7zM512.0 72.9H514.0V74.9H512.0zM519.9 72.9H523.8V74.9H519.9zM531.8 72.9H533.9V74.9H531.8zM476.5 74.9H478.5V76.9H476.5zM484.6 74.9H486.6V76.9H484.6zM488.6 74.9H490.5V76.9H488.6zM492.5 74.9H494.4V76.9H492.5zM533.9 74.9H536.0V76.9H533.9zM484.6 76.9H486.6V78.8H484.6zM488.6 76.9H490.5V78.8H488.6zM492.5 76.9H494.4V78.8H492.5zM476.5 78.8H478.5V80.8H476.5zM488.6 78.8H490.5V80.8H488.6zM500.3 78.8H502.2V80.8H500.3zM506.1 78.8H508.1V80.8H506.1zM533.9 78.8H536.0V80.8H533.9zM544.4 78.8H546.5V80.8H544.4zM492.5 80.8H494.4V82.8H492.5zM529.7 80.8H531.8V82.8H529.7zM548.6 80.8H550.7V82.8H548.6zM502.2 82.8H506.1V84.8H502.2zM466.4 86.7H468.4V88.7H466.4zM472.5 86.7H474.5V88.7H472.5zM482.6 86.7H484.6V88.7H482.6zM506.1 86.7H508.1V88.7H506.1zM544.4 86.7H546.5V88.7H544.4zM476.5 88.7H478.5V90.7H476.5zM500.3 88.7H502.2V90.7H500.3zM506.1 88.7H508.1V90.7H506.1zM533.9 88.7H536.0V90.7H533.9zM470.5 90.7H472.5V92.7H470.5zM474.5 90.7H476.5V92.7H474.5zM480.5 90.7H482.6V92.7H480.5zM486.6 90.7H488.6V92.7H486.6zM464.4 92.7H466.4V94.6H464.4zM531.8 92.7H533.9V94.6H531.8zM542.3 92.7H544.4V94.6H542.3zM476.5 94.6H478.5V96.6H476.5zM502.2 94.6H506.1V96.6H502.2zM540.2 94.6H542.3V96.6H540.2zM544.4 94.6H548.6V96.6H544.4zM514.0 96.6H516.0V98.8H514.0zM498.3 98.8H500.3V100.9H498.3zM506.1 98.8H508.1V100.9H506.1zM525.8 98.8H527.7V100.9H525.8zM468.4 100.9H470.5V103.1H468.4zM480.5 100.9H482.6V103.1H480.5zM490.5 100.9H492.5V103.1H490.5zM508.1 100.9H510.1V103.1H508.1zM512.0 100.9H514.0V103.1H512.0zM521.8 100.9H523.8V103.1H521.8zM464.4 103.1H466.4V105.3H464.4zM482.6 103.1H484.6V105.3H482.6zM488.6 103.1H490.5V105.3H488.6zM486.6 107.4H488.6V109.6H486.6zM496.4 107.4H498.3V109.6H496.4zM527.7 107.4H529.7V109.6H527.7zM478.5 109.6H480.5V111.8H478.5zM498.3 109.6H502.2V111.8H498.3zM525.8 109.6H527.7V111.8H525.8zM470.5 111.8H472.5V114.0H470.5zM474.5 111.8H476.5V114.0H474.5zM480.5 111.8H482.6V114.0H480.5zM490.5 111.8H492.5V114.0H490.5zM494.4 111.8H496.4V114.0H494.4zM512.0 111.8H514.0V114.0H512.0zM519.9 111.8H521.8V114.0H519.9zM527.7 111.8H529.7V114.0H527.7zM486.6 114.0H488.6V116.1H486.6zM527.7 114.0H529.7V116.1H527.7zM474.5 116.1H476.5V118.3H474.5zM486.6 116.1H488.6V118.3H486.6zM496.4 116.1H498.3V118.3H496.4zM514.0 116.1H516.0V118.3H514.0z"/>
<path fill="#09f0ee" d="M498.3 32.6H500.3V34.4H498.3zM490.5 34.4H492.5V36.2H490.5zM494.4 34.4H496.4V36.2H494.4zM492.5 36.2H494.4V38.0H492.5zM523.8 36.2H525.8V38.0H523.8zM502.2 38.0H504.2V39.8H502.2zM529.7 38.0H531.8V39.8H529.7zM540.2 38.0H542.3V39.8H540.2zM548.6 38.0H550.7V39.8H548.6zM490.5 39.8H492.5V41.6H490.5zM494.4 39.8H496.4V41.6H494.4zM542.3 39.8H544.4V41.6H542.3zM488.6 41.6H490.5V43.5H488.6zM502.2 41.6H506.1V43.5H502.2zM529.7 41.6H531.8V43.5H529.7zM506.1 45.3H508.1V47.1H506.1zM533.9 45.3H536.0V47.1H533.9zM502.2 47.1H504.2V48.9H502.2zM538.1 47.1H540.2V48.9H538.1zM498.3 48.9H500.3V50.7H498.3zM525.8 48.9H527.7V50.7H525.8zM531.8 48.9H533.9V50.7H531.8zM542.3 48.9H544.4V50.7H542.3zM494.4 50.7H496.4V52.5H494.4zM536.0 50.7H538.1V52.5H536.0zM474.5 54.5H476.5V56.6H474.5zM466.4 56.6H468.4V58.6H466.4zM472.5 56.6H474.5V58.6H472.5zM529.7 56.6H531.8V58.6H529.7zM540.2 56.6H542.3V58.6H540.2zM548.6 56.6H550.7V58.6H548.6zM468.4 58.6H470.5V60.6H468.4zM521.8 58.6H523.8V60.6H521.8zM536.0 58.6H538.1V60.6H536.0zM542.3 58.6H544.4V60.6H542.3zM466.4 60.6H468.4V62.7H466.4zM472.5 60.6H474.5V62.7H472.5zM484.6 60.6H486.6V62.7H484.6zM529.7 60.6H531.8V62.7H529.7zM546.5 60.6H550.7V62.7H546.5zM464.4 64.7H466.4V66.8H464.4zM482.6 64.7H484.6V66.8H482.6zM519.9 66.8H521.8V68.8H519.9zM525.8 66.8H527.7V68.8H525.8zM531.8 66.8H533.9V68.8H531.8zM470.5 68.8H472.5V70.8H470.5zM474.5 68.8H476.5V70.8H474.5zM480.5 68.8H482.6V70.8H480.5zM512.0 68.8H514.0V70.8H512.0zM536.0 68.8H538.1V70.8H536.0zM474.5 70.8H476.5V72.9H474.5zM521.8 70.8H523.8V72.9H521.8zM536.0 70.8H538.1V72.9H536.0zM478.5 72.9H480.5V74.9H478.5zM540.2 74.9H542.3V76.9H540.2zM546.5 74.9H548.6V76.9H546.5zM548.6 76.9H550.7V78.8H548.6zM502.2 78.8H504.2V80.8H502.2zM529.7 78.8H531.8V80.8H529.7zM540.2 80.8H542.3V82.8H540.2zM546.5 80.8H548.6V82.8H546.5zM529.7 82.8H531.8V84.8H529.7zM540.2 82.8H542.3V84.8H540.2zM548.6 82.8H550.7V84.8H548.6zM500.3 86.7H502.2V88.7H500.3zM529.7 86.7H531.8V88.7H529.7zM492.5 88.7H494.4V90.7H492.5zM504.2 88.7H506.1V90.7H504.2zM529.7 88.7H531.8V90.7H529.7zM548.6 88.7H550.7V90.7H548.6zM468.4 90.7H470.5V92.7H468.4zM536.0 90.7H538.1V92.7H536.0zM482.6 92.7H484.6V94.6H482.6zM500.3 92.7H502.2V94.6H500.3zM544.4 92.7H546.5V94.6H544.4zM470.5 96.6H472.5V98.8H470.5zM474.5 96.6H476.5V98.8H474.5zM490.5 96.6H492.5V98.8H490.5zM494.4 96.6H496.4V98.8H494.4zM512.0 96.6H514.0V98.8H512.0zM516.0 96.6H517.9V98.8H516.0zM519.9 96.6H523.8V98.8H519.9zM482.6 98.8H484.6V100.9H482.6zM500.3 98.8H502.2V100.9H500.3zM478.5 100.9H480.5V103.1H478.5zM484.6 103.1H486.6V105.3H484.6zM492.5 103.1H494.4V105.3H492.5zM502.2 103.1H506.1V105.3H502.2zM523.8 103.1H525.8V105.3H523.8zM480.5 105.3H482.6V107.4H480.5zM470.5 107.4H472.5V109.6H470.5zM490.5 107.4H492.5V109.6H490.5zM508.1 107.4H510.1V109.6H508.1zM514.0 107.4H517.9V109.6H514.0zM472.5 109.6H474.5V111.8H472.5zM482.6 109.6H484.6V111.8H482.6zM492.5 109.6H494.4V111.8H492.5zM525.8 111.8H527.7V114.0H525.8zM494.4 114.0H496.4V116.1H494.4zM508.1 114.0H510.1V116.1H508.1zM514.0 114.0H516.0V116.1H514.0zM470.5 116.1H472.5V118.3H470.5zM490.5 116.1H492.5V118.3H490.5zM494.4 116.1H496.4V118.3H494.4zM510.1 116.1H512.0V118.3H510.1zM516.0 116.1H517.9V118.3H516.0zM521.8 116.1H523.8V118.3H521.8z"/>
<path fill="#16ffe1" d="M500.3 32.6H502.2V34.4H500.3zM506.1 32.6H508.1V34.4H506.1zM523.8 32.6H525.8V34.4H523.8zM533.9 32.6H536.0V34.4H533.9zM498.3 34.4H500.3V36.2H498.3zM542.3 34.4H544.4V36.2H542.3zM502.2 36.2H506.1V38.0H502.2zM529.7 36.2H531.8V38.0H529.7zM540.2 36.2H542.3V38.0H540.2zM546.5 36.2H550.7V38.0H546.5zM546.5 38.0H548.6V39.8H546.5zM546.5 41.6H548.6V43.5H546.5zM494.4 43.5H496.4V45.3H494.4zM519.9 43.5H521.8V45.3H519.9zM488.6 45.3H490.5V47.1H488.6zM492.5 45.3H494.4V47.1H492.5zM504.2 45.3H506.1V47.1H504.2zM523.8 45.3H525.8V47.1H523.8zM529.7 45.3H531.8V47.1H529.7zM544.4 45.3H546.5V47.1H544.4zM529.7 47.1H531.8V48.9H529.7zM540.2 47.1H542.3V48.9H540.2zM500.3 48.9H502.2V50.7H500.3zM533.9 48.9H536.0V50.7H533.9zM531.8 50.7H533.9V52.5H531.8zM538.1 52.5H540.2V54.5H538.1zM478.5 54.5H480.5V56.6H478.5zM525.8 54.5H527.7V56.6H525.8zM542.3 54.5H544.4V56.6H542.3zM546.5 56.6H548.6V58.6H546.5zM478.5 58.6H480.5V60.6H478.5zM531.8 58.6H533.9V60.6H531.8zM476.5 60.6H478.5V62.7H476.5zM540.2 60.6H542.3V62.7H540.2zM466.4 64.7H468.4V66.8H466.4zM544.4 64.7H546.5V66.8H544.4zM464.4 66.8H466.4V68.8H464.4zM482.6 66.8H484.6V68.8H482.6zM533.9 66.8H536.0V68.8H533.9zM468.4 68.8H470.5V70.8H468.4zM508.1 68.8H510.1V70.8H508.1zM468.4 70.8H470.5V72.9H468.4zM478.5 70.8H480.5V72.9H478.5zM508.1 70.8H510.1V72.9H508.1zM519.9 70.8H521.8V72.9H519.9zM531.8 70.8H533.9V72.9H531.8zM542.3 70.8H544.4V72.9H542.3zM464.4 72.9H466.4V74.9H464.4zM502.2 74.9H506.1V76.9H502.2zM538.1 74.9H540.2V76.9H538.1zM538.1 76.9H540.2V78.8H538.1zM546.5 76.9H548.6V78.8H546.5zM538.1 78.8H540.2V80.8H538.1zM546.5 78.8H550.7V80.8H546.5zM538.1 80.8H540.2V82.8H538.1zM546.5 82.8H548.6V84.8H546.5zM476.5 86.7H478.5V88.7H476.5zM504.2 86.7H506.1V88.7H504.2zM540.2 86.7H542.3V88.7H540.2zM548.6 86.7H550.7V88.7H548.6zM540.2 88.7H542.3V90.7H540.2zM464.4 90.7H466.4V92.7H464.4zM478.5 90.7H480.5V92.7H478.5zM488.6 92.7H490.5V94.6H488.6zM529.7 92.7H531.8V94.6H529.7zM468.4 96.6H470.5V98.8H468.4zM478.5 96.6H482.6V98.8H478.5zM525.8 96.6H527.7V98.8H525.8zM484.6 98.8H486.6V100.9H484.6zM492.5 98.8H494.4V100.9H492.5zM504.2 98.8H506.1V100.9H504.2zM464.4 100.9H466.4V103.1H464.4zM482.6 100.9H484.6V103.1H482.6zM500.3 100.9H502.2V103.1H500.3zM486.6 105.3H488.6V107.4H486.6zM508.1 105.3H516.0V107.4H508.1zM468.4 107.4H470.5V109.6H468.4zM480.5 107.4H482.6V109.6H480.5zM494.4 107.4H496.4V109.6H494.4zM519.9 107.4H523.8V109.6H519.9zM466.4 109.6H468.4V111.8H466.4zM488.6 109.6H490.5V111.8H488.6zM504.2 109.6H506.1V111.8H504.2zM478.5 111.8H480.5V114.0H478.5zM498.3 111.8H500.3V114.0H498.3zM468.4 114.0H472.5V116.1H468.4zM474.5 114.0H476.5V116.1H474.5zM490.5 114.0H492.5V116.1H490.5zM510.1 114.0H514.0V116.1H510.1zM516.0 114.0H517.9V116.1H516.0zM468.4 116.1H470.5V118.3H468.4zM512.0 116.1H514.0V118.3H512.0zM519.9 116.1H521.8V118.3H519.9z"/>
<path fill="#3cffba" d="M502.2 32.6H504.2V34.4H502.2zM538.1 32.6H540.2V34.4H538.1zM492.5 34.4H494.4V36.2H492.5zM548.6 34.4H550.7V36.2H548.6zM502.2 39.8H506.1V41.6H502.2zM529.7 39.8H531.8V41.6H529.7zM498.3 43.5H500.3V45.3H498.3zM533.9 43.5H536.0V45.3H533.9zM502.2 48.9H504.2V50.7H502.2zM540.2 48.9H542.3V50.7H540.2zM546.5 48.9H548.6V50.7H546.5zM488.6 50.7H490.5V52.5H488.6zM502.2 50.7H504.2V52.5H502.2zM523.8 50.7H525.8V52.5H523.8zM484.6 54.5H486.6V56.6H484.6zM540.2 54.5H542.3V56.6H540.2zM466.4 58.6H468.4V60.6H466.4zM523.8 58.6H525.8V60.6H523.8zM546.5 58.6H550.7V60.6H546.5zM476.5 64.7H478.5V66.8H476.5zM538.1 64.7H540.2V66.8H538.1zM523.8 66.8H525.8V68.8H523.8zM538.1 66.8H540.2V68.8H538.1zM546.5 66.8H548.6V68.8H546.5zM464.4 68.8H466.4V70.8H464.4zM472.5 68.8H474.5V70.8H472.5zM482.6 68.8H486.6V70.8H482.6zM472.5 70.8H474.5V72.9H472.5zM484.6 90.7H486.6V92.7H484.6zM492.5 90.7H494.4V92.7H492.5zM500.3 90.7H502.2V92.7H500.3zM544.4 90.7H546.5V92.7H544.4zM472.5 96.6H474.5V98.8H472.5zM476.5 100.9H478.5V103.1H476.5zM464.4 105.3H466.4V107.4H464.4zM498.3 105.3H502.2V107.4H498.3zM482.6 107.4H484.6V109.6H482.6zM488.6 107.4H490.5V109.6H488.6zM523.8 111.8H525.8V114.0H523.8zM482.6 114.0H484.6V116.1H482.6zM492.5 114.0H494.4V116.1H492.5zM500.3 114.0H502.2V116.1H500.3zM466.4 116.1H468.4V118.3H466.4zM492.5 116.1H494.4V118.3H492.5z"/>
<path fill="#33ffc4" d="M504.2 32.6H506.1V34.4H504.2zM529.7 32.6H531.8V34.4H529.7zM540.2 32.6H542.3V34.4H540.2zM546.5 32.6H548.6V34.4H546.5zM488.6 34.4H490.5V36.2H488.6zM504.2 34.4H506.1V36.2H504.2zM523.8 34.4H525.8V36.2H523.8zM540.2 34.4H542.3V36.2H540.2zM544.4 34.4H546.5V36.2H544.4zM492.5 39.8H494.4V41.6H492.5zM500.3 39.8H502.2V41.6H500.3zM523.8 39.8H525.8V41.6H523.8zM544.4 39.8H546.5V41.6H544.4zM500.3 43.5H502.2V45.3H500.3zM502.2 45.3H504.2V47.1H502.2zM538.1 45.3H540.2V47.1H538.1zM546.5 45.3H548.6V47.1H546.5zM488.6 48.9H490.5V50.7H488.6zM492.5 48.9H494.4V50.7H492.5zM504.2 48.9H506.1V50.7H504.2zM523.8 48.9H525.8V50.7H523.8zM500.3 50.7H502.2V52.5H500.3zM506.1 50.7H508.1V52.5H506.1zM529.7 50.7H531.8V52.5H529.7zM466.4 54.5H468.4V56.6H466.4zM482.6 54.5H484.6V56.6H482.6zM529.7 54.5H531.8V56.6H529.7zM548.6 54.5H550.7V56.6H548.6zM472.5 58.6H474.5V60.6H472.5zM482.6 58.6H484.6V60.6H482.6zM529.7 58.6H531.8V60.6H529.7zM540.2 58.6H542.3V60.6H540.2zM540.2 64.7H542.3V66.8H540.2zM472.5 66.8H474.5V68.8H472.5zM476.5 66.8H478.5V68.8H476.5zM484.6 66.8H486.6V68.8H484.6zM540.2 66.8H542.3V68.8H540.2zM548.6 66.8H550.7V68.8H548.6zM478.5 68.8H480.5V70.8H478.5zM533.9 68.8H536.0V70.8H533.9zM544.4 68.8H546.5V70.8H544.4zM548.6 68.8H550.7V70.8H548.6zM464.4 70.8H468.4V72.9H464.4zM482.6 70.8H484.6V72.9H482.6zM529.7 70.8H531.8V72.9H529.7zM484.6 72.9H486.6V74.9H484.6zM523.8 72.9H525.8V74.9H523.8zM538.1 72.9H540.2V74.9H538.1zM546.5 72.9H548.6V74.9H546.5zM466.4 90.7H468.4V92.7H466.4zM472.5 90.7H474.5V92.7H472.5zM482.6 90.7H484.6V92.7H482.6zM506.1 90.7H508.1V92.7H506.1zM533.9 90.7H536.0V92.7H533.9zM542.3 90.7H544.4V92.7H542.3zM538.1 92.7H540.2V94.6H538.1zM464.4 96.6H466.4V98.8H464.4zM484.6 96.6H486.6V98.8H484.6zM488.6 96.6H490.5V98.8H488.6zM492.5 96.6H494.4V98.8H492.5zM504.2 96.6H506.1V98.8H504.2zM502.2 100.9H504.2V103.1H502.2zM523.8 100.9H525.8V103.1H523.8zM478.5 105.3H480.5V107.4H478.5zM506.1 105.3H508.1V107.4H506.1zM525.8 105.3H527.7V107.4H525.8zM464.4 107.4H468.4V109.6H464.4zM492.5 107.4H494.4V109.6H492.5zM498.3 107.4H502.2V109.6H498.3zM523.8 109.6H525.8V111.8H523.8zM466.4 111.8H468.4V114.0H466.4zM472.5 111.8H474.5V114.0H472.5zM502.2 111.8H504.2V114.0H502.2zM464.4 114.0H466.4V116.1H464.4zM478.5 114.0H480.5V116.1H478.5zM506.1 114.0H508.1V116.1H506.1zM488.6 116.1H490.5V118.3H488.6zM500.3 116.1H504.2V118.3H500.3z"/>
<path fill="#00c0ff" d="M510.1 32.6H512.0V34.4H510.1zM519.9 32.6H523.8V34.4H519.9zM486.6 34.4H488.6V36.2H486.6zM531.8 36.2H533.9V38.0H531.8zM531.8 38.0H536.0V39.8H531.8zM512.0 39.8H517.9V41.6H512.0zM527.7 39.8H529.7V41.6H527.7zM498.3 41.6H500.3V43.5H498.3zM506.1 41.6H508.1V43.5H506.1zM525.8 41.6H527.7V43.5H525.8zM542.3 41.6H544.4V43.5H542.3zM536.0 45.3H538.1V47.1H536.0zM498.3 47.1H500.3V48.9H498.3zM542.3 47.1H544.4V48.9H542.3zM512.0 48.9H514.0V50.7H512.0zM521.8 48.9H523.8V50.7H521.8zM514.0 50.7H516.0V52.5H514.0zM527.7 50.7H529.7V52.5H527.7zM466.4 52.5H468.4V54.5H466.4zM525.8 56.6H527.7V58.6H525.8zM542.3 56.6H544.4V58.6H542.3zM525.8 60.6H527.7V62.7H525.8zM531.8 60.6H533.9V62.7H531.8zM542.3 60.6H544.4V62.7H542.3zM529.7 62.7H531.8V64.7H529.7zM474.5 64.7H476.5V66.8H474.5zM480.5 64.7H482.6V66.8H480.5zM514.0 64.7H517.9V66.8H514.0zM521.8 64.7H523.8V66.8H521.8zM536.0 64.7H538.1V66.8H536.0zM510.1 66.8H512.0V68.8H510.1zM516.0 66.8H517.9V68.8H516.0zM527.7 66.8H529.7V68.8H527.7zM474.5 72.9H476.5V74.9H474.5zM510.1 72.9H512.0V74.9H510.1zM516.0 72.9H517.9V74.9H516.0zM527.7 72.9H529.7V74.9H527.7zM531.8 74.9H533.9V76.9H531.8zM542.3 74.9H544.4V76.9H542.3zM464.4 76.9H466.4V78.8H464.4zM500.3 76.9H502.2V78.8H500.3zM506.1 76.9H508.1V78.8H506.1zM472.5 78.8H474.5V80.8H472.5zM482.6 78.8H484.6V80.8H482.6zM542.3 78.8H544.4V80.8H542.3zM472.5 80.8H474.5V82.8H472.5zM484.6 80.8H486.6V82.8H484.6zM498.3 80.8H500.3V82.8H498.3zM533.9 80.8H536.0V82.8H533.9zM544.4 80.8H546.5V82.8H544.4zM472.5 82.8H474.5V84.8H472.5zM498.3 82.8H502.2V84.8H498.3zM506.1 82.8H508.1V84.8H506.1zM531.8 82.8H533.9V84.8H531.8zM542.3 82.8H544.4V84.8H542.3zM538.1 84.8H540.2V86.7H538.1zM464.4 86.7H466.4V88.7H464.4zM531.8 86.7H533.9V88.7H531.8zM542.3 86.7H544.4V88.7H542.3zM464.4 88.7H466.4V90.7H464.4zM482.6 88.7H484.6V90.7H482.6zM498.3 88.7H500.3V90.7H498.3zM474.5 92.7H476.5V94.6H474.5zM490.5 92.7H492.5V94.6H490.5zM494.4 92.7H496.4V94.6H494.4zM536.0 92.7H538.1V94.6H536.0zM472.5 94.6H474.5V96.6H472.5zM484.6 94.6H486.6V96.6H484.6zM500.3 94.6H502.2V96.6H500.3zM506.1 94.6H508.1V96.6H506.1zM496.4 96.6H498.3V98.8H496.4zM468.4 98.8H472.5V100.9H468.4zM494.4 98.8H496.4V100.9H494.4zM508.1 98.8H510.1V100.9H508.1zM516.0 98.8H517.9V100.9H516.0zM519.9 98.8H521.8V100.9H519.9zM470.5 100.9H472.5V103.1H470.5zM514.0 100.9H516.0V103.1H514.0zM478.5 103.1H480.5V105.3H478.5zM498.3 103.1H500.3V105.3H498.3zM525.8 103.1H527.7V105.3H525.8zM517.9 105.3H519.9V107.4H517.9zM474.5 109.6H476.5V111.8H474.5zM480.5 109.6H482.6V111.8H480.5zM490.5 109.6H492.5V111.8H490.5zM494.4 109.6H496.4V111.8H494.4zM508.1 109.6H510.1V111.8H508.1zM512.0 109.6H514.0V111.8H512.0zM516.0 109.6H517.9V111.8H516.0zM519.9 109.6H521.8V111.8H519.9zM514.0 111.8H516.0V114.0H514.0z"/>
<path fill="#0098ff" d="M514.0 32.6H516.0V34.4H514.0zM486.6 36.2H488.6V38.0H486.6zM496.4 36.2H498.3V38.0H496.4zM490.5 38.0H492.5V39.8H490.5zM496.4 38.0H498.3V39.8H496.4zM519.9 41.6H521.8V43.5H519.9zM496.4 45.3H498.3V47.1H496.4zM510.1 45.3H512.0V47.1H510.1zM516.0 45.3H517.9V47.1H516.0zM527.7 45.3H529.7V47.1H527.7zM516.0 47.1H517.9V48.9H516.0zM519.9 47.1H521.8V48.9H519.9zM517.9 50.7H519.9V52.5H517.9zM468.4 52.5H470.5V54.5H468.4zM542.3 52.5H544.4V54.5H542.3zM517.9 54.5H519.9V56.6H517.9zM470.5 56.6H472.5V58.6H470.5zM514.0 56.6H516.0V58.6H514.0zM527.7 56.6H529.7V58.6H527.7zM517.9 58.6H519.9V60.6H517.9zM510.1 60.6H512.0V62.7H510.1zM514.0 60.6H516.0V62.7H514.0zM527.7 60.6H529.7V62.7H527.7zM468.4 62.7H472.5V64.7H468.4zM478.5 62.7H480.5V64.7H478.5zM516.0 62.7H517.9V64.7H516.0zM519.9 62.7H521.8V64.7H519.9zM525.8 62.7H527.7V64.7H525.8zM531.8 62.7H533.9V64.7H531.8zM478.5 76.9H480.5V78.8H478.5zM494.4 76.9H496.4V78.8H494.4zM464.4 80.8H466.4V82.8H464.4zM490.5 80.8H492.5V82.8H490.5zM494.4 80.8H496.4V82.8H494.4zM531.8 80.8H533.9V82.8H531.8zM536.0 80.8H538.1V82.8H536.0zM478.5 82.8H482.6V84.8H478.5zM496.4 82.8H498.3V84.8H496.4zM484.6 84.8H486.6V86.7H484.6zM488.6 84.8H490.5V86.7H488.6zM492.5 84.8H494.4V86.7H492.5zM474.5 86.7H476.5V88.7H474.5zM480.5 86.7H482.6V88.7H480.5zM496.4 86.7H498.3V88.7H496.4zM496.4 92.7H498.3V94.6H496.4zM478.5 94.6H480.5V96.6H478.5zM490.5 94.6H492.5V96.6H490.5zM494.4 94.6H496.4V96.6H494.4zM496.4 98.8H498.3V100.9H496.4zM514.0 98.8H516.0V100.9H514.0zM514.0 103.1H516.0V105.3H514.0zM486.6 109.6H488.6V111.8H486.6z"/>
<path fill="#0070ff" d="M517.9 32.6H519.9V34.4H517.9zM510.1 38.0H512.0V39.8H510.1zM514.0 41.6H516.0V43.5H514.0zM527.7 41.6H529.7V43.5H527.7zM517.9 60.6H519.9V62.7H517.9zM517.9 64.7H519.9V66.8H517.9zM470.5 76.9H472.5V78.8H470.5zM474.5 80.8H476.5V82.8H474.5zM464.4 84.8H466.4V86.7H464.4zM494.4 84.8H496.4V86.7H494.4zM498.3 84.8H500.3V86.7H498.3zM474.5 94.6H476.5V96.6H474.5z"/>
<path fill="#00a4ff" d="M527.7 32.6H529.7V34.4H527.7zM519.9 36.2H521.8V38.0H519.9zM536.0 36.2H538.1V38.0H536.0zM525.8 38.0H527.7V39.8H525.8zM494.4 41.6H496.4V43.5H494.4zM536.0 41.6H538.1V43.5H536.0zM517.9 43.5H519.9V45.3H517.9zM486.6 45.3H488.6V47.1H486.6zM508.1 45.3H510.1V47.1H508.1zM494.4 47.1H496.4V48.9H494.4zM525.8 47.1H527.7V48.9H525.8zM536.0 47.1H538.1V48.9H536.0zM478.5 52.5H480.5V54.5H478.5zM531.8 52.5H533.9V54.5H531.8zM508.1 56.6H510.1V58.6H508.1zM512.0 56.6H514.0V58.6H512.0zM521.8 56.6H523.8V58.6H521.8zM536.0 56.6H538.1V58.6H536.0zM474.5 60.6H476.5V62.7H474.5zM480.5 60.6H482.6V62.7H480.5zM516.0 60.6H517.9V62.7H516.0zM521.8 60.6H523.8V62.7H521.8zM536.0 60.6H538.1V62.7H536.0zM508.1 62.7H510.1V64.7H508.1zM514.0 72.9H516.0V74.9H514.0zM478.5 74.9H480.5V76.9H478.5zM490.5 74.9H492.5V76.9H490.5zM496.4 74.9H498.3V76.9H496.4zM536.0 74.9H538.1V76.9H536.0zM531.8 76.9H533.9V78.8H531.8zM536.0 76.9H538.1V78.8H536.0zM542.3 76.9H544.4V78.8H542.3zM490.5 78.8H492.5V80.8H490.5zM506.1 80.8H508.1V82.8H506.1zM542.3 80.8H544.4V82.8H542.3zM494.4 82.8H496.4V84.8H494.4zM536.0 82.8H538.1V84.8H536.0zM476.5 84.8H478.5V86.7H476.5zM529.7 84.8H531.8V86.7H529.7zM546.5 84.8H548.6V86.7H546.5zM468.4 86.7H470.5V88.7H468.4zM490.5 88.7H492.5V90.7H490.5zM494.4 88.7H496.4V90.7H494.4zM470.5 92.7H472.5V94.6H470.5zM480.5 92.7H482.6V94.6H480.5zM464.4 94.6H466.4V96.6H464.4zM536.0 94.6H538.1V96.6H536.0zM517.9 96.6H519.9V98.8H517.9zM486.6 98.8H488.6V100.9H486.6zM510.1 98.8H512.0V100.9H510.1zM468.4 103.1H470.5V105.3H468.4zM474.5 103.1H476.5V105.3H474.5zM480.5 103.1H482.6V105.3H480.5zM490.5 103.1H492.5V105.3H490.5zM494.4 103.1H496.4V105.3H494.4zM508.1 103.1H512.0V105.3H508.1zM516.0 103.1H517.9V105.3H516.0zM527.7 103.1H529.7V105.3H527.7zM510.1 109.6H512.0V111.8H510.1zM514.0 109.6H516.0V111.8H514.0zM517.9 114.0H519.9V116.1H517.9z"/>
<path fill="#1fffd7" d="M544.4 32.6H546.5V34.4H544.4zM500.3 34.4H502.2V36.2H500.3zM506.1 34.4H508.1V36.2H506.1zM531.8 34.4H533.9V36.2H531.8zM538.1 38.0H540.2V39.8H538.1zM498.3 39.8H500.3V41.6H498.3zM506.1 39.8H508.1V41.6H506.1zM533.9 39.8H536.0V41.6H533.9zM538.1 41.6H540.2V43.5H538.1zM490.5 43.5H492.5V45.3H490.5zM525.8 43.5H527.7V45.3H525.8zM536.0 43.5H538.1V45.3H536.0zM542.3 43.5H544.4V45.3H542.3zM540.2 45.3H542.3V47.1H540.2zM548.6 45.3H550.7V47.1H548.6zM490.5 50.7H492.5V52.5H490.5zM542.3 50.7H544.4V52.5H542.3zM533.9 54.5H536.0V56.6H533.9zM476.5 56.6H478.5V58.6H476.5zM484.6 56.6H486.6V58.6H484.6zM523.8 56.6H525.8V58.6H523.8zM538.1 56.6H540.2V58.6H538.1zM525.8 58.6H527.7V60.6H525.8zM533.9 58.6H536.0V60.6H533.9zM544.4 58.6H546.5V60.6H544.4zM523.8 60.6H525.8V62.7H523.8zM538.1 60.6H540.2V62.7H538.1zM472.5 64.7H474.5V66.8H472.5zM523.8 64.7H525.8V66.8H523.8zM466.4 66.8H468.4V68.8H466.4zM544.4 66.8H546.5V68.8H544.4zM519.9 68.8H523.8V70.8H519.9zM542.3 68.8H544.4V70.8H542.3zM525.8 70.8H527.7V72.9H525.8zM544.4 70.8H546.5V72.9H544.4zM466.4 72.9H468.4V74.9H466.4zM472.5 72.9H474.5V74.9H472.5zM540.2 72.9H542.3V74.9H540.2zM544.4 72.9H546.5V74.9H544.4zM548.6 72.9H550.7V74.9H548.6zM502.2 86.7H504.2V88.7H502.2zM538.1 86.7H540.2V88.7H538.1zM502.2 88.7H504.2V90.7H502.2zM546.5 88.7H548.6V90.7H546.5zM490.5 90.7H492.5V92.7H490.5zM494.4 90.7H496.4V92.7H494.4zM498.3 90.7H500.3V92.7H498.3zM476.5 92.7H478.5V94.6H476.5zM492.5 92.7H494.4V94.6H492.5zM504.2 92.7H506.1V94.6H504.2zM540.2 92.7H542.3V94.6H540.2zM548.6 92.7H550.7V94.6H548.6zM538.1 94.6H540.2V96.6H538.1zM466.4 98.8H468.4V100.9H466.4zM472.5 100.9H474.5V103.1H472.5zM488.6 100.9H490.5V103.1H488.6zM492.5 100.9H494.4V103.1H492.5zM476.5 103.1H478.5V105.3H476.5zM470.5 105.3H472.5V107.4H470.5zM474.5 105.3H476.5V107.4H474.5zM490.5 105.3H492.5V107.4H490.5zM494.4 105.3H496.4V107.4H494.4zM519.9 105.3H521.8V107.4H519.9zM527.7 105.3H529.7V107.4H527.7zM478.5 107.4H480.5V109.6H478.5zM506.1 107.4H508.1V109.6H506.1zM525.8 107.4H527.7V109.6H525.8zM476.5 109.6H478.5V111.8H476.5zM484.6 109.6H486.6V111.8H484.6zM502.2 109.6H504.2V111.8H502.2zM464.4 111.8H466.4V114.0H464.4zM492.5 111.8H494.4V114.0H492.5zM500.3 111.8H502.2V114.0H500.3zM504.2 111.8H508.1V114.0H504.2zM521.8 114.0H523.8V116.1H521.8zM478.5 116.1H480.5V118.3H478.5zM506.1 116.1H508.1V118.3H506.1zM525.8 116.1H527.7V118.3H525.8z"/>
<path fill="#ff8900" d="M472.5 34.4H474.5V36.2H472.5zM466.4 39.8H468.4V41.6H466.4zM484.6 43.5H486.6V45.3H484.6zM476.5 50.7H478.5V52.5H476.5zM492.5 54.5H494.4V56.6H492.5zM488.6 58.6H490.5V60.6H488.6zM523.8 74.9H525.8V76.9H523.8zM508.1 90.7H510.1V92.7H508.1z"/>
<path fill="#ffd000" d="M474.5 34.4H478.5V36.2H474.5zM484.6 34.4H486.6V36.2H484.6zM474.5 36.2H476.5V38.0H474.5zM480.5 38.0H482.6V39.8H480.5zM466.4 41.6H470.5V43.5H466.4zM478.5 41.6H480.5V43.5H478.5zM482.6 41.6H484.6V43.5H482.6zM466.4 43.5H468.4V45.3H466.4zM474.5 45.3H476.5V47.1H474.5zM470.5 47.1H472.5V48.9H470.5zM482.6 47.1H484.6V48.9H482.6zM474.5 48.9H476.5V50.7H474.5zM480.5 48.9H482.6V50.7H480.5zM466.4 50.7H468.4V52.5H466.4zM492.5 52.5H494.4V54.5H492.5zM502.2 52.5H506.1V54.5H502.2zM496.4 54.5H498.3V56.6H496.4zM492.5 56.6H494.4V58.6H492.5zM504.2 56.6H506.1V58.6H504.2zM486.6 58.6H488.6V60.6H486.6zM490.5 58.6H492.5V60.6H490.5zM488.6 62.7H490.5V64.7H488.6zM486.6 68.8H488.6V70.8H486.6zM486.6 70.8H488.6V72.9H486.6zM490.5 70.8H492.5V72.9H490.5zM521.8 74.9H523.8V76.9H521.8zM525.8 74.9H527.7V76.9H525.8zM516.0 76.9H517.9V78.8H516.0zM516.0 78.8H517.9V80.8H516.0zM525.8 80.8H529.7V82.8H525.8zM510.1 82.8H514.0V84.8H510.1zM523.8 86.7H525.8V88.7H523.8zM508.1 88.7H510.1V90.7H508.1zM519.9 90.7H521.8V92.7H519.9zM508.1 92.7H510.1V94.6H508.1zM514.0 92.7H516.0V94.6H514.0zM514.0 94.6H516.0V96.6H514.0zM533.9 98.8H536.0V100.9H533.9zM531.8 100.9H533.9V103.1H531.8zM536.0 100.9H538.1V103.1H536.0zM533.9 103.1H536.0V105.3H533.9zM548.6 107.4H550.7V109.6H548.6zM546.5 111.8H548.6V114.0H546.5zM544.4 114.0H546.5V116.1H544.4zM540.2 116.1H542.3V118.3H540.2z"/>
<path fill="#ff7e00" d="M478.5 34.4H480.5V36.2H478.5zM484.6 39.8H486.6V41.6H484.6zM466.4 45.3H468.4V47.1H466.4zM472.5 50.7H474.5V52.5H472.5zM500.3 58.6H502.2V60.6H500.3zM492.5 66.8H494.4V68.8H492.5zM523.8 80.8H525.8V82.8H523.8zM514.0 90.7H516.0V92.7H514.0z"/>
<path fill="#00ccff" d="M496.4 34.4H498.3V36.2H496.4zM508.1 34.4H517.9V36.2H508.1zM521.8 34.4H523.8V36.2H521.8zM527.7 34.4H529.7V36.2H527.7zM498.3 36.2H500.3V38.0H498.3zM506.1 36.2H508.1V38.0H506.1zM542.3 36.2H544.4V38.0H542.3zM498.3 38.0H500.3V39.8H498.3zM506.1 38.0H508.1V39.8H506.1zM542.3 38.0H544.4V39.8H542.3zM486.6 39.8H488.6V41.6H486.6zM508.1 39.8H512.0V41.6H508.1zM521.8 39.8H523.8V41.6H521.8zM533.9 41.6H536.0V43.5H533.9zM510.1 43.5H512.0V45.3H510.1zM514.0 43.5H516.0V45.3H514.0zM525.8 45.3H527.7V47.1H525.8zM531.8 45.3H533.9V47.1H531.8zM500.3 47.1H502.2V48.9H500.3zM506.1 47.1H508.1V48.9H506.1zM508.1 48.9H512.0V50.7H508.1zM527.7 48.9H529.7V50.7H527.7zM512.0 50.7H514.0V52.5H512.0zM516.0 50.7H517.9V52.5H516.0zM472.5 52.5H474.5V54.5H472.5zM529.7 52.5H531.8V54.5H529.7zM544.4 52.5H546.5V54.5H544.4zM514.0 54.5H516.0V56.6H514.0zM531.8 56.6H533.9V58.6H531.8zM527.7 58.6H529.7V60.6H527.7zM533.9 60.6H536.0V62.7H533.9zM466.4 62.7H468.4V64.7H466.4zM544.4 62.7H546.5V64.7H544.4zM468.4 64.7H472.5V66.8H468.4zM508.1 64.7H510.1V66.8H508.1zM512.0 64.7H514.0V66.8H512.0zM519.9 64.7H521.8V66.8H519.9zM480.5 66.8H482.6V68.8H480.5zM508.1 66.8H510.1V68.8H508.1zM514.0 66.8H516.0V68.8H514.0zM536.0 66.8H538.1V68.8H536.0zM510.1 70.8H512.0V72.9H510.1zM468.4 72.9H472.5V74.9H468.4zM480.5 72.9H482.6V74.9H480.5zM536.0 72.9H538.1V74.9H536.0zM466.4 74.9H468.4V76.9H466.4zM472.5 74.9H474.5V76.9H472.5zM482.6 74.9H484.6V76.9H482.6zM498.3 74.9H502.2V76.9H498.3zM466.4 76.9H468.4V78.8H466.4zM472.5 76.9H474.5V78.8H472.5zM476.5 76.9H478.5V78.8H476.5zM482.6 76.9H484.6V78.8H482.6zM504.2 76.9H506.1V78.8H504.2zM533.9 76.9H536.0V78.8H533.9zM544.4 76.9H546.5V78.8H544.4zM466.4 78.8H468.4V80.8H466.4zM484.6 78.8H486.6V80.8H484.6zM498.3 78.8H500.3V80.8H498.3zM466.4 80.8H468.4V82.8H466.4zM476.5 80.8H478.5V82.8H476.5zM488.6 80.8H490.5V82.8H488.6zM500.3 80.8H502.2V82.8H500.3zM466.4 82.8H468.4V84.8H466.4zM484.6 82.8H486.6V84.8H484.6zM533.9 82.8H536.0V84.8H533.9zM498.3 86.7H500.3V88.7H498.3zM533.9 86.7H536.0V88.7H533.9zM466.4 88.7H468.4V90.7H466.4zM472.5 88.7H474.5V90.7H472.5zM531.8 88.7H533.9V90.7H531.8zM478.5 92.7H480.5V94.6H478.5zM466.4 94.6H468.4V96.6H466.4zM482.6 94.6H484.6V96.6H482.6zM492.5 94.6H494.4V96.6H492.5zM533.9 94.6H536.0V96.6H533.9zM486.6 96.6H488.6V98.8H486.6zM478.5 98.8H480.5V100.9H478.5zM490.5 98.8H492.5V100.9H490.5zM521.8 98.8H523.8V100.9H521.8zM474.5 100.9H476.5V103.1H474.5zM494.4 100.9H496.4V103.1H494.4zM510.1 100.9H512.0V103.1H510.1zM516.0 100.9H517.9V103.1H516.0zM519.9 100.9H521.8V103.1H519.9zM527.7 100.9H529.7V103.1H527.7zM500.3 103.1H502.2V105.3H500.3zM506.1 103.1H508.1V105.3H506.1zM468.4 109.6H472.5V111.8H468.4zM486.6 111.8H488.6V114.0H486.6zM496.4 111.8H498.3V114.0H496.4zM510.1 111.8H512.0V114.0H510.1z"/>
<path fill="#53ffa4" d="M502.2 34.4H504.2V36.2H502.2zM546.5 34.4H548.6V36.2H546.5zM538.1 39.8H540.2V41.6H538.1zM502.2 43.5H506.1V45.3H502.2zM529.7 43.5H531.8V45.3H529.7zM548.6 43.5H550.7V45.3H548.6zM546.5 50.7H548.6V52.5H546.5zM466.4 68.8H468.4V70.8H466.4zM476.5 68.8H478.5V70.8H476.5zM529.7 68.8H531.8V70.8H529.7zM540.2 68.8H542.3V70.8H540.2zM476.5 70.8H478.5V72.9H476.5zM523.8 70.8H525.8V72.9H523.8zM538.1 70.8H540.2V72.9H538.1zM504.2 90.7H506.1V92.7H504.2zM546.5 90.7H550.7V92.7H546.5zM476.5 96.6H478.5V98.8H476.5zM502.2 96.6H504.2V98.8H502.2zM472.5 105.3H474.5V107.4H472.5zM504.2 105.3H506.1V107.4H504.2zM502.2 107.4H504.2V109.6H502.2zM466.4 114.0H468.4V116.1H466.4zM484.6 114.0H486.6V116.1H484.6zM523.8 114.0H525.8V116.1H523.8zM476.5 116.1H478.5V118.3H476.5zM523.8 116.1H525.8V118.3H523.8z"/>
<path fill="#0064ff" d="M517.9 34.4H519.9V36.2H517.9zM514.0 38.0H516.0V39.8H514.0zM517.9 45.3H519.9V47.1H517.9zM517.9 56.6H519.9V58.6H517.9zM514.0 62.7H516.0V64.7H514.0zM470.5 80.8H472.5V82.8H470.5zM496.4 80.8H498.3V82.8H496.4zM466.4 84.8H468.4V86.7H466.4zM478.5 84.8H480.5V86.7H478.5zM490.5 84.8H492.5V86.7H490.5zM536.0 84.8H538.1V86.7H536.0zM517.9 103.1H519.9V105.3H517.9z"/>
<path fill="#49ffad" d="M529.7 34.4H531.8V36.2H529.7zM488.6 39.8H490.5V41.6H488.6zM540.2 39.8H542.3V41.6H540.2zM546.5 39.8H550.7V41.6H546.5zM488.6 43.5H490.5V45.3H488.6zM492.5 43.5H494.4V45.3H492.5zM523.8 43.5H525.8V45.3H523.8zM540.2 43.5H542.3V45.3H540.2zM544.4 43.5H546.5V45.3H544.4zM538.1 48.9H540.2V50.7H538.1zM492.5 50.7H494.4V52.5H492.5zM504.2 50.7H506.1V52.5H504.2zM540.2 50.7H542.3V52.5H540.2zM472.5 54.5H474.5V56.6H472.5zM476.5 54.5H478.5V56.6H476.5zM523.8 54.5H525.8V56.6H523.8zM546.5 54.5H548.6V56.6H546.5zM476.5 58.6H478.5V60.6H476.5zM484.6 58.6H486.6V60.6H484.6zM523.8 68.8H525.8V70.8H523.8zM546.5 68.8H548.6V70.8H546.5zM484.6 70.8H486.6V72.9H484.6zM540.2 70.8H542.3V72.9H540.2zM546.5 70.8H550.7V72.9H546.5zM476.5 90.7H478.5V92.7H476.5zM488.6 90.7H490.5V92.7H488.6zM502.2 90.7H504.2V92.7H502.2zM529.7 90.7H531.8V92.7H529.7zM540.2 90.7H542.3V92.7H540.2zM466.4 96.6H468.4V98.8H466.4zM523.8 96.6H525.8V98.8H523.8zM482.6 105.3H484.6V107.4H482.6zM472.5 107.4H474.5V109.6H472.5zM476.5 107.4H478.5V109.6H476.5zM484.6 107.4H486.6V109.6H484.6zM504.2 107.4H506.1V109.6H504.2zM523.8 107.4H525.8V109.6H523.8zM476.5 111.8H478.5V114.0H476.5zM472.5 114.0H474.5V116.1H472.5zM488.6 114.0H490.5V116.1H488.6zM502.2 114.0H506.1V116.1H502.2zM472.5 116.1H474.5V118.3H472.5zM504.2 116.1H506.1V118.3H504.2z"/>
<path fill="#5dff9a" d="M538.1 34.4H540.2V36.2H538.1zM538.1 43.5H540.2V45.3H538.1zM546.5 43.5H548.6V45.3H546.5zM548.6 50.7H550.7V52.5H548.6zM538.1 54.5H540.2V56.6H538.1zM538.1 58.6H540.2V60.6H538.1zM538.1 90.7H540.2V92.7H538.1zM466.4 105.3H468.4V107.4H466.4zM476.5 105.3H478.5V107.4H476.5zM488.6 105.3H490.5V107.4H488.6zM492.5 105.3H494.4V107.4H492.5zM523.8 105.3H525.8V107.4H523.8zM476.5 114.0H478.5V116.1H476.5zM484.6 116.1H486.6V118.3H484.6z"/>
<path fill="#eeff09" d="M478.5 36.2H480.5V38.0H478.5zM480.5 41.6H482.6V43.5H480.5zM468.4 45.3H470.5V47.1H468.4zM480.5 45.3H482.6V47.1H480.5zM474.5 47.1H476.5V48.9H474.5zM478.5 47.1H480.5V48.9H478.5zM494.4 52.5H496.4V54.5H494.4zM486.6 60.6H488.6V62.7H486.6zM500.3 60.6H502.2V62.7H500.3zM494.4 66.8H496.4V68.8H494.4zM521.8 82.8H523.8V84.8H521.8zM516.0 88.7H517.9V90.7H516.0zM540.2 98.8H542.3V100.9H540.2zM542.3 103.1H544.4V105.3H542.3zM531.8 107.4H533.9V109.6H531.8zM536.0 109.6H538.1V111.8H536.0z"/>
<path fill="#008cff" d="M508.1 36.2H510.1V38.0H508.1zM512.0 36.2H514.0V38.0H512.0zM516.0 36.2H517.9V38.0H516.0zM527.7 36.2H529.7V38.0H527.7zM486.6 38.0H488.6V39.8H486.6zM508.1 38.0H510.1V39.8H508.1zM512.0 38.0H514.0V39.8H512.0zM519.9 38.0H521.8V39.8H519.9zM527.7 38.0H529.7V39.8H527.7zM517.9 39.8H519.9V41.6H517.9zM486.6 41.6H488.6V43.5H486.6zM508.1 41.6H510.1V43.5H508.1zM512.0 41.6H514.0V43.5H512.0zM516.0 41.6H517.9V43.5H516.0zM512.0 45.3H516.0V47.1H512.0zM496.4 47.1H498.3V48.9H496.4zM508.1 47.1H510.1V48.9H508.1zM512.0 47.1H514.0V48.9H512.0zM521.8 47.1H523.8V48.9H521.8zM470.5 52.5H472.5V54.5H470.5zM474.5 52.5H476.5V54.5H474.5zM514.0 52.5H516.0V54.5H514.0zM521.8 52.5H523.8V54.5H521.8zM536.0 52.5H538.1V54.5H536.0zM480.5 62.7H482.6V64.7H480.5zM512.0 62.7H514.0V64.7H512.0zM521.8 62.7H523.8V64.7H521.8zM542.3 62.7H544.4V64.7H542.3zM517.9 66.8H519.9V68.8H517.9zM517.9 72.9H519.9V74.9H517.9zM468.4 74.9H472.5V76.9H468.4zM474.5 74.9H476.5V76.9H474.5zM480.5 74.9H482.6V76.9H480.5zM468.4 78.8H472.5V80.8H468.4zM474.5 78.8H476.5V80.8H474.5zM478.5 78.8H482.6V80.8H478.5zM496.4 78.8H498.3V80.8H496.4zM478.5 80.8H480.5V82.8H478.5zM486.6 80.8H488.6V82.8H486.6zM468.4 82.8H470.5V84.8H468.4zM474.5 82.8H476.5V84.8H474.5zM472.5 84.8H474.5V86.7H472.5zM500.3 84.8H502.2V86.7H500.3zM506.1 84.8H508.1V86.7H506.1zM470.5 86.7H472.5V88.7H470.5zM480.5 88.7H482.6V90.7H480.5zM486.6 88.7H488.6V90.7H486.6zM496.4 88.7H498.3V90.7H496.4zM468.4 94.6H472.5V96.6H468.4zM486.6 103.1H488.6V105.3H486.6zM496.4 109.6H498.3V111.8H496.4z"/>
<path fill="#0080ff" d="M510.1 36.2H512.0V38.0H510.1zM514.0 36.2H516.0V38.0H514.0zM521.8 36.2H523.8V38.0H521.8zM516.0 38.0H517.9V39.8H516.0zM521.8 38.0H523.8V39.8H521.8zM496.4 41.6H498.3V43.5H496.4zM510.1 41.6H512.0V43.5H510.1zM521.8 41.6H523.8V43.5H521.8zM486.6 47.1H488.6V48.9H486.6zM510.1 47.1H512.0V48.9H510.1zM527.7 47.1H529.7V48.9H527.7zM517.9 48.9H519.9V50.7H517.9zM480.5 52.5H482.6V54.5H480.5zM508.1 52.5H514.0V54.5H508.1zM516.0 52.5H517.9V54.5H516.0zM519.9 52.5H521.8V54.5H519.9zM527.7 52.5H529.7V54.5H527.7zM474.5 62.7H476.5V64.7H474.5zM510.1 62.7H512.0V64.7H510.1zM527.7 62.7H529.7V64.7H527.7zM536.0 62.7H538.1V64.7H536.0zM486.6 74.9H488.6V76.9H486.6zM468.4 76.9H470.5V78.8H468.4zM474.5 76.9H476.5V78.8H474.5zM480.5 76.9H482.6V78.8H480.5zM486.6 76.9H488.6V78.8H486.6zM496.4 76.9H498.3V78.8H496.4zM486.6 78.8H488.6V80.8H486.6zM468.4 80.8H470.5V82.8H468.4zM470.5 82.8H472.5V84.8H470.5zM486.6 82.8H488.6V84.8H486.6zM482.6 84.8H484.6V86.7H482.6zM531.8 84.8H536.0V86.7H531.8zM542.3 84.8H546.5V86.7H542.3zM486.6 86.7H488.6V88.7H486.6zM468.4 88.7H472.5V90.7H468.4zM474.5 88.7H476.5V90.7H474.5zM480.5 94.6H482.6V96.6H480.5zM486.6 94.6H488.6V96.6H486.6zM496.4 94.6H498.3V96.6H496.4zM517.9 98.8H519.9V100.9H517.9zM517.9 100.9H519.9V103.1H517.9zM496.4 103.1H498.3V105.3H496.4zM517.9 109.6H519.9V111.8H517.9zM517.9 111.8H519.9V114.0H517.9z"/>
<path fill="#0040ff" d="M517.9 36.2H519.9V38.0H517.9zM517.9 52.5H519.9V54.5H517.9zM517.9 62.7H519.9V64.7H517.9zM468.4 84.8H470.5V86.7H468.4zM486.6 84.8H488.6V86.7H486.6zM496.4 84.8H498.3V86.7H496.4z"/>
<path fill="#ffea00" d="M474.5 38.0H476.5V39.8H474.5zM478.5 38.0H480.5V39.8H478.5zM470.5 41.6H472.5V43.5H470.5zM470.5 45.3H472.5V47.1H470.5zM496.4 56.6H498.3V58.6H496.4zM500.3 56.6H502.2V58.6H500.3zM490.5 62.7H492.5V64.7H490.5zM506.1 62.7H508.1V64.7H506.1zM490.5 66.8H492.5V68.8H490.5zM496.4 72.9H498.3V74.9H496.4zM512.0 74.9H514.0V76.9H512.0zM519.9 74.9H521.8V76.9H519.9zM514.0 76.9H516.0V78.8H514.0zM527.7 76.9H529.7V78.8H527.7zM508.1 78.8H510.1V80.8H508.1zM514.0 78.8H516.0V80.8H514.0zM517.9 78.8H519.9V80.8H517.9zM527.7 78.8H529.7V80.8H527.7zM510.1 80.8H514.0V82.8H510.1zM516.0 80.8H517.9V82.8H516.0zM521.8 80.8H523.8V82.8H521.8zM514.0 82.8H516.0V84.8H514.0zM519.9 82.8H521.8V84.8H519.9zM512.0 84.8H514.0V86.7H512.0zM508.1 86.7H510.1V88.7H508.1zM516.0 86.7H517.9V88.7H516.0zM514.0 88.7H516.0V90.7H514.0zM527.7 88.7H529.7V90.7H527.7zM510.1 94.6H514.0V96.6H510.1zM521.8 94.6H523.8V96.6H521.8zM538.1 98.8H540.2V100.9H538.1zM542.3 100.9H544.4V103.1H542.3zM538.1 103.1H542.3V105.3H538.1zM544.4 103.1H546.5V105.3H544.4zM531.8 105.3H533.9V107.4H531.8zM536.0 105.3H538.1V107.4H536.0zM536.0 107.4H538.1V109.6H536.0zM542.3 107.4H544.4V109.6H542.3zM533.9 109.6H536.0V111.8H533.9zM540.2 109.6H542.3V111.8H540.2zM536.0 111.8H538.1V114.0H536.0z"/>
<path fill="#0030ff" d="M517.9 38.0H519.9V39.8H517.9zM517.9 41.6H519.9V43.5H517.9zM470.5 84.8H472.5V86.7H470.5zM474.5 84.8H476.5V86.7H474.5z"/>
<path fill="#f8f500" d="M484.6 41.6H486.6V43.5H484.6zM474.5 50.7H476.5V52.5H474.5zM490.5 52.5H492.5V54.5H490.5zM486.6 56.6H488.6V58.6H486.6zM494.4 56.6H496.4V58.6H494.4zM490.5 60.6H492.5V62.7H490.5zM516.0 74.9H517.9V76.9H516.0zM517.9 80.8H519.9V82.8H517.9zM508.1 82.8H510.1V84.8H508.1zM514.0 84.8H516.0V86.7H514.0zM525.8 84.8H529.7V86.7H525.8zM517.9 92.7H519.9V94.6H517.9zM517.9 94.6H519.9V96.6H517.9zM546.5 98.8H548.6V100.9H546.5zM531.8 114.0H533.9V116.1H531.8z"/>
<path fill="#0058ff" d="M514.0 47.1H516.0V48.9H514.0zM480.5 80.8H482.6V82.8H480.5z"/>
<path fill="#004cff" d="M517.9 47.1H519.9V48.9H517.9zM480.5 84.8H482.6V86.7H480.5z"/>
<path fill="#66ff90" d="M538.1 50.7H540.2V52.5H538.1zM538.1 68.8H540.2V70.8H538.1zM484.6 105.3H486.6V107.4H484.6zM502.2 105.3H504.2V107.4H502.2z"/>
<path fill="#e4ff13" d="M488.6 52.5H490.5V54.5H488.6zM486.6 54.5H488.6V56.6H486.6zM512.0 76.9H514.0V78.8H512.0zM510.1 78.8H512.0V80.8H510.1zM517.9 82.8H519.9V84.8H517.9zM516.0 84.8H517.9V86.7H516.0zM542.3 96.6H544.4V98.8H542.3zM536.0 98.8H538.1V100.9H536.0zM542.3 98.8H544.4V100.9H542.3zM531.8 103.1H533.9V105.3H531.8zM529.7 109.6H533.9V111.8H529.7z"/>
<path fill="#c4ff33" d="M517.9 76.9H519.9V78.8H517.9zM510.1 84.8H512.0V86.7H510.1z"/>
<path fill="#ceff29" d="M519.9 84.8H521.8V86.7H519.9zM517.9 86.7H519.9V88.7H517.9zM544.4 109.6H546.5V111.8H544.4zM542.3 111.8H544.4V114.0H542.3z"/>
</g>
<path d="M464.4 32.6L486.6 52.5L508.1 74.9L529.7 96.6L550.7 118.3" fill="none" stroke="#800000" stroke-width="1.15" opacity="0.85"/>
<text x="507.60" y="25.90" font-size="12.25" text-anchor="middle" textLength="42.54" lengthAdjust="spacingAndGlyphs" fill="#000">g = 3.2</text>
<g shape-rendering="crispEdges">
<path fill="#9b0000" d="M566.9 32.6H589.1V34.4H566.9zM566.9 34.4H589.1V36.2H566.9zM566.9 36.2H589.1V38.0H566.9zM566.9 38.0H589.1V39.8H566.9zM566.9 39.8H589.1V41.6H566.9zM566.9 41.6H589.1V43.5H566.9zM566.9 43.5H589.1V45.3H566.9zM566.9 45.3H589.1V47.1H566.9zM566.9 47.1H589.1V48.9H566.9zM566.9 48.9H589.1V50.7H566.9zM566.9 50.7H589.1V52.5H566.9zM589.1 52.5H610.6V54.5H589.1zM589.1 54.5H610.6V56.6H589.1zM589.1 56.6H610.6V58.6H589.1zM589.1 58.6H610.6V60.6H589.1zM589.1 60.6H610.6V62.7H589.1zM589.1 62.7H610.6V64.7H589.1zM589.1 64.7H610.6V66.8H589.1zM589.1 66.8H610.6V68.8H589.1zM589.1 68.8H610.6V70.8H589.1zM589.1 70.8H610.6V72.9H589.1zM589.1 72.9H610.6V74.9H589.1zM610.6 74.9H632.2V76.9H610.6zM610.6 76.9H632.2V78.8H610.6zM610.6 78.8H632.2V80.8H610.6zM610.6 80.8H632.2V82.8H610.6zM610.6 82.8H632.2V84.8H610.6zM610.6 84.8H632.2V86.7H610.6zM610.6 86.7H632.2V88.7H610.6zM610.6 88.7H632.2V90.7H610.6zM610.6 90.7H632.2V92.7H610.6zM610.6 92.7H632.2V94.6H610.6zM610.6 94.6H632.2V96.6H610.6zM632.2 96.6H653.2V98.8H632.2zM632.2 98.8H653.2V100.9H632.2zM632.2 100.9H653.2V103.1H632.2zM632.2 103.1H653.2V105.3H632.2zM632.2 105.3H653.2V107.4H632.2zM632.2 107.4H653.2V109.6H632.2zM632.2 109.6H653.2V111.8H632.2zM632.2 111.8H653.2V114.0H632.2zM632.2 114.0H653.2V116.1H632.2zM632.2 116.1H653.2V118.3H632.2z"/>
<path fill="#ff7300" d="M589.1 32.6H593.0V34.4H589.1zM595.0 32.6H596.9V34.4H595.0zM598.9 32.6H600.8V34.4H598.9zM604.7 32.6H606.7V34.4H604.7zM622.4 32.6H624.3V34.4H622.4zM589.1 34.4H591.1V36.2H589.1zM593.0 34.4H595.0V36.2H593.0zM600.8 34.4H602.8V36.2H600.8zM608.6 34.4H610.6V36.2H608.6zM622.4 34.4H624.3V36.2H622.4zM628.3 34.4H632.2V36.2H628.3zM634.3 34.4H636.4V36.2H634.3zM638.5 34.4H640.6V36.2H638.5zM591.1 36.2H593.0V38.0H591.1zM595.0 36.2H598.9V38.0H595.0zM604.7 36.2H606.7V38.0H604.7zM614.5 36.2H616.5V38.0H614.5zM620.4 36.2H624.3V38.0H620.4zM630.2 36.2H632.2V38.0H630.2zM591.1 39.8H595.0V41.6H591.1zM598.9 39.8H600.8V41.6H598.9zM606.7 39.8H608.6V41.6H606.7zM628.3 39.8H630.2V41.6H628.3zM632.2 39.8H634.3V41.6H632.2zM649.0 39.8H651.1V41.6H649.0zM612.6 41.6H614.5V43.5H612.6zM618.5 41.6H620.4V43.5H618.5zM651.1 41.6H653.2V43.5H651.1zM600.8 43.5H604.7V45.3H600.8zM589.1 45.3H596.9V47.1H589.1zM600.8 45.3H602.8V47.1H600.8zM606.7 45.3H608.6V47.1H606.7zM589.1 47.1H591.1V48.9H589.1zM593.0 47.1H595.0V48.9H593.0zM600.8 47.1H602.8V48.9H600.8zM606.7 47.1H608.6V48.9H606.7zM622.4 47.1H624.3V48.9H622.4zM628.3 47.1H630.2V48.9H628.3zM634.3 47.1H636.4V48.9H634.3zM644.8 47.1H646.9V48.9H644.8zM598.9 48.9H600.8V50.7H598.9zM604.7 48.9H606.7V50.7H604.7zM616.5 48.9H618.5V50.7H616.5zM622.4 48.9H624.3V50.7H622.4zM626.3 48.9H628.3V50.7H626.3zM632.2 48.9H634.3V50.7H632.2zM640.6 48.9H642.7V50.7H640.6zM646.9 48.9H651.1V50.7H646.9zM598.9 50.7H600.8V52.5H598.9zM608.6 50.7H610.6V52.5H608.6zM612.6 50.7H618.5V52.5H612.6zM624.3 50.7H626.3V52.5H624.3zM636.4 50.7H638.5V52.5H636.4zM566.9 52.5H570.9V54.5H566.9zM581.0 52.5H585.1V54.5H581.0zM620.4 52.5H624.3V54.5H620.4zM628.3 52.5H634.3V54.5H628.3zM638.5 52.5H640.6V54.5H638.5zM566.9 54.5H568.9V56.6H566.9zM570.9 54.5H573.0V56.6H570.9zM575.0 54.5H577.0V56.6H575.0zM581.0 54.5H583.0V56.6H581.0zM622.4 54.5H624.3V56.6H622.4zM630.2 54.5H634.3V56.6H630.2zM649.0 54.5H651.1V56.6H649.0zM568.9 56.6H570.9V58.6H568.9zM575.0 56.6H577.0V58.6H575.0zM581.0 56.6H585.1V58.6H581.0zM614.5 56.6H616.5V58.6H614.5zM622.4 56.6H624.3V58.6H622.4zM628.3 56.6H630.2V58.6H628.3zM566.9 58.6H568.9V60.6H566.9zM570.9 58.6H573.0V60.6H570.9zM581.0 58.6H583.0V60.6H581.0zM628.3 58.6H630.2V60.6H628.3zM634.3 58.6H636.4V60.6H634.3zM638.5 58.6H640.6V60.6H638.5zM649.0 58.6H651.1V60.6H649.0zM570.9 60.6H573.0V62.7H570.9zM628.3 60.6H632.2V62.7H628.3zM566.9 62.7H568.9V64.7H566.9zM575.0 62.7H577.0V64.7H575.0zM585.1 62.7H589.1V64.7H585.1zM626.3 62.7H630.2V64.7H626.3zM632.2 62.7H636.4V64.7H632.2zM638.5 62.7H640.6V64.7H638.5zM649.0 62.7H651.1V64.7H649.0zM568.9 64.7H570.9V66.8H568.9zM579.0 64.7H585.1V66.8H579.0zM614.5 64.7H616.5V66.8H614.5zM624.3 64.7H626.3V66.8H624.3zM642.7 64.7H644.8V66.8H642.7zM651.1 64.7H653.2V66.8H651.1zM579.0 66.8H581.0V68.8H579.0zM610.6 66.8H612.6V68.8H610.6zM618.5 66.8H620.4V68.8H618.5zM636.4 66.8H638.5V68.8H636.4zM640.6 66.8H642.7V68.8H640.6zM566.9 68.8H568.9V70.8H566.9zM570.9 68.8H573.0V70.8H570.9zM585.1 68.8H587.1V70.8H585.1zM620.4 68.8H622.4V70.8H620.4zM630.2 68.8H634.3V70.8H630.2zM638.5 68.8H640.6V70.8H638.5zM649.0 68.8H651.1V70.8H649.0zM575.0 70.8H577.0V72.9H575.0zM581.0 70.8H585.1V72.9H581.0zM622.4 70.8H624.3V72.9H622.4zM626.3 70.8H628.3V72.9H626.3zM632.2 70.8H634.3V72.9H632.2zM636.4 70.8H638.5V72.9H636.4zM568.9 72.9H570.9V74.9H568.9zM587.1 72.9H589.1V74.9H587.1zM626.3 72.9H628.3V74.9H626.3zM634.3 72.9H636.4V74.9H634.3zM638.5 72.9H640.6V74.9H638.5zM602.8 74.9H604.7V76.9H602.8zM644.8 74.9H646.9V76.9H644.8zM577.0 76.9H579.0V78.8H577.0zM587.1 76.9H589.1V78.8H587.1zM570.9 78.8H573.0V80.8H570.9zM587.1 78.8H589.1V80.8H587.1zM593.0 78.8H595.0V80.8H593.0zM600.8 78.8H602.8V80.8H600.8zM585.1 80.8H589.1V82.8H585.1zM634.3 80.8H636.4V82.8H634.3zM638.5 80.8H640.6V82.8H638.5zM644.8 80.8H646.9V82.8H644.8zM577.0 82.8H579.0V84.8H577.0zM602.8 82.8H604.7V84.8H602.8zM644.8 82.8H646.9V84.8H644.8zM570.9 84.8H573.0V86.7H570.9zM589.1 84.8H591.1V86.7H589.1zM604.7 84.8H606.7V86.7H604.7zM644.8 84.8H646.9V86.7H644.8zM566.9 86.7H573.0V88.7H566.9zM583.0 86.7H587.1V88.7H583.0zM589.1 86.7H595.0V88.7H589.1zM606.7 86.7H608.6V88.7H606.7zM634.3 86.7H636.4V88.7H634.3zM644.8 86.7H646.9V88.7H644.8zM649.0 86.7H651.1V88.7H649.0zM587.1 88.7H589.1V90.7H587.1zM600.8 88.7H602.8V90.7H600.8zM585.1 90.7H587.1V92.7H585.1zM598.9 90.7H600.8V92.7H598.9zM606.7 90.7H610.6V92.7H606.7zM634.3 90.7H636.4V92.7H634.3zM568.9 92.7H570.9V94.6H568.9zM575.0 92.7H577.0V94.6H575.0zM583.0 92.7H585.1V94.6H583.0zM589.1 92.7H591.1V94.6H589.1zM593.0 92.7H600.8V94.6H593.0zM636.4 92.7H638.5V94.6H636.4zM568.9 94.6H573.0V96.6H568.9zM589.1 94.6H593.0V96.6H589.1zM596.9 94.6H598.9V96.6H596.9zM604.7 94.6H606.7V96.6H604.7zM651.1 94.6H653.2V96.6H651.1zM575.0 96.6H577.0V98.8H575.0zM585.1 96.6H587.1V98.8H585.1zM589.1 96.6H593.0V98.8H589.1zM598.9 96.6H600.8V98.8H598.9zM604.7 96.6H608.6V98.8H604.7zM568.9 98.8H570.9V100.9H568.9zM583.0 98.8H585.1V100.9H583.0zM595.0 98.8H596.9V100.9H595.0zM598.9 98.8H600.8V100.9H598.9zM608.6 98.8H610.6V100.9H608.6zM616.5 98.8H618.5V100.9H616.5zM622.4 98.8H624.3V100.9H622.4zM626.3 98.8H628.3V100.9H626.3zM587.1 100.9H589.1V103.1H587.1zM602.8 100.9H604.7V103.1H602.8zM606.7 100.9H608.6V103.1H606.7zM628.3 100.9H630.2V103.1H628.3zM568.9 103.1H570.9V105.3H568.9zM589.1 103.1H591.1V105.3H589.1zM595.0 103.1H596.9V105.3H595.0zM598.9 103.1H600.8V105.3H598.9zM604.7 103.1H606.7V105.3H604.7zM608.6 103.1H610.6V105.3H608.6zM616.5 103.1H618.5V105.3H616.5zM585.1 105.3H587.1V107.4H585.1zM602.8 105.3H604.7V107.4H602.8zM600.8 107.4H602.8V109.6H600.8zM583.0 109.6H585.1V111.8H583.0zM610.6 109.6H612.6V111.8H610.6zM616.5 109.6H624.3V111.8H616.5zM585.1 111.8H587.1V114.0H585.1zM575.0 114.0H577.0V116.1H575.0zM585.1 114.0H587.1V116.1H585.1zM591.1 114.0H593.0V116.1H591.1zM595.0 114.0H596.9V116.1H595.0zM598.9 114.0H600.8V116.1H598.9zM604.7 114.0H606.7V116.1H604.7zM622.4 114.0H624.3V116.1H622.4zM577.0 116.1H579.0V118.3H577.0zM600.8 116.1H602.8V118.3H600.8zM630.2 116.1H632.2V118.3H630.2z"/>
<path fill="#ff8900" d="M593.0 32.6H595.0V34.4H593.0zM600.8 32.6H602.8V34.4H600.8zM606.7 32.6H608.6V34.4H606.7zM644.8 34.4H646.9V36.2H644.8zM600.8 36.2H602.8V38.0H600.8zM644.8 36.2H646.9V38.0H644.8zM591.1 38.0H593.0V39.8H591.1zM596.9 38.0H600.8V39.8H596.9zM608.6 38.0H610.6V39.8H608.6zM612.6 38.0H614.5V39.8H612.6zM616.5 38.0H624.3V39.8H616.5zM632.2 38.0H634.3V39.8H632.2zM646.9 38.0H651.1V39.8H646.9zM644.8 39.8H646.9V41.6H644.8zM604.7 41.6H606.7V43.5H604.7zM614.5 41.6H616.5V43.5H614.5zM620.4 41.6H622.4V43.5H620.4zM636.4 41.6H638.5V43.5H636.4zM642.7 41.6H644.8V43.5H642.7zM646.9 41.6H649.0V43.5H646.9zM602.8 45.3H604.7V47.1H602.8zM620.4 48.9H622.4V50.7H620.4zM624.3 48.9H626.3V50.7H624.3zM630.2 48.9H632.2V50.7H630.2zM634.3 48.9H636.4V50.7H634.3zM638.5 48.9H640.6V50.7H638.5zM589.1 50.7H593.0V52.5H589.1zM600.8 50.7H602.8V52.5H600.8zM604.7 50.7H606.7V52.5H604.7zM618.5 50.7H620.4V52.5H618.5zM626.3 50.7H628.3V52.5H626.3zM587.1 52.5H589.1V54.5H587.1zM634.3 52.5H636.4V54.5H634.3zM573.0 54.5H575.0V56.6H573.0zM587.1 54.5H589.1V56.6H587.1zM566.9 56.6H568.9V58.6H566.9zM630.2 56.6H632.2V58.6H630.2zM634.3 56.6H636.4V58.6H634.3zM638.5 56.6H640.6V58.6H638.5zM644.8 56.6H646.9V58.6H644.8zM644.8 58.6H646.9V60.6H644.8zM573.0 60.6H575.0V62.7H573.0zM573.0 62.7H575.0V64.7H573.0zM566.9 64.7H568.9V66.8H566.9zM570.9 64.7H573.0V66.8H570.9zM587.1 64.7H589.1V66.8H587.1zM622.4 64.7H624.3V66.8H622.4zM628.3 64.7H636.4V66.8H628.3zM581.0 66.8H583.0V68.8H581.0zM616.5 66.8H618.5V68.8H616.5zM622.4 66.8H626.3V68.8H622.4zM632.2 66.8H634.3V68.8H632.2zM649.0 66.8H651.1V68.8H649.0zM577.0 68.8H579.0V70.8H577.0zM587.1 68.8H589.1V70.8H587.1zM644.8 68.8H646.9V70.8H644.8zM566.9 70.8H568.9V72.9H566.9zM634.3 70.8H636.4V72.9H634.3zM638.5 70.8H640.6V72.9H638.5zM644.8 70.8H646.9V72.9H644.8zM573.0 72.9H575.0V74.9H573.0zM573.0 76.9H575.0V78.8H573.0zM577.0 78.8H579.0V80.8H577.0zM638.5 78.8H640.6V80.8H638.5zM644.8 78.8H646.9V80.8H644.8zM573.0 80.8H575.0V82.8H573.0zM602.8 80.8H604.7V82.8H602.8zM573.0 82.8H575.0V84.8H573.0zM587.1 82.8H589.1V84.8H587.1zM573.0 84.8H575.0V86.7H573.0zM577.0 84.8H579.0V86.7H577.0zM585.1 84.8H587.1V86.7H585.1zM573.0 86.7H575.0V88.7H573.0zM600.8 86.7H604.7V88.7H600.8zM585.1 88.7H587.1V90.7H585.1zM602.8 88.7H604.7V90.7H602.8zM587.1 90.7H589.1V92.7H587.1zM600.8 92.7H602.8V94.6H600.8zM634.3 92.7H636.4V94.6H634.3zM644.8 92.7H646.9V94.6H644.8zM585.1 94.6H587.1V96.6H585.1zM593.0 94.6H595.0V96.6H593.0zM600.8 94.6H602.8V96.6H600.8zM644.8 94.6H646.9V96.6H644.8zM573.0 96.6H575.0V98.8H573.0zM600.8 96.6H604.7V98.8H600.8zM585.1 98.8H587.1V100.9H585.1zM589.1 98.8H591.1V100.9H589.1zM593.0 98.8H595.0V100.9H593.0zM600.8 98.8H602.8V100.9H600.8zM606.7 98.8H608.6V100.9H606.7zM628.3 98.8H630.2V100.9H628.3zM577.0 100.9H579.0V103.1H577.0zM585.1 103.1H587.1V105.3H585.1zM593.0 103.1H595.0V105.3H593.0zM606.7 103.1H608.6V105.3H606.7zM614.5 103.1H616.5V105.3H614.5zM577.0 107.4H579.0V109.6H577.0zM568.9 109.6H573.0V111.8H568.9zM575.0 109.6H577.0V111.8H575.0zM593.0 109.6H596.9V111.8H593.0zM604.7 109.6H608.6V111.8H604.7zM614.5 109.6H616.5V111.8H614.5zM628.3 109.6H632.2V111.8H628.3zM573.0 111.8H575.0V114.0H573.0zM577.0 111.8H579.0V114.0H577.0zM573.0 114.0H575.0V116.1H573.0zM602.8 114.0H604.7V116.1H602.8z"/>
<path fill="#ff5900" d="M596.9 32.6H598.9V34.4H596.9zM610.6 32.6H612.6V34.4H610.6zM651.1 32.6H653.2V34.4H651.1zM591.1 34.4H593.0V36.2H591.1zM595.0 34.4H596.9V36.2H595.0zM598.9 34.4H600.8V36.2H598.9zM604.7 34.4H606.7V36.2H604.7zM614.5 34.4H616.5V36.2H614.5zM626.3 34.4H628.3V36.2H626.3zM632.2 34.4H634.3V36.2H632.2zM640.6 34.4H642.7V36.2H640.6zM646.9 34.4H651.1V36.2H646.9zM624.3 36.2H626.3V38.0H624.3zM646.9 36.2H649.0V38.0H646.9zM595.0 39.8H596.9V41.6H595.0zM622.4 39.8H626.3V41.6H622.4zM640.6 39.8H644.8V41.6H640.6zM593.0 43.5H595.0V45.3H593.0zM604.7 43.5H608.6V45.3H604.7zM630.2 43.5H636.4V45.3H630.2zM596.9 45.3H598.9V47.1H596.9zM614.5 45.3H616.5V47.1H614.5zM622.4 45.3H628.3V47.1H622.4zM636.4 45.3H638.5V47.1H636.4zM591.1 47.1H593.0V48.9H591.1zM595.0 47.1H598.9V48.9H595.0zM604.7 47.1H606.7V48.9H604.7zM608.6 47.1H610.6V48.9H608.6zM614.5 47.1H616.5V48.9H614.5zM618.5 47.1H620.4V48.9H618.5zM624.3 47.1H626.3V48.9H624.3zM632.2 47.1H634.3V48.9H632.2zM636.4 47.1H638.5V48.9H636.4zM649.0 47.1H651.1V48.9H649.0zM610.6 48.9H614.5V50.7H610.6zM618.5 48.9H620.4V50.7H618.5zM642.7 48.9H644.8V50.7H642.7zM610.6 50.7H612.6V52.5H610.6zM651.1 50.7H653.2V52.5H651.1zM610.6 52.5H614.5V54.5H610.6zM616.5 52.5H620.4V54.5H616.5zM624.3 52.5H626.3V54.5H624.3zM640.6 52.5H644.8V54.5H640.6zM646.9 52.5H649.0V54.5H646.9zM568.9 54.5H570.9V56.6H568.9zM583.0 54.5H585.1V56.6H583.0zM614.5 54.5H616.5V56.6H614.5zM624.3 54.5H626.3V56.6H624.3zM636.4 54.5H638.5V56.6H636.4zM579.0 56.6H581.0V58.6H579.0zM624.3 56.6H626.3V58.6H624.3zM646.9 56.6H649.0V58.6H646.9zM568.9 58.6H570.9V60.6H568.9zM575.0 58.6H577.0V60.6H575.0zM583.0 58.6H585.1V60.6H583.0zM612.6 58.6H614.5V60.6H612.6zM620.4 58.6H622.4V60.6H620.4zM624.3 58.6H626.3V60.6H624.3zM646.9 58.6H649.0V60.6H646.9zM651.1 58.6H653.2V60.6H651.1zM566.9 60.6H568.9V62.7H566.9zM581.0 60.6H585.1V62.7H581.0zM622.4 60.6H628.3V62.7H622.4zM632.2 60.6H634.3V62.7H632.2zM636.4 60.6H638.5V62.7H636.4zM568.9 62.7H570.9V64.7H568.9zM612.6 62.7H614.5V64.7H612.6zM624.3 62.7H626.3V64.7H624.3zM642.7 62.7H644.8V64.7H642.7zM612.6 64.7H614.5V66.8H612.6zM618.5 64.7H620.4V66.8H618.5zM568.9 68.8H570.9V70.8H568.9zM579.0 68.8H581.0V70.8H579.0zM583.0 68.8H585.1V70.8H583.0zM610.6 68.8H614.5V70.8H610.6zM616.5 68.8H618.5V70.8H616.5zM622.4 68.8H626.3V70.8H622.4zM636.4 68.8H638.5V70.8H636.4zM579.0 70.8H581.0V72.9H579.0zM616.5 70.8H618.5V72.9H616.5zM640.6 70.8H642.7V72.9H640.6zM651.1 70.8H653.2V72.9H651.1zM583.0 72.9H585.1V74.9H583.0zM620.4 72.9H626.3V74.9H620.4zM632.2 72.9H634.3V74.9H632.2zM646.9 72.9H649.0V74.9H646.9zM566.9 74.9H568.9V76.9H566.9zM585.1 74.9H591.1V76.9H585.1zM604.7 74.9H606.7V76.9H604.7zM634.3 74.9H636.4V76.9H634.3zM638.5 74.9H640.6V76.9H638.5zM649.0 74.9H651.1V76.9H649.0zM585.1 76.9H587.1V78.8H585.1zM589.1 76.9H591.1V78.8H589.1zM595.0 76.9H596.9V78.8H595.0zM598.9 76.9H602.8V78.8H598.9zM604.7 76.9H606.7V78.8H604.7zM632.2 76.9H636.4V78.8H632.2zM638.5 76.9H640.6V78.8H638.5zM649.0 76.9H651.1V78.8H649.0zM568.9 78.8H570.9V80.8H568.9zM581.0 78.8H585.1V80.8H581.0zM591.1 78.8H593.0V80.8H591.1zM636.4 78.8H638.5V80.8H636.4zM646.9 78.8H649.0V80.8H646.9zM589.1 80.8H591.1V82.8H589.1zM604.7 80.8H608.6V82.8H604.7zM646.9 80.8H651.1V82.8H646.9zM583.0 82.8H587.1V84.8H583.0zM589.1 82.8H591.1V84.8H589.1zM600.8 82.8H602.8V84.8H600.8zM636.4 82.8H640.6V84.8H636.4zM649.0 82.8H651.1V84.8H649.0zM595.0 84.8H596.9V86.7H595.0zM608.6 84.8H610.6V86.7H608.6zM640.6 84.8H644.8V86.7H640.6zM651.1 84.8H653.2V86.7H651.1zM575.0 86.7H577.0V88.7H575.0zM581.0 86.7H583.0V88.7H581.0zM596.9 86.7H598.9V88.7H596.9zM604.7 86.7H606.7V88.7H604.7zM608.6 86.7H610.6V88.7H608.6zM646.9 86.7H649.0V88.7H646.9zM570.9 88.7H573.0V90.7H570.9zM575.0 88.7H577.0V90.7H575.0zM581.0 88.7H585.1V90.7H581.0zM589.1 88.7H600.8V90.7H589.1zM604.7 88.7H606.7V90.7H604.7zM608.6 88.7H610.6V90.7H608.6zM632.2 88.7H638.5V90.7H632.2zM568.9 90.7H570.9V92.7H568.9zM581.0 90.7H583.0V92.7H581.0zM596.9 90.7H598.9V92.7H596.9zM636.4 90.7H640.6V92.7H636.4zM642.7 90.7H644.8V92.7H642.7zM651.1 90.7H653.2V92.7H651.1zM642.7 92.7H644.8V94.6H642.7zM651.1 92.7H653.2V94.6H651.1zM579.0 94.6H581.0V96.6H579.0zM640.6 94.6H642.7V96.6H640.6zM568.9 96.6H570.9V98.8H568.9zM579.0 96.6H581.0V98.8H579.0zM583.0 96.6H585.1V98.8H583.0zM596.9 96.6H598.9V98.8H596.9zM608.6 96.6H610.6V98.8H608.6zM612.6 96.6H614.5V98.8H612.6zM624.3 96.6H626.3V98.8H624.3zM579.0 98.8H581.0V100.9H579.0zM610.6 98.8H614.5V100.9H610.6zM624.3 98.8H626.3V100.9H624.3zM581.0 100.9H585.1V103.1H581.0zM591.1 100.9H593.0V103.1H591.1zM596.9 100.9H598.9V103.1H596.9zM604.7 100.9H606.7V103.1H604.7zM614.5 100.9H616.5V103.1H614.5zM618.5 100.9H620.4V103.1H618.5zM624.3 100.9H628.3V103.1H624.3zM610.6 103.1H614.5V105.3H610.6zM618.5 103.1H620.4V105.3H618.5zM626.3 103.1H628.3V105.3H626.3zM568.9 105.3H570.9V107.4H568.9zM575.0 105.3H577.0V107.4H575.0zM589.1 105.3H591.1V107.4H589.1zM606.7 105.3H608.6V107.4H606.7zM620.4 105.3H622.4V107.4H620.4zM630.2 105.3H632.2V107.4H630.2zM575.0 107.4H577.0V109.6H575.0zM585.1 107.4H587.1V109.6H585.1zM589.1 107.4H591.1V109.6H589.1zM598.9 107.4H600.8V109.6H598.9zM620.4 107.4H622.4V109.6H620.4zM626.3 107.4H630.2V109.6H626.3zM568.9 111.8H573.0V114.0H568.9zM589.1 111.8H591.1V114.0H589.1zM593.0 111.8H596.9V114.0H593.0zM608.6 111.8H610.6V114.0H608.6zM614.5 111.8H618.5V114.0H614.5zM622.4 111.8H624.3V114.0H622.4zM568.9 114.0H570.9V116.1H568.9zM583.0 114.0H585.1V116.1H583.0zM610.6 114.0H614.5V116.1H610.6zM616.5 114.0H620.4V116.1H616.5zM566.9 116.1H568.9V118.3H566.9zM587.1 116.1H589.1V118.3H587.1zM595.0 116.1H596.9V118.3H595.0zM606.7 116.1H608.6V118.3H606.7zM620.4 116.1H622.4V118.3H620.4zM626.3 116.1H630.2V118.3H626.3z"/>
<path fill="#ffa300" d="M602.8 32.6H604.7V34.4H602.8zM602.8 36.2H604.7V38.0H602.8zM589.1 38.0H591.1V39.8H589.1zM606.7 38.0H608.6V39.8H606.7zM614.5 38.0H616.5V39.8H614.5zM626.3 38.0H630.2V39.8H626.3zM636.4 38.0H640.6V39.8H636.4zM593.0 41.6H595.0V43.5H593.0zM606.7 41.6H610.6V43.5H606.7zM634.3 41.6H636.4V43.5H634.3zM638.5 41.6H640.6V43.5H638.5zM573.0 52.5H575.0V54.5H573.0zM577.0 56.6H579.0V58.6H577.0zM566.9 66.8H568.9V68.8H566.9zM570.9 66.8H573.0V68.8H570.9zM626.3 66.8H628.3V68.8H626.3zM638.5 66.8H640.6V68.8H638.5zM573.0 70.8H575.0V72.9H573.0zM577.0 70.8H579.0V72.9H577.0zM577.0 72.9H579.0V74.9H577.0zM573.0 78.8H575.0V80.8H573.0zM573.0 90.7H575.0V92.7H573.0zM602.8 90.7H604.7V92.7H602.8zM573.0 92.7H575.0V94.6H573.0zM577.0 98.8H579.0V100.9H577.0zM573.0 100.9H575.0V103.1H573.0zM573.0 103.1H575.0V105.3H573.0zM577.0 103.1H579.0V105.3H577.0zM602.8 103.1H604.7V105.3H602.8z"/>
<path fill="#ff6800" d="M608.6 32.6H610.6V34.4H608.6zM612.6 32.6H614.5V34.4H612.6zM616.5 32.6H620.4V34.4H616.5zM640.6 32.6H644.8V34.4H640.6zM646.9 32.6H649.0V34.4H646.9zM620.4 34.4H622.4V36.2H620.4zM651.1 34.4H653.2V36.2H651.1zM598.9 36.2H600.8V38.0H598.9zM608.6 36.2H610.6V38.0H608.6zM612.6 36.2H614.5V38.0H612.6zM616.5 36.2H618.5V38.0H616.5zM636.4 36.2H638.5V38.0H636.4zM642.7 36.2H644.8V38.0H642.7zM651.1 36.2H653.2V38.0H651.1zM589.1 39.8H591.1V41.6H589.1zM596.9 39.8H598.9V41.6H596.9zM600.8 39.8H602.8V41.6H600.8zM608.6 39.8H610.6V41.6H608.6zM614.5 39.8H616.5V41.6H614.5zM634.3 39.8H638.5V41.6H634.3zM610.6 41.6H612.6V43.5H610.6zM622.4 43.5H624.3V45.3H622.4zM638.5 43.5H640.6V45.3H638.5zM644.8 43.5H646.9V45.3H644.8zM604.7 45.3H606.7V47.1H604.7zM620.4 45.3H622.4V47.1H620.4zM628.3 45.3H630.2V47.1H628.3zM634.3 45.3H636.4V47.1H634.3zM638.5 45.3H640.6V47.1H638.5zM649.0 45.3H651.1V47.1H649.0zM598.9 47.1H600.8V48.9H598.9zM620.4 47.1H622.4V48.9H620.4zM626.3 47.1H628.3V48.9H626.3zM638.5 47.1H640.6V48.9H638.5zM642.7 47.1H644.8V48.9H642.7zM591.1 48.9H593.0V50.7H591.1zM596.9 48.9H598.9V50.7H596.9zM628.3 48.9H630.2V50.7H628.3zM636.4 48.9H638.5V50.7H636.4zM651.1 48.9H653.2V50.7H651.1zM595.0 50.7H596.9V52.5H595.0zM640.6 50.7H644.8V52.5H640.6zM646.9 50.7H649.0V52.5H646.9zM575.0 52.5H577.0V54.5H575.0zM614.5 52.5H616.5V54.5H614.5zM626.3 52.5H628.3V54.5H626.3zM585.1 54.5H587.1V56.6H585.1zM616.5 54.5H618.5V56.6H616.5zM626.3 54.5H630.2V56.6H626.3zM638.5 54.5H642.7V56.6H638.5zM651.1 54.5H653.2V56.6H651.1zM610.6 56.6H614.5V58.6H610.6zM616.5 56.6H620.4V58.6H616.5zM636.4 56.6H638.5V58.6H636.4zM642.7 56.6H644.8V58.6H642.7zM651.1 56.6H653.2V58.6H651.1zM587.1 58.6H589.1V60.6H587.1zM610.6 58.6H612.6V60.6H610.6zM614.5 58.6H618.5V60.6H614.5zM622.4 58.6H624.3V60.6H622.4zM626.3 58.6H628.3V60.6H626.3zM632.2 58.6H634.3V60.6H632.2zM636.4 58.6H638.5V60.6H636.4zM575.0 60.6H577.0V62.7H575.0zM585.1 60.6H587.1V62.7H585.1zM634.3 60.6H636.4V62.7H634.3zM638.5 60.6H640.6V62.7H638.5zM649.0 60.6H651.1V62.7H649.0zM570.9 62.7H573.0V64.7H570.9zM583.0 62.7H585.1V64.7H583.0zM620.4 62.7H622.4V64.7H620.4zM630.2 62.7H632.2V64.7H630.2zM636.4 62.7H638.5V64.7H636.4zM575.0 64.7H577.0V66.8H575.0zM610.6 64.7H612.6V66.8H610.6zM616.5 64.7H618.5V66.8H616.5zM620.4 64.7H622.4V66.8H620.4zM636.4 64.7H638.5V66.8H636.4zM640.6 64.7H642.7V66.8H640.6zM646.9 64.7H649.0V66.8H646.9zM581.0 68.8H583.0V70.8H581.0zM614.5 68.8H616.5V70.8H614.5zM618.5 68.8H620.4V70.8H618.5zM626.3 68.8H628.3V70.8H626.3zM646.9 68.8H649.0V70.8H646.9zM610.6 70.8H614.5V72.9H610.6zM618.5 70.8H620.4V72.9H618.5zM624.3 70.8H626.3V72.9H624.3zM642.7 70.8H644.8V72.9H642.7zM646.9 70.8H649.0V72.9H646.9zM566.9 72.9H568.9V74.9H566.9zM570.9 72.9H573.0V74.9H570.9zM575.0 72.9H577.0V74.9H575.0zM614.5 72.9H618.5V74.9H614.5zM630.2 72.9H632.2V74.9H630.2zM577.0 74.9H579.0V76.9H577.0zM593.0 74.9H596.9V76.9H593.0zM600.8 74.9H602.8V76.9H600.8zM606.7 74.9H608.6V76.9H606.7zM566.9 76.9H568.9V78.8H566.9zM570.9 76.9H573.0V78.8H570.9zM593.0 76.9H595.0V78.8H593.0zM606.7 76.9H608.6V78.8H606.7zM644.8 76.9H646.9V78.8H644.8zM575.0 78.8H577.0V80.8H575.0zM589.1 78.8H591.1V80.8H589.1zM595.0 78.8H596.9V80.8H595.0zM604.7 78.8H606.7V80.8H604.7zM608.6 78.8H610.6V80.8H608.6zM632.2 78.8H634.3V80.8H632.2zM566.9 80.8H568.9V82.8H566.9zM570.9 80.8H573.0V82.8H570.9zM591.1 80.8H596.9V82.8H591.1zM600.8 80.8H602.8V82.8H600.8zM608.6 80.8H610.6V82.8H608.6zM566.9 82.8H568.9V84.8H566.9zM593.0 82.8H595.0V84.8H593.0zM604.7 82.8H608.6V84.8H604.7zM632.2 82.8H636.4V84.8H632.2zM568.9 84.8H570.9V86.7H568.9zM581.0 84.8H585.1V86.7H581.0zM598.9 84.8H602.8V86.7H598.9zM632.2 84.8H634.3V86.7H632.2zM638.5 84.8H640.6V86.7H638.5zM579.0 86.7H581.0V88.7H579.0zM595.0 86.7H596.9V88.7H595.0zM632.2 86.7H634.3V88.7H632.2zM636.4 86.7H640.6V88.7H636.4zM642.7 86.7H644.8V88.7H642.7zM651.1 86.7H653.2V88.7H651.1zM606.7 88.7H608.6V90.7H606.7zM638.5 88.7H640.6V90.7H638.5zM644.8 88.7H646.9V90.7H644.8zM649.0 88.7H651.1V90.7H649.0zM583.0 90.7H585.1V92.7H583.0zM589.1 90.7H593.0V92.7H589.1zM595.0 90.7H596.9V92.7H595.0zM604.7 90.7H606.7V92.7H604.7zM632.2 90.7H634.3V92.7H632.2zM640.6 90.7H642.7V92.7H640.6zM646.9 90.7H649.0V92.7H646.9zM581.0 92.7H583.0V94.6H581.0zM585.1 92.7H587.1V94.6H585.1zM591.1 92.7H593.0V94.6H591.1zM646.9 92.7H649.0V94.6H646.9zM598.9 94.6H600.8V96.6H598.9zM608.6 94.6H610.6V96.6H608.6zM642.7 94.6H644.8V96.6H642.7zM646.9 94.6H649.0V96.6H646.9zM595.0 96.6H596.9V98.8H595.0zM614.5 96.6H616.5V98.8H614.5zM618.5 96.6H624.3V98.8H618.5zM626.3 96.6H628.3V98.8H626.3zM575.0 98.8H577.0V100.9H575.0zM581.0 98.8H583.0V100.9H581.0zM596.9 98.8H598.9V100.9H596.9zM618.5 98.8H620.4V100.9H618.5zM570.9 100.9H573.0V103.1H570.9zM575.0 100.9H577.0V103.1H575.0zM585.1 100.9H587.1V103.1H585.1zM593.0 100.9H596.9V103.1H593.0zM598.9 100.9H602.8V103.1H598.9zM622.4 100.9H624.3V103.1H622.4zM579.0 103.1H585.1V105.3H579.0zM591.1 103.1H593.0V105.3H591.1zM596.9 103.1H598.9V105.3H596.9zM620.4 103.1H626.3V105.3H620.4zM566.9 105.3H568.9V107.4H566.9zM587.1 105.3H589.1V107.4H587.1zM591.1 105.3H593.0V107.4H591.1zM600.8 105.3H602.8V107.4H600.8zM626.3 105.3H628.3V107.4H626.3zM566.9 107.4H568.9V109.6H566.9zM570.9 107.4H573.0V109.6H570.9zM583.0 107.4H585.1V109.6H583.0zM587.1 107.4H589.1V109.6H587.1zM593.0 107.4H595.0V109.6H593.0zM606.7 107.4H608.6V109.6H606.7zM622.4 107.4H624.3V109.6H622.4zM630.2 107.4H632.2V109.6H630.2zM579.0 109.6H581.0V111.8H579.0zM612.6 109.6H614.5V111.8H612.6zM624.3 109.6H626.3V111.8H624.3zM566.9 111.8H568.9V114.0H566.9zM587.1 111.8H589.1V114.0H587.1zM600.8 111.8H602.8V114.0H600.8zM604.7 111.8H608.6V114.0H604.7zM626.3 111.8H632.2V114.0H626.3zM581.0 114.0H583.0V116.1H581.0zM596.9 114.0H598.9V116.1H596.9zM624.3 114.0H626.3V116.1H624.3zM568.9 116.1H573.0V118.3H568.9zM585.1 116.1H587.1V118.3H585.1zM591.1 116.1H595.0V118.3H591.1zM622.4 116.1H624.3V118.3H622.4z"/>
<path fill="#ff7e00" d="M614.5 32.6H616.5V34.4H614.5zM620.4 32.6H622.4V34.4H620.4zM624.3 32.6H630.2V34.4H624.3zM632.2 32.6H640.6V34.4H632.2zM649.0 32.6H651.1V34.4H649.0zM606.7 34.4H608.6V36.2H606.7zM589.1 36.2H591.1V38.0H589.1zM593.0 36.2H595.0V38.0H593.0zM606.7 36.2H608.6V38.0H606.7zM626.3 36.2H630.2V38.0H626.3zM632.2 36.2H636.4V38.0H632.2zM638.5 36.2H640.6V38.0H638.5zM649.0 36.2H651.1V38.0H649.0zM610.6 38.0H612.6V39.8H610.6zM640.6 38.0H644.8V39.8H640.6zM651.1 38.0H653.2V39.8H651.1zM604.7 39.8H606.7V41.6H604.7zM620.4 39.8H622.4V41.6H620.4zM626.3 39.8H628.3V41.6H626.3zM630.2 39.8H632.2V41.6H630.2zM638.5 39.8H640.6V41.6H638.5zM596.9 41.6H600.8V43.5H596.9zM616.5 41.6H618.5V43.5H616.5zM640.6 41.6H642.7V43.5H640.6zM630.2 45.3H632.2V47.1H630.2zM644.8 45.3H646.9V47.1H644.8zM602.8 47.1H604.7V48.9H602.8zM630.2 47.1H632.2V48.9H630.2zM589.1 48.9H591.1V50.7H589.1zM593.0 48.9H596.9V50.7H593.0zM606.7 48.9H610.6V50.7H606.7zM614.5 48.9H616.5V50.7H614.5zM596.9 50.7H598.9V52.5H596.9zM620.4 50.7H624.3V52.5H620.4zM628.3 50.7H634.3V52.5H628.3zM638.5 50.7H640.6V52.5H638.5zM570.9 52.5H573.0V54.5H570.9zM585.1 52.5H587.1V54.5H585.1zM644.8 52.5H646.9V54.5H644.8zM649.0 52.5H651.1V54.5H649.0zM620.4 54.5H622.4V56.6H620.4zM634.3 54.5H636.4V56.6H634.3zM570.9 56.6H573.0V58.6H570.9zM585.1 56.6H587.1V58.6H585.1zM620.4 56.6H622.4V58.6H620.4zM632.2 56.6H634.3V58.6H632.2zM640.6 56.6H642.7V58.6H640.6zM649.0 56.6H651.1V58.6H649.0zM585.1 58.6H587.1V60.6H585.1zM630.2 58.6H632.2V60.6H630.2zM577.0 60.6H579.0V62.7H577.0zM587.1 60.6H589.1V62.7H587.1zM644.8 60.6H646.9V62.7H644.8zM577.0 62.7H579.0V64.7H577.0zM644.8 62.7H646.9V64.7H644.8zM626.3 64.7H628.3V66.8H626.3zM638.5 64.7H640.6V66.8H638.5zM649.0 64.7H651.1V66.8H649.0zM583.0 66.8H585.1V68.8H583.0zM612.6 66.8H614.5V68.8H612.6zM620.4 66.8H622.4V68.8H620.4zM642.7 66.8H644.8V68.8H642.7zM646.9 66.8H649.0V68.8H646.9zM651.1 66.8H653.2V68.8H651.1zM575.0 68.8H577.0V70.8H575.0zM628.3 68.8H630.2V70.8H628.3zM634.3 68.8H636.4V70.8H634.3zM568.9 70.8H573.0V72.9H568.9zM585.1 70.8H587.1V72.9H585.1zM614.5 70.8H616.5V72.9H614.5zM620.4 70.8H622.4V72.9H620.4zM628.3 70.8H632.2V72.9H628.3zM649.0 70.8H651.1V72.9H649.0zM585.1 72.9H587.1V74.9H585.1zM628.3 72.9H630.2V74.9H628.3zM644.8 72.9H646.9V74.9H644.8zM649.0 72.9H651.1V74.9H649.0zM573.0 74.9H575.0V76.9H573.0zM602.8 76.9H604.7V78.8H602.8zM566.9 78.8H568.9V80.8H566.9zM585.1 78.8H587.1V80.8H585.1zM606.7 78.8H608.6V80.8H606.7zM634.3 78.8H636.4V80.8H634.3zM649.0 78.8H651.1V80.8H649.0zM577.0 80.8H579.0V82.8H577.0zM566.9 84.8H568.9V86.7H566.9zM575.0 84.8H577.0V86.7H575.0zM587.1 84.8H589.1V86.7H587.1zM591.1 84.8H595.0V86.7H591.1zM602.8 84.8H604.7V86.7H602.8zM606.7 84.8H608.6V86.7H606.7zM634.3 84.8H636.4V86.7H634.3zM649.0 84.8H651.1V86.7H649.0zM587.1 86.7H589.1V88.7H587.1zM566.9 88.7H568.9V90.7H566.9zM566.9 90.7H568.9V92.7H566.9zM570.9 90.7H573.0V92.7H570.9zM575.0 90.7H577.0V92.7H575.0zM600.8 90.7H602.8V92.7H600.8zM644.8 90.7H646.9V92.7H644.8zM649.0 90.7H651.1V92.7H649.0zM566.9 92.7H568.9V94.6H566.9zM570.9 92.7H573.0V94.6H570.9zM587.1 92.7H589.1V94.6H587.1zM604.7 92.7H610.6V94.6H604.7zM632.2 92.7H634.3V94.6H632.2zM638.5 92.7H640.6V94.6H638.5zM649.0 92.7H651.1V94.6H649.0zM575.0 94.6H577.0V96.6H575.0zM581.0 94.6H585.1V96.6H581.0zM587.1 94.6H589.1V96.6H587.1zM595.0 94.6H596.9V96.6H595.0zM606.7 94.6H608.6V96.6H606.7zM632.2 94.6H640.6V96.6H632.2zM649.0 94.6H651.1V96.6H649.0zM566.9 96.6H568.9V98.8H566.9zM570.9 96.6H573.0V98.8H570.9zM587.1 96.6H589.1V98.8H587.1zM593.0 96.6H595.0V98.8H593.0zM628.3 96.6H632.2V98.8H628.3zM566.9 98.8H568.9V100.9H566.9zM570.9 98.8H573.0V100.9H570.9zM591.1 98.8H593.0V100.9H591.1zM604.7 98.8H606.7V100.9H604.7zM614.5 98.8H616.5V100.9H614.5zM620.4 98.8H622.4V100.9H620.4zM630.2 98.8H632.2V100.9H630.2zM566.9 100.9H568.9V103.1H566.9zM630.2 100.9H632.2V103.1H630.2zM566.9 103.1H568.9V105.3H566.9zM570.9 103.1H573.0V105.3H570.9zM575.0 103.1H577.0V105.3H575.0zM587.1 103.1H589.1V105.3H587.1zM600.8 103.1H602.8V105.3H600.8zM628.3 103.1H632.2V105.3H628.3zM573.0 105.3H575.0V107.4H573.0zM577.0 105.3H579.0V107.4H577.0zM593.0 105.3H595.0V107.4H593.0zM573.0 107.4H575.0V109.6H573.0zM602.8 107.4H604.7V109.6H602.8zM581.0 109.6H583.0V111.8H581.0zM589.1 109.6H591.1V111.8H589.1zM596.9 109.6H600.8V111.8H596.9zM608.6 109.6H610.6V111.8H608.6zM626.3 109.6H628.3V111.8H626.3zM602.8 111.8H604.7V114.0H602.8zM566.9 114.0H568.9V116.1H566.9zM570.9 114.0H573.0V116.1H570.9zM589.1 114.0H591.1V116.1H589.1zM593.0 114.0H595.0V116.1H593.0zM600.8 114.0H602.8V116.1H600.8zM606.7 114.0H610.6V116.1H606.7zM614.5 114.0H616.5V116.1H614.5zM620.4 114.0H622.4V116.1H620.4zM626.3 114.0H632.2V116.1H626.3zM573.0 116.1H575.0V118.3H573.0zM602.8 116.1H604.7V118.3H602.8z"/>
<path fill="#ff9400" d="M630.2 32.6H632.2V34.4H630.2zM644.8 32.6H646.9V34.4H644.8zM602.8 34.4H604.7V36.2H602.8zM595.0 38.0H596.9V39.8H595.0zM604.7 38.0H606.7V39.8H604.7zM624.3 38.0H626.3V39.8H624.3zM630.2 38.0H632.2V39.8H630.2zM602.8 39.8H604.7V41.6H602.8zM589.1 41.6H593.0V43.5H589.1zM595.0 41.6H596.9V43.5H595.0zM622.4 41.6H634.3V43.5H622.4zM644.8 41.6H646.9V43.5H644.8zM649.0 41.6H651.1V43.5H649.0zM600.8 48.9H604.7V50.7H600.8zM644.8 48.9H646.9V50.7H644.8zM593.0 50.7H595.0V52.5H593.0zM606.7 50.7H608.6V52.5H606.7zM634.3 50.7H636.4V52.5H634.3zM644.8 50.7H646.9V52.5H644.8zM649.0 50.7H651.1V52.5H649.0zM577.0 52.5H579.0V54.5H577.0zM577.0 54.5H579.0V56.6H577.0zM644.8 54.5H646.9V56.6H644.8zM587.1 56.6H589.1V58.6H587.1zM626.3 56.6H628.3V58.6H626.3zM573.0 58.6H575.0V60.6H573.0zM577.0 58.6H579.0V60.6H577.0zM585.1 64.7H587.1V66.8H585.1zM644.8 64.7H646.9V66.8H644.8zM568.9 66.8H570.9V68.8H568.9zM575.0 66.8H577.0V68.8H575.0zM585.1 66.8H587.1V68.8H585.1zM614.5 66.8H616.5V68.8H614.5zM628.3 66.8H632.2V68.8H628.3zM573.0 68.8H575.0V70.8H573.0zM587.1 70.8H589.1V72.9H587.1zM602.8 78.8H604.7V80.8H602.8zM577.0 86.7H579.0V88.7H577.0zM573.0 88.7H575.0V90.7H573.0zM577.0 88.7H579.0V90.7H577.0zM577.0 90.7H579.0V92.7H577.0zM593.0 90.7H595.0V92.7H593.0zM577.0 92.7H579.0V94.6H577.0zM602.8 92.7H604.7V94.6H602.8zM566.9 94.6H568.9V96.6H566.9zM573.0 94.6H575.0V96.6H573.0zM577.0 94.6H579.0V96.6H577.0zM602.8 94.6H604.7V96.6H602.8zM577.0 96.6H579.0V98.8H577.0zM587.1 98.8H589.1V100.9H587.1zM566.9 109.6H568.9V111.8H566.9zM577.0 109.6H579.0V111.8H577.0zM585.1 109.6H589.1V111.8H585.1zM591.1 109.6H593.0V111.8H591.1zM600.8 109.6H602.8V111.8H600.8zM577.0 114.0H579.0V116.1H577.0zM587.1 114.0H589.1V116.1H587.1z"/>
<path fill="#ff4e00" d="M596.9 34.4H598.9V36.2H596.9zM610.6 34.4H612.6V36.2H610.6zM616.5 34.4H618.5V36.2H616.5zM624.3 34.4H626.3V36.2H624.3zM636.4 34.4H638.5V36.2H636.4zM642.7 34.4H644.8V36.2H642.7zM610.6 36.2H612.6V38.0H610.6zM618.5 36.2H620.4V38.0H618.5zM640.6 36.2H642.7V38.0H640.6zM612.6 39.8H614.5V41.6H612.6zM616.5 39.8H620.4V41.6H616.5zM646.9 39.8H649.0V41.6H646.9zM651.1 39.8H653.2V41.6H651.1zM589.1 43.5H591.1V45.3H589.1zM595.0 43.5H596.9V45.3H595.0zM614.5 43.5H616.5V45.3H614.5zM620.4 43.5H622.4V45.3H620.4zM626.3 43.5H630.2V45.3H626.3zM598.9 45.3H600.8V47.1H598.9zM608.6 45.3H612.6V47.1H608.6zM618.5 45.3H620.4V47.1H618.5zM632.2 45.3H634.3V47.1H632.2zM640.6 45.3H644.8V47.1H640.6zM610.6 47.1H612.6V48.9H610.6zM616.5 47.1H618.5V48.9H616.5zM640.6 47.1H642.7V48.9H640.6zM651.1 47.1H653.2V48.9H651.1zM579.0 52.5H581.0V54.5H579.0zM636.4 52.5H638.5V54.5H636.4zM610.6 54.5H614.5V56.6H610.6zM618.5 54.5H620.4V56.6H618.5zM642.7 54.5H644.8V56.6H642.7zM646.9 54.5H649.0V56.6H646.9zM579.0 58.6H581.0V60.6H579.0zM618.5 58.6H620.4V60.6H618.5zM640.6 58.6H644.8V60.6H640.6zM568.9 60.6H570.9V62.7H568.9zM612.6 60.6H616.5V62.7H612.6zM620.4 60.6H622.4V62.7H620.4zM640.6 60.6H644.8V62.7H640.6zM646.9 60.6H649.0V62.7H646.9zM651.1 60.6H653.2V62.7H651.1zM581.0 62.7H583.0V64.7H581.0zM610.6 62.7H612.6V64.7H610.6zM622.4 62.7H624.3V64.7H622.4zM646.9 62.7H649.0V64.7H646.9zM651.1 62.7H653.2V64.7H651.1zM640.6 68.8H644.8V70.8H640.6zM581.0 72.9H583.0V74.9H581.0zM610.6 72.9H614.5V74.9H610.6zM636.4 72.9H638.5V74.9H636.4zM640.6 72.9H644.8V74.9H640.6zM568.9 74.9H573.0V76.9H568.9zM581.0 74.9H585.1V76.9H581.0zM591.1 74.9H593.0V76.9H591.1zM598.9 74.9H600.8V76.9H598.9zM608.6 74.9H610.6V76.9H608.6zM632.2 74.9H634.3V76.9H632.2zM575.0 76.9H577.0V78.8H575.0zM591.1 76.9H593.0V78.8H591.1zM596.9 76.9H598.9V78.8H596.9zM608.6 76.9H610.6V78.8H608.6zM579.0 78.8H581.0V80.8H579.0zM596.9 78.8H598.9V80.8H596.9zM640.6 78.8H644.8V80.8H640.6zM651.1 78.8H653.2V80.8H651.1zM568.9 80.8H570.9V82.8H568.9zM575.0 80.8H577.0V82.8H575.0zM583.0 80.8H585.1V82.8H583.0zM632.2 80.8H634.3V82.8H632.2zM636.4 80.8H638.5V82.8H636.4zM642.7 80.8H644.8V82.8H642.7zM651.1 80.8H653.2V82.8H651.1zM570.9 82.8H573.0V84.8H570.9zM575.0 82.8H577.0V84.8H575.0zM581.0 82.8H583.0V84.8H581.0zM591.1 82.8H593.0V84.8H591.1zM595.0 82.8H596.9V84.8H595.0zM579.0 84.8H581.0V86.7H579.0zM596.9 84.8H598.9V86.7H596.9zM636.4 84.8H638.5V86.7H636.4zM598.9 86.7H600.8V88.7H598.9zM640.6 86.7H642.7V88.7H640.6zM568.9 88.7H570.9V90.7H568.9zM640.6 88.7H642.7V90.7H640.6zM579.0 90.7H581.0V92.7H579.0zM579.0 92.7H581.0V94.6H579.0zM581.0 96.6H583.0V98.8H581.0zM610.6 96.6H612.6V98.8H610.6zM616.5 96.6H618.5V98.8H616.5zM568.9 100.9H570.9V103.1H568.9zM589.1 100.9H591.1V103.1H589.1zM608.6 100.9H610.6V103.1H608.6zM616.5 100.9H618.5V103.1H616.5zM620.4 100.9H622.4V103.1H620.4zM570.9 105.3H573.0V107.4H570.9zM581.0 105.3H585.1V107.4H581.0zM595.0 105.3H598.9V107.4H595.0zM604.7 105.3H606.7V107.4H604.7zM608.6 105.3H610.6V107.4H608.6zM614.5 105.3H616.5V107.4H614.5zM622.4 105.3H626.3V107.4H622.4zM568.9 107.4H570.9V109.6H568.9zM581.0 107.4H583.0V109.6H581.0zM591.1 107.4H593.0V109.6H591.1zM595.0 107.4H598.9V109.6H595.0zM604.7 107.4H606.7V109.6H604.7zM608.6 107.4H610.6V109.6H608.6zM614.5 107.4H618.5V109.6H614.5zM575.0 111.8H577.0V114.0H575.0zM591.1 111.8H593.0V114.0H591.1zM596.9 111.8H600.8V114.0H596.9zM575.0 116.1H577.0V118.3H575.0zM583.0 116.1H585.1V118.3H583.0zM596.9 116.1H600.8V118.3H596.9zM614.5 116.1H618.5V118.3H614.5z"/>
<path fill="#ff4300" d="M612.6 34.4H614.5V36.2H612.6zM618.5 34.4H620.4V36.2H618.5zM610.6 39.8H612.6V41.6H610.6zM591.1 43.5H593.0V45.3H591.1zM596.9 43.5H600.8V45.3H596.9zM608.6 43.5H610.6V45.3H608.6zM616.5 43.5H620.4V45.3H616.5zM624.3 43.5H626.3V45.3H624.3zM646.9 43.5H651.1V45.3H646.9zM616.5 45.3H618.5V47.1H616.5zM646.9 45.3H649.0V47.1H646.9zM651.1 45.3H653.2V47.1H651.1zM646.9 47.1H649.0V48.9H646.9zM651.1 52.5H653.2V54.5H651.1zM579.0 54.5H581.0V56.6H579.0zM579.0 60.6H581.0V62.7H579.0zM610.6 60.6H612.6V62.7H610.6zM616.5 60.6H620.4V62.7H616.5zM579.0 62.7H581.0V64.7H579.0zM614.5 62.7H620.4V64.7H614.5zM640.6 62.7H642.7V64.7H640.6zM651.1 68.8H653.2V70.8H651.1zM579.0 72.9H581.0V74.9H579.0zM651.1 72.9H653.2V74.9H651.1zM575.0 74.9H577.0V76.9H575.0zM596.9 74.9H598.9V76.9H596.9zM636.4 74.9H638.5V76.9H636.4zM640.6 74.9H644.8V76.9H640.6zM646.9 74.9H649.0V76.9H646.9zM651.1 74.9H653.2V76.9H651.1zM568.9 76.9H570.9V78.8H568.9zM636.4 76.9H638.5V78.8H636.4zM642.7 76.9H644.8V78.8H642.7zM646.9 76.9H649.0V78.8H646.9zM598.9 78.8H600.8V80.8H598.9zM579.0 80.8H583.0V82.8H579.0zM596.9 80.8H600.8V82.8H596.9zM640.6 80.8H642.7V82.8H640.6zM568.9 82.8H570.9V84.8H568.9zM579.0 82.8H581.0V84.8H579.0zM596.9 82.8H600.8V84.8H596.9zM642.7 82.8H644.8V84.8H642.7zM646.9 82.8H649.0V84.8H646.9zM651.1 82.8H653.2V84.8H651.1zM646.9 84.8H649.0V86.7H646.9zM579.0 88.7H581.0V90.7H579.0zM642.7 88.7H644.8V90.7H642.7zM646.9 88.7H649.0V90.7H646.9zM651.1 88.7H653.2V90.7H651.1zM640.6 92.7H642.7V94.6H640.6zM610.6 100.9H614.5V103.1H610.6zM598.9 105.3H600.8V107.4H598.9zM610.6 105.3H612.6V107.4H610.6zM616.5 105.3H618.5V107.4H616.5zM628.3 105.3H630.2V107.4H628.3zM610.6 107.4H614.5V109.6H610.6zM618.5 107.4H620.4V109.6H618.5zM624.3 107.4H626.3V109.6H624.3zM579.0 111.8H585.1V114.0H579.0zM610.6 111.8H614.5V114.0H610.6zM618.5 111.8H622.4V114.0H618.5zM624.3 111.8H626.3V114.0H624.3zM579.0 114.0H581.0V116.1H579.0zM581.0 116.1H583.0V118.3H581.0zM589.1 116.1H591.1V118.3H589.1zM604.7 116.1H606.7V118.3H604.7zM608.6 116.1H612.6V118.3H608.6zM618.5 116.1H620.4V118.3H618.5zM624.3 116.1H626.3V118.3H624.3z"/>
<path fill="#ffae00" d="M593.0 38.0H595.0V39.8H593.0zM600.8 38.0H602.8V39.8H600.8zM634.3 38.0H636.4V39.8H634.3zM600.8 41.6H602.8V43.5H600.8zM602.8 50.7H604.7V52.5H602.8zM573.0 56.6H575.0V58.6H573.0zM573.0 64.7H575.0V66.8H573.0zM577.0 64.7H579.0V66.8H577.0zM587.1 66.8H589.1V68.8H587.1zM644.8 66.8H646.9V68.8H644.8zM573.0 98.8H575.0V100.9H573.0zM602.8 109.6H604.7V111.8H602.8z"/>
<path fill="#ffb900" d="M602.8 38.0H604.7V39.8H602.8zM644.8 38.0H646.9V39.8H644.8zM602.8 41.6H604.7V43.5H602.8zM573.0 66.8H575.0V68.8H573.0zM577.0 66.8H579.0V68.8H577.0zM634.3 66.8H636.4V68.8H634.3zM602.8 98.8H604.7V100.9H602.8zM573.0 109.6H575.0V111.8H573.0z"/>
<path fill="#ff3800" d="M610.6 43.5H612.6V45.3H610.6zM636.4 43.5H638.5V45.3H636.4zM642.7 43.5H644.8V45.3H642.7zM612.6 45.3H614.5V47.1H612.6zM612.6 47.1H614.5V48.9H612.6zM618.5 72.9H620.4V74.9H618.5zM579.0 74.9H581.0V76.9H579.0zM581.0 76.9H585.1V78.8H581.0zM640.6 76.9H642.7V78.8H640.6zM651.1 76.9H653.2V78.8H651.1zM608.6 82.8H610.6V84.8H608.6zM640.6 82.8H642.7V84.8H640.6zM579.0 100.9H581.0V103.1H579.0zM612.6 105.3H614.5V107.4H612.6zM618.5 105.3H620.4V107.4H618.5zM579.0 107.4H581.0V109.6H579.0zM612.6 116.1H614.5V118.3H612.6z"/>
<path fill="#ff2d00" d="M612.6 43.5H614.5V45.3H612.6zM640.6 43.5H642.7V45.3H640.6zM579.0 76.9H581.0V78.8H579.0zM579.0 105.3H581.0V107.4H579.0z"/>
<path fill="#ff1e00" d="M651.1 43.5H653.2V45.3H651.1zM579.0 116.1H581.0V118.3H579.0z"/>
</g>
<text x="610.10" y="25.90" font-size="12.25" text-anchor="middle" textLength="42.54" lengthAdjust="spacingAndGlyphs" fill="#000">g = 5.7</text>
<defs><linearGradient id="jet" x1="0" y1="0" x2="0" y2="1"><stop offset="0.000" stop-color="#800000"/><stop offset="0.025" stop-color="#9b0000"/><stop offset="0.050" stop-color="#b60000"/><stop offset="0.075" stop-color="#d60000"/><stop offset="0.100" stop-color="#f10800"/><stop offset="0.125" stop-color="#ff1e00"/><stop offset="0.150" stop-color="#ff3800"/><stop offset="0.175" stop-color="#ff4e00"/><stop offset="0.200" stop-color="#ff6800"/><stop offset="0.225" stop-color="#ff7e00"/><stop offset="0.250" stop-color="#ff9400"/><stop offset="0.275" stop-color="#ffae00"/><stop offset="0.300" stop-color="#ffc400"/><stop offset="0.325" stop-color="#ffde00"/><stop offset="0.350" stop-color="#f8f500"/><stop offset="0.375" stop-color="#e4ff13"/><stop offset="0.400" stop-color="#ceff29"/><stop offset="0.425" stop-color="#baff3c"/><stop offset="0.450" stop-color="#a4ff53"/><stop offset="0.475" stop-color="#90ff66"/><stop offset="0.500" stop-color="#7dff7a"/><stop offset="0.525" stop-color="#66ff90"/><stop offset="0.550" stop-color="#53ffa4"/><stop offset="0.575" stop-color="#3cffba"/><stop offset="0.600" stop-color="#29ffce"/><stop offset="0.625" stop-color="#16ffe1"/><stop offset="0.650" stop-color="#00e4f8"/><stop offset="0.675" stop-color="#00ccff"/><stop offset="0.700" stop-color="#00b0ff"/><stop offset="0.725" stop-color="#0098ff"/><stop offset="0.750" stop-color="#0080ff"/><stop offset="0.775" stop-color="#0064ff"/><stop offset="0.800" stop-color="#004cff"/><stop offset="0.825" stop-color="#0030ff"/><stop offset="0.850" stop-color="#0018ff"/><stop offset="0.875" stop-color="#0000ff"/><stop offset="0.900" stop-color="#0000f1"/><stop offset="0.925" stop-color="#0000d6"/><stop offset="0.950" stop-color="#0000b6"/><stop offset="0.975" stop-color="#00009b"/><stop offset="1.000" stop-color="#000080"/></linearGradient></defs>
<rect x="660.9" y="32.3" width="6.00" height="86.10" fill="url(#jet)" stroke="#000" stroke-width="0.9"/>
<text x="672.20" y="121.40" font-size="8.63" text-anchor="start" textLength="12.88" lengthAdjust="spacingAndGlyphs" fill="#000">0.0</text>
<text x="672.20" y="104.18" font-size="8.63" text-anchor="start" textLength="12.88" lengthAdjust="spacingAndGlyphs" fill="#000">0.2</text>
<text x="672.20" y="86.96" font-size="8.63" text-anchor="start" textLength="12.88" lengthAdjust="spacingAndGlyphs" fill="#000">0.4</text>
<text x="672.20" y="69.74" font-size="8.63" text-anchor="start" textLength="12.88" lengthAdjust="spacingAndGlyphs" fill="#000">0.6</text>
<text x="672.20" y="52.52" font-size="8.63" text-anchor="start" textLength="12.88" lengthAdjust="spacingAndGlyphs" fill="#000">0.8</text>
<text x="672.20" y="35.30" font-size="8.63" text-anchor="start" textLength="12.88" lengthAdjust="spacingAndGlyphs" fill="#000">1.0</text>
<path d="M660.30 118.40H666.90M660.30 101.18H666.90M660.30 83.96H666.90M660.30 66.74H666.90M660.30 49.52H666.90M660.30 32.30H666.90" stroke="#000" stroke-width="0.8" opacity="0.75"/>
</svg></body></html>
